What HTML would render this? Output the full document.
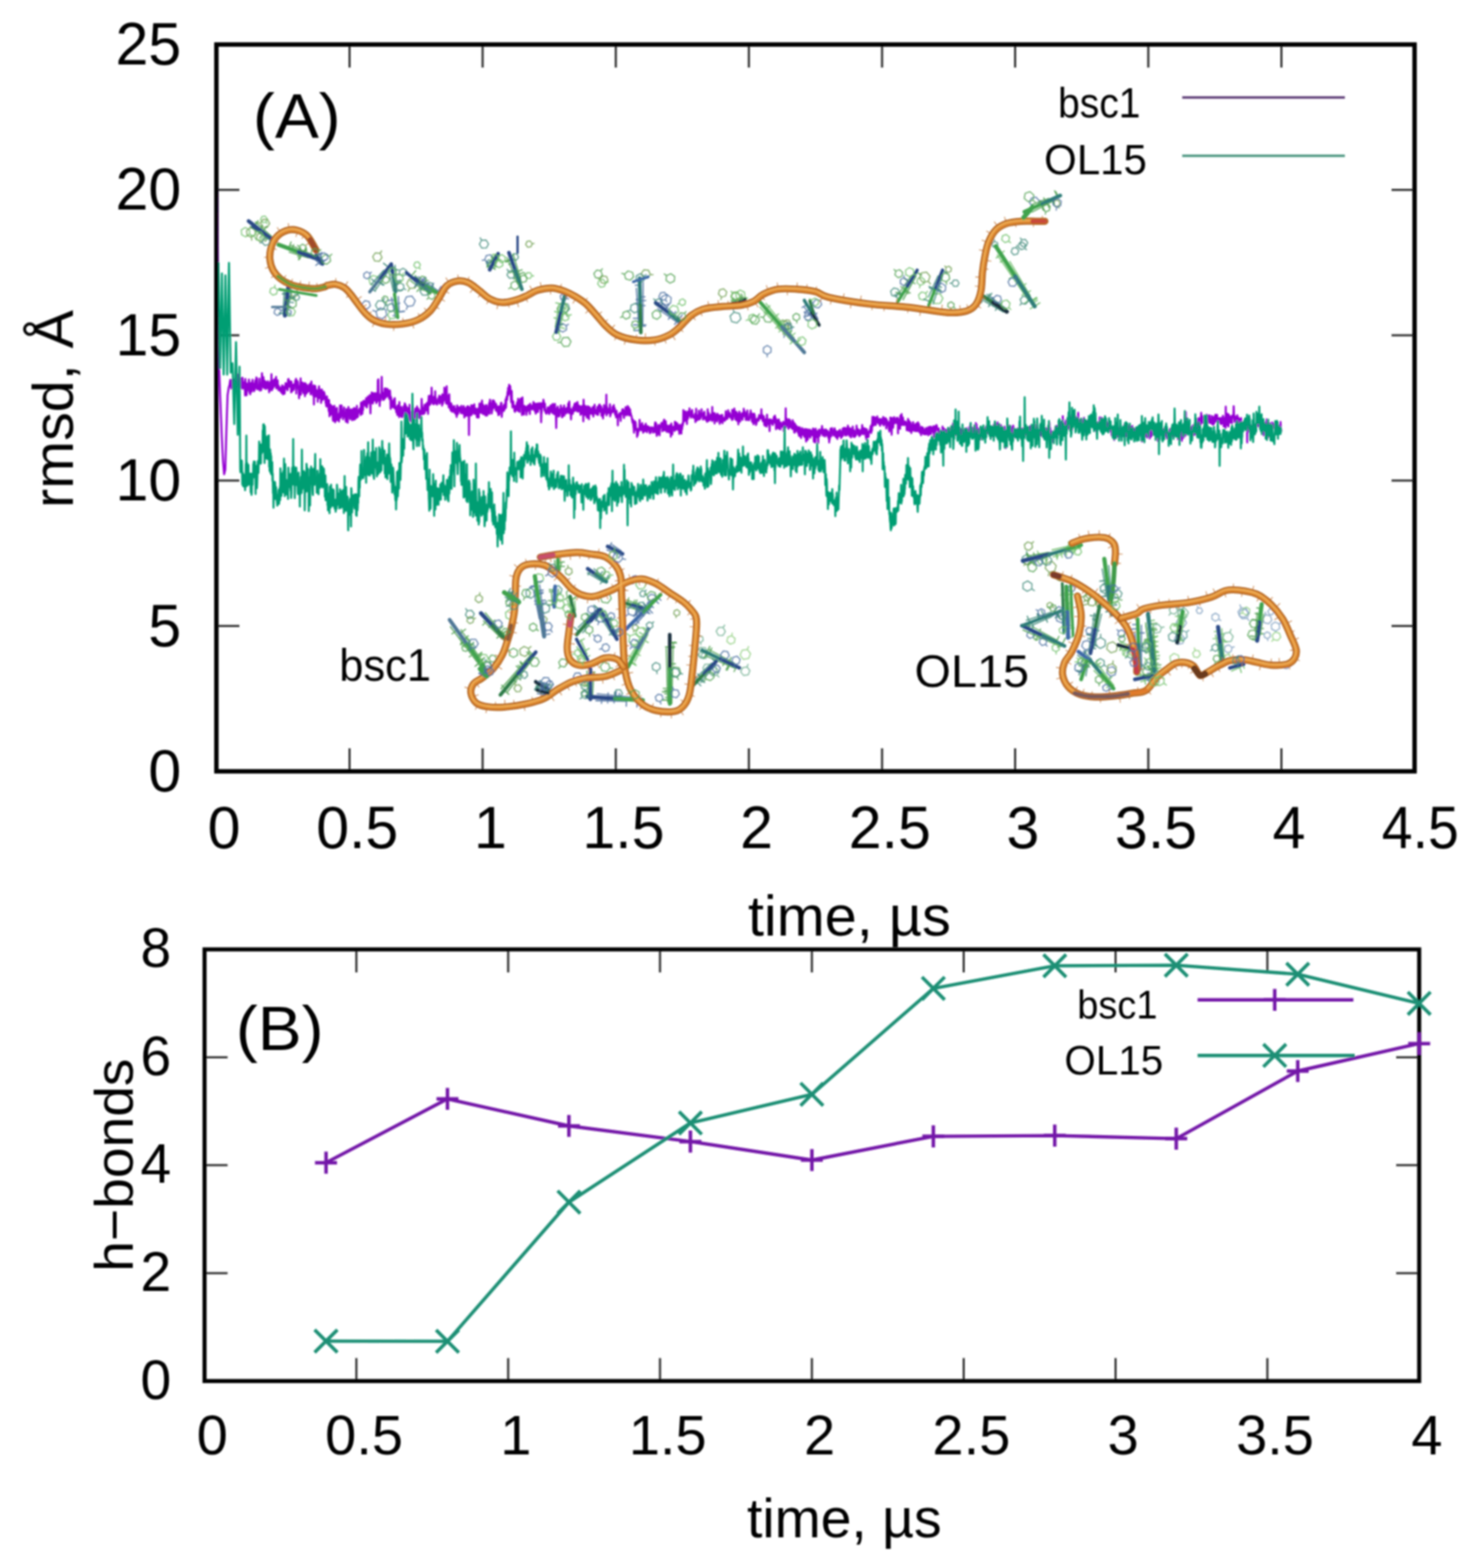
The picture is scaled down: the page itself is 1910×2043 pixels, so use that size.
<!DOCTYPE html>
<html><head><meta charset="utf-8"><title>rmsd and h-bonds</title>
<style>html,body{margin:0;padding:0;background:#fff;overflow:hidden}svg{display:block}
text{font-family:'Liberation Sans', Arial, Helvetica, sans-serif;fill:#000}</style></head>
<body><svg width="1910" height="2043" viewBox="0 0 1910 2043">
<defs><filter id="soft" filterUnits="userSpaceOnUse" x="0" y="0" width="1910" height="2043"><feGaussianBlur stdDeviation="0.8"/></filter></defs>
<rect width="1910" height="2043" fill="#fff"/>
<g filter="url(#soft)">
<path d="M455.4 1005.0v-30M455.4 58.0v30M628.8 1005.0v-30M628.8 58.0v30M802.3 1005.0v-30M802.3 58.0v30M975.7 1005.0v-30M975.7 58.0v30M1149.2 1005.0v-30M1149.2 58.0v30M1322.6 1005.0v-30M1322.6 58.0v30M1496.1 1005.0v-30M1496.1 58.0v30M1669.5 1005.0v-30M1669.5 58.0v30M281.9 815.6h30M1843.0 815.6h-30M281.9 626.2h30M1843.0 626.2h-30M281.9 436.8h30M1843.0 436.8h-30M281.9 247.4h30M1843.0 247.4h-30" stroke="#333" stroke-width="2.8" fill="none"/>
<rect x="281.9" y="58.0" width="1561.1" height="947.0" stroke="#000" stroke-width="5.3" fill="none"/>
<text x="236.1" y="1031.0" font-size="77" text-anchor="end" >0</text>
<text x="236.1" y="841.6" font-size="77" text-anchor="end" >5</text>
<text x="236.1" y="652.2" font-size="77" text-anchor="end" >10</text>
<text x="236.1" y="462.8" font-size="77" text-anchor="end" >15</text>
<text x="236.1" y="273.4" font-size="77" text-anchor="end" >20</text>
<text x="236.1" y="84.0" font-size="77" text-anchor="end" >25</text>
<text x="291.9" y="1104.5" font-size="77" text-anchor="middle" >0</text>
<text x="465.4" y="1104.5" font-size="77" text-anchor="middle" >0.5</text>
<text x="638.8" y="1104.5" font-size="77" text-anchor="middle" >1</text>
<text x="812.3" y="1104.5" font-size="77" text-anchor="middle" >1.5</text>
<text x="985.7" y="1104.5" font-size="77" text-anchor="middle" >2</text>
<text x="1159.2" y="1104.5" font-size="77" text-anchor="middle" >2.5</text>
<text x="1332.6" y="1104.5" font-size="77" text-anchor="middle" >3</text>
<text x="1506.1" y="1104.5" font-size="77" text-anchor="middle" >3.5</text>
<text x="1679.5" y="1104.5" font-size="77" text-anchor="middle" >4</text>
<text x="1800.3" y="1104.5" font-size="77" textLength="100.3" lengthAdjust="spacingAndGlyphs">4.5</text>
<text x="974.5" y="1218.6" font-size="75" textLength="264.3" lengthAdjust="spacingAndGlyphs">time, µs</text>
<text transform="translate(95.0 656.9) rotate(-90)" x="-4.9" y="0" font-size="75" textLength="257.9" lengthAdjust="spacingAndGlyphs">rmsd, Å</text>
<text x="329.6" y="179.2" font-size="82" textLength="114.3" lengthAdjust="spacingAndGlyphs">(A)</text>
<text x="1378.5" y="152.9" font-size="55" textLength="107.4" lengthAdjust="spacingAndGlyphs">bsc1</text>
<text x="1360.3" y="226.5" font-size="56" textLength="134.0" lengthAdjust="spacingAndGlyphs">OL15</text>
<path d="M1540.3 127.1H1752.2" stroke="#55306e" stroke-width="3"/>
<path d="M1540.3 203H1752.2" stroke="#3f8f78" stroke-width="3"/>
<path d="M464.3 1799.4v-30M464.3 1237.0v30M662.1 1799.4v-30M662.1 1237.0v30M859.9 1799.4v-30M859.9 1237.0v30M1057.8 1799.4v-30M1057.8 1237.0v30M1255.6 1799.4v-30M1255.6 1237.0v30M1453.4 1799.4v-30M1453.4 1237.0v30M1651.2 1799.4v-30M1651.2 1237.0v30M266.5 1658.8h30M1849.0 1658.8h-30M266.5 1518.2h30M1849.0 1518.2h-30M266.5 1377.6h30M1849.0 1377.6h-30" stroke="#333" stroke-width="2.8" fill="none"/>
<rect x="266.5" y="1237.0" width="1582.5" height="562.4" stroke="#000" stroke-width="5.3" fill="none"/>
<text x="223.1" y="1822.6" font-size="72" text-anchor="end" >0</text>
<text x="223.1" y="1682.0" font-size="72" text-anchor="end" >2</text>
<text x="223.1" y="1541.4" font-size="72" text-anchor="end" >4</text>
<text x="223.1" y="1400.8" font-size="72" text-anchor="end" >6</text>
<text x="223.1" y="1260.2" font-size="72" text-anchor="end" >8</text>
<text x="276.5" y="1894.6" font-size="73" text-anchor="middle" >0</text>
<text x="474.3" y="1894.6" font-size="73" text-anchor="middle" >0.5</text>
<text x="672.1" y="1894.6" font-size="73" text-anchor="middle" >1</text>
<text x="869.9" y="1894.6" font-size="73" text-anchor="middle" >1.5</text>
<text x="1067.8" y="1894.6" font-size="73" text-anchor="middle" >2</text>
<text x="1265.6" y="1894.6" font-size="73" text-anchor="middle" >2.5</text>
<text x="1463.4" y="1894.6" font-size="73" text-anchor="middle" >3</text>
<text x="1661.2" y="1894.6" font-size="73" text-anchor="middle" >3.5</text>
<text x="1859.0" y="1894.6" font-size="73" text-anchor="middle" >4</text>
<text x="973.2" y="2003.3" font-size="72" textLength="253.7" lengthAdjust="spacingAndGlyphs">time, µs</text>
<text transform="translate(173.0 1652.0) rotate(-90)" x="-5.0" y="0" font-size="71" textLength="277.8" lengthAdjust="spacingAndGlyphs">h−bonds</text>
<text x="307.3" y="1367.6" font-size="82" textLength="114.4" lengthAdjust="spacingAndGlyphs">(B)</text>
<text x="1403.4" y="1326.6" font-size="52" textLength="104.6" lengthAdjust="spacingAndGlyphs">bsc1</text>
<text x="1386.8" y="1400.3" font-size="53" textLength="128.6" lengthAdjust="spacingAndGlyphs">OL15</text>
<text x="442.1" y="887.1" font-size="60" textLength="119.5" lengthAdjust="spacingAndGlyphs">bsc1</text>
<text x="1191.6" y="895.3" font-size="60" textLength="149.1" lengthAdjust="spacingAndGlyphs">OL15</text>
<polyline points="282.6,228.0 283.2,260.0 283.8,330.0 284.5,420.0 285.5,480.0 287.0,520.0 289.0,570.0 290.5,600.0 292.0,618.0 293.5,612.0 295.0,560.0 296.5,515.0 298.0,505.0 299.0,502.0 300.0,495.1 300.3,501.9 300.7,503.4 301.0,500.4 301.3,506.3 301.7,504.0 302.0,494.9 302.3,500.7 302.7,495.9 303.0,502.0 303.3,496.0 303.7,504.6 304.0,502.4 304.3,506.5 304.7,499.3 305.0,494.0 305.3,507.7 305.7,498.6 306.0,504.2 306.3,499.1 306.7,499.0 307.0,504.7 307.3,497.2 307.7,503.0 308.0,490.4 308.3,501.5 308.7,494.6 309.0,491.1 309.3,496.5 309.7,498.7 310.0,503.9 310.3,487.9 310.7,496.4 311.0,492.8 311.3,503.0 311.7,495.5 312.0,500.0 312.3,497.4 312.7,502.1 313.0,504.0 313.3,497.9 313.7,500.4 314.0,492.8 314.3,501.2 314.7,505.3 315.0,497.6 315.3,506.4 315.7,492.0 316.0,492.6 316.3,496.8 316.7,501.6 317.0,502.8 317.3,502.5 317.7,503.1 318.0,506.5 318.3,501.7 318.7,497.9 319.0,498.5 319.3,515.2 319.7,493.8 320.0,503.8 320.3,510.8 320.7,506.4 321.0,499.2 321.3,515.0 321.7,506.4 322.0,508.9 322.3,500.2 322.7,506.5 323.0,503.5 323.3,508.1 323.7,507.7 324.0,499.5 324.3,494.6 324.7,504.4 325.0,511.5 325.3,506.2 325.7,503.8 326.0,513.6 326.3,499.2 326.7,507.7 327.0,500.7 327.3,503.9 327.7,503.9 328.0,510.3 328.3,498.1 328.7,500.0 329.0,494.9 329.3,507.4 329.7,501.9 330.0,505.9 330.3,499.6 330.7,502.5 331.0,509.8 331.3,504.1 331.7,508.2 332.0,506.4 332.3,502.6 332.7,495.5 333.0,505.5 333.3,501.8 333.7,505.0 334.0,491.7 334.3,495.6 334.7,492.7 335.0,498.1 335.3,507.3 335.7,505.7 336.0,502.8 336.3,503.5 336.7,507.1 337.0,502.7 337.3,505.0 337.7,503.8 338.0,493.2 338.3,500.6 338.7,509.0 339.0,500.3 339.3,502.5 339.7,500.7 340.0,501.4 340.3,508.3 340.7,501.9 341.0,496.7 341.3,486.3 341.7,498.7 342.0,490.6 342.3,492.5 342.7,503.3 343.0,504.0 343.3,491.5 343.7,505.4 344.0,503.9 344.3,497.1 344.7,505.5 345.0,496.2 345.3,498.1 345.7,496.9 346.0,498.3 346.3,506.7 346.7,497.7 347.0,498.1 347.3,499.0 347.7,503.7 348.0,500.8 348.3,505.4 348.7,499.6 349.0,496.9 349.3,501.6 349.7,506.4 350.0,499.1 350.3,504.5 350.7,511.2 351.0,500.3 351.3,503.0 351.7,508.9 352.0,498.6 352.3,497.3 352.7,497.9 353.0,504.4 353.3,504.1 353.7,487.5 354.0,504.0 354.3,508.4 354.7,506.6 355.0,495.8 355.3,500.8 355.7,502.4 356.0,505.4 356.3,501.4 356.7,499.0 357.0,500.5 357.3,494.2 357.7,502.3 358.0,498.9 358.3,503.0 358.7,500.9 359.0,500.2 359.3,498.2 359.7,491.1 360.0,505.9 360.3,500.3 360.7,505.2 361.0,497.9 361.3,503.5 361.7,495.5 362.0,502.3 362.3,502.8 362.7,508.1 363.0,505.7 363.3,502.8 363.7,508.4 364.0,506.3 364.3,507.7 364.7,509.2 365.0,506.0 365.3,505.6 365.7,509.1 366.0,505.0 366.3,509.8 366.7,511.7 367.0,511.1 367.3,505.7 367.7,502.1 368.0,509.1 368.3,509.7 368.7,513.8 369.0,505.0 369.3,506.4 369.7,509.6 370.0,503.9 370.3,506.0 370.7,513.0 371.0,510.0 371.3,506.5 371.7,505.1 372.0,499.3 372.3,506.5 372.7,503.5 373.0,503.1 373.3,499.9 373.7,501.6 374.0,499.7 374.3,502.9 374.7,508.4 375.0,504.2 375.3,494.3 375.7,497.2 376.0,493.9 376.3,497.1 376.7,504.0 377.0,502.9 377.3,499.1 377.7,503.7 378.0,501.1 378.3,496.9 378.7,498.0 379.0,500.5 379.3,511.1 379.7,497.2 380.0,508.9 380.3,510.2 380.7,503.3 381.0,504.1 381.3,501.4 381.7,505.3 382.0,508.4 382.3,503.5 382.7,507.6 383.0,507.0 383.3,500.6 383.7,500.7 384.0,500.8 384.3,503.1 384.7,495.8 385.0,502.4 385.3,503.0 385.7,493.5 386.0,512.8 386.3,498.7 386.7,499.5 387.0,505.7 387.3,496.2 387.7,501.7 388.0,497.5 388.3,500.6 388.7,503.9 389.0,507.1 389.3,509.6 389.7,518.9 390.0,510.1 390.3,506.3 390.7,503.3 391.0,511.9 391.3,504.1 391.7,493.0 392.0,514.2 392.3,508.4 392.7,506.1 393.0,508.6 393.3,509.4 393.7,498.2 394.0,503.9 394.3,499.0 394.7,506.2 395.0,500.9 395.3,512.2 395.7,509.8 396.0,503.1 396.3,506.3 396.7,499.2 397.0,506.5 397.3,516.1 397.7,509.1 398.0,499.5 398.3,506.7 398.7,510.6 399.0,509.2 399.3,512.8 399.7,501.5 400.0,511.1 400.3,506.0 400.7,509.6 401.0,509.8 401.3,510.4 401.7,505.9 402.0,509.7 402.3,503.3 402.7,501.6 403.0,509.5 403.3,506.6 403.7,500.2 404.0,503.3 404.3,507.0 404.7,513.8 405.0,511.6 405.3,509.0 405.7,497.0 406.0,504.2 406.3,507.8 406.7,506.9 407.0,507.6 407.3,506.1 407.7,515.0 408.0,513.1 408.3,506.1 408.7,502.1 409.0,526.9 409.3,503.7 409.7,513.6 410.0,516.5 410.3,503.4 410.7,503.0 411.0,506.0 411.3,509.1 411.7,507.6 412.0,516.7 412.3,509.9 412.7,508.6 413.0,515.4 413.3,509.4 413.7,509.6 414.0,523.4 414.3,509.1 414.7,510.1 415.0,511.4 415.3,506.6 415.7,503.3 416.0,518.8 416.3,509.6 416.7,510.0 417.0,510.6 417.3,508.3 417.7,507.9 418.0,514.1 418.3,524.9 418.7,517.2 419.0,517.5 419.3,507.5 419.7,514.5 420.0,509.9 420.3,521.1 420.7,517.5 421.0,519.2 421.3,517.5 421.7,516.1 422.0,510.6 422.3,519.7 422.7,512.3 423.0,514.7 423.3,519.3 423.7,516.5 424.0,521.5 424.3,525.2 424.7,523.2 425.0,529.0 425.3,525.7 425.7,529.5 426.0,516.6 426.3,527.5 426.7,522.1 427.0,520.5 427.3,527.1 427.7,525.1 428.0,531.4 428.3,535.6 428.7,521.4 429.0,531.9 429.3,542.4 429.7,537.8 430.0,540.7 430.3,534.8 430.7,527.3 431.0,528.2 431.3,538.2 431.7,540.0 432.0,533.2 432.3,537.0 432.7,538.5 433.0,529.4 433.3,536.3 433.7,545.9 434.0,548.4 434.3,538.9 434.7,548.1 435.0,536.3 435.3,534.3 435.7,528.7 436.0,544.0 436.3,536.2 436.7,550.2 437.0,541.6 437.3,542.2 437.7,532.6 438.0,547.6 438.3,538.0 438.7,541.3 439.0,531.6 439.3,547.4 439.7,546.9 440.0,539.6 440.3,541.1 440.7,542.2 441.0,545.8 441.3,540.7 441.7,549.2 442.0,540.5 442.3,537.8 442.7,538.1 443.0,528.3 443.3,536.4 443.7,544.4 444.0,540.4 444.3,535.4 444.7,540.1 445.0,528.3 445.3,536.7 445.7,541.6 446.0,541.3 446.3,534.9 446.7,542.4 447.0,546.3 447.3,536.9 447.7,542.1 448.0,533.3 448.3,530.9 448.7,543.3 449.0,540.6 449.3,540.9 449.7,538.0 450.0,539.4 450.3,545.2 450.7,549.4 451.0,539.6 451.3,533.1 451.7,546.8 452.0,544.7 452.3,544.4 452.7,542.2 453.0,550.6 453.3,541.1 453.7,542.4 454.0,530.2 454.3,536.4 454.7,537.3 455.0,539.2 455.3,540.3 455.7,535.0 456.0,545.9 456.3,533.9 456.7,539.4 457.0,539.4 457.3,533.6 457.7,541.7 458.0,542.8 458.3,538.0 458.7,547.5 459.0,537.9 459.3,541.1 459.7,535.5 460.0,532.8 460.3,537.9 460.7,539.7 461.0,539.4 461.3,547.0 461.7,531.6 462.0,536.1 462.3,532.2 462.7,546.0 463.0,538.3 463.3,539.6 463.7,536.2 464.0,544.5 464.3,538.0 464.7,542.0 465.0,528.8 465.3,544.0 465.7,539.3 466.0,540.9 466.3,542.9 466.7,535.9 467.0,534.5 467.3,537.7 467.7,537.6 468.0,535.1 468.3,535.8 468.7,532.2 469.0,535.9 469.3,536.5 469.7,532.2 470.0,540.6 470.3,524.7 470.7,529.5 471.0,538.3 471.3,528.4 471.7,524.0 472.0,539.1 472.3,534.6 472.7,525.4 473.0,534.1 473.3,524.8 473.7,522.4 474.0,527.5 474.3,524.9 474.7,522.6 475.0,525.8 475.3,523.0 475.7,527.6 476.0,526.4 476.3,529.1 476.7,523.3 477.0,518.8 477.3,519.0 477.7,523.9 478.0,530.9 478.3,527.8 478.7,519.8 479.0,526.6 479.3,516.8 479.7,525.0 480.0,519.0 480.3,524.6 480.7,523.9 481.0,519.5 481.3,522.1 481.7,514.9 482.0,519.4 482.3,524.4 482.7,538.6 483.0,521.9 483.3,519.5 483.7,514.7 484.0,524.2 484.3,511.3 484.7,515.8 485.0,519.6 485.3,512.9 485.7,525.8 486.0,524.0 486.3,516.6 486.7,516.0 487.0,512.2 487.3,512.3 487.7,521.0 488.0,521.8 488.3,519.0 488.7,519.0 489.0,516.1 489.3,521.0 489.7,512.4 490.0,517.5 490.3,525.1 490.7,524.2 491.0,513.6 491.3,514.6 491.7,521.3 492.0,522.3 492.3,495.3 492.7,513.3 493.0,494.3 493.3,521.2 493.7,513.4 494.0,521.6 494.3,517.0 494.7,529.0 495.0,518.8 495.3,515.5 495.7,515.0 496.0,521.8 496.3,520.2 496.7,512.9 497.0,518.1 497.3,491.1 497.7,514.1 498.0,512.0 498.3,512.7 498.7,515.8 499.0,513.9 499.3,521.0 499.7,521.1 500.0,514.7 500.3,511.2 500.7,520.0 501.0,507.2 501.3,506.1 501.7,518.1 502.0,517.4 502.3,518.2 502.7,510.9 503.0,506.2 503.3,510.9 503.7,516.4 504.0,509.9 504.3,510.5 504.7,508.1 505.0,506.8 505.3,516.3 505.7,515.3 506.0,508.7 506.3,510.8 506.7,514.2 507.0,519.4 507.3,512.2 507.7,517.9 508.0,508.7 508.3,513.1 508.7,522.1 509.0,532.6 509.3,517.0 509.7,519.0 510.0,526.7 510.3,522.7 510.7,522.2 511.0,528.7 511.3,526.4 511.7,530.7 512.0,529.4 512.3,524.1 512.7,527.5 513.0,526.6 513.3,520.2 513.7,522.7 514.0,531.6 514.3,518.9 514.7,532.4 515.0,530.2 515.3,529.1 515.7,532.3 516.0,533.5 516.3,537.1 516.7,531.1 517.0,531.4 517.3,530.6 517.7,540.7 518.0,535.9 518.3,528.0 518.7,531.0 519.0,528.6 519.3,532.1 519.7,532.8 520.0,543.4 520.3,523.9 520.7,536.8 521.0,535.4 521.3,532.2 521.7,536.4 522.0,534.6 522.3,537.0 522.7,542.6 523.0,530.4 523.3,542.3 523.7,534.5 524.0,543.4 524.3,537.5 524.7,539.7 525.0,535.4 525.3,538.6 525.7,533.4 526.0,529.4 526.3,536.7 526.7,537.6 527.0,543.8 527.3,525.5 527.7,533.2 528.0,538.8 528.3,527.4 528.7,533.5 529.0,544.4 529.3,540.7 529.7,530.0 530.0,540.7 530.3,540.4 530.7,537.3 531.0,534.8 531.3,534.2 531.7,531.7 532.0,534.4 532.3,540.1 532.7,538.0 533.0,547.7 533.3,537.3 533.7,527.3 534.0,537.8 534.3,540.9 534.7,541.8 535.0,539.7 535.3,537.2 535.7,549.1 536.0,539.3 536.3,545.8 536.7,539.0 537.0,535.2 537.3,546.8 537.7,529.0 538.0,537.0 538.3,542.4 538.7,537.1 539.0,543.6 539.3,538.0 539.7,536.2 540.0,547.8 540.3,536.6 540.7,535.0 541.0,532.3 541.3,534.3 541.7,541.9 542.0,543.4 542.3,540.8 542.7,535.8 543.0,541.5 543.3,529.6 543.7,535.7 544.0,536.5 544.3,532.3 544.7,537.7 545.0,532.9 545.3,532.6 545.7,544.4 546.0,539.2 546.3,541.1 546.7,535.3 547.0,538.9 547.3,536.4 547.7,538.5 548.0,545.5 548.3,535.1 548.7,538.2 549.0,536.9 549.3,519.8 549.7,530.4 550.0,536.3 550.3,538.5 550.7,532.1 551.0,539.6 551.3,539.4 551.7,531.0 552.0,538.1 552.3,538.9 552.7,534.8 553.0,527.5 553.3,538.1 553.7,530.6 554.0,529.8 554.3,530.5 554.7,526.9 555.0,534.7 555.3,533.1 555.7,534.7 556.0,532.7 556.3,525.1 556.7,527.6 557.0,531.4 557.3,526.3 557.7,539.3 558.0,523.7 558.3,521.3 558.7,515.9 559.0,528.0 559.3,525.2 559.7,522.3 560.0,525.7 560.3,527.2 560.7,526.2 561.0,515.3 561.3,524.3 561.7,524.4 562.0,523.9 562.3,505.1 562.7,515.0 563.0,516.2 563.3,519.3 563.7,522.8 564.0,526.1 564.3,523.4 564.7,519.5 565.0,519.6 565.3,526.8 565.7,516.7 566.0,520.7 566.3,525.0 566.7,520.5 567.0,509.8 567.3,521.6 567.7,518.4 568.0,520.5 568.3,526.0 568.7,524.6 569.0,521.6 569.3,527.2 569.7,525.4 570.0,522.5 570.3,523.3 570.7,522.9 571.0,520.4 571.3,518.7 571.7,522.5 572.0,518.1 572.3,515.6 572.7,525.9 573.0,518.8 573.3,520.0 573.7,519.0 574.0,520.1 574.3,519.7 574.7,520.7 575.0,516.2 575.3,524.4 575.7,518.0 576.0,528.4 576.3,513.7 576.7,517.2 577.0,525.9 577.3,521.4 577.7,518.0 578.0,522.5 578.3,516.0 578.7,520.4 579.0,505.1 579.3,517.2 579.7,514.6 580.0,519.2 580.3,520.9 580.7,513.6 581.0,525.2 581.3,513.9 581.7,507.3 582.0,503.3 582.3,526.3 582.7,519.4 583.0,516.6 583.3,517.1 583.7,515.9 584.0,526.7 584.3,520.0 584.7,530.7 585.0,522.3 585.3,513.9 585.7,528.6 586.0,524.3 586.3,524.7 586.7,533.2 587.0,527.5 587.3,534.9 587.7,529.2 588.0,525.8 588.3,532.1 588.7,528.3 589.0,536.4 589.3,533.7 589.7,529.7 590.0,532.6 590.3,532.8 590.7,530.5 591.0,536.4 591.3,532.2 591.7,535.2 592.0,529.0 592.3,536.0 592.7,538.1 593.0,532.8 593.3,534.3 593.7,535.0 594.0,539.6 594.3,532.5 594.7,538.0 595.0,543.3 595.3,537.2 595.7,528.2 596.0,535.7 596.3,539.8 596.7,533.4 597.0,538.6 597.3,536.3 597.7,536.1 598.0,532.0 598.3,530.6 598.7,532.4 599.0,532.9 599.3,535.2 599.7,533.8 600.0,531.6 600.3,535.4 600.7,538.5 601.0,528.7 601.3,533.0 601.7,532.6 602.0,535.1 602.3,535.9 602.7,534.4 603.0,532.2 603.3,539.0 603.7,538.1 604.0,529.1 604.3,535.8 604.7,530.5 605.0,543.9 605.3,533.7 605.7,534.2 606.0,535.6 606.3,532.2 606.7,533.6 607.0,541.6 607.3,535.5 607.7,538.2 608.0,540.4 608.3,530.1 608.7,541.5 609.0,536.7 609.3,539.0 609.7,529.2 610.0,538.0 610.3,535.4 610.7,530.0 611.0,566.7 611.3,536.2 611.7,531.2 612.0,533.0 612.3,537.2 612.7,539.3 613.0,536.3 613.3,539.5 613.7,541.3 614.0,528.1 614.3,531.8 614.7,529.6 615.0,533.8 615.3,539.5 615.7,536.0 616.0,528.2 616.3,531.1 616.7,536.9 617.0,530.8 617.3,533.0 617.7,535.6 618.0,526.8 618.3,539.1 618.7,538.9 619.0,538.8 619.3,532.1 619.7,532.4 620.0,534.6 620.3,539.6 620.7,536.5 621.0,535.5 621.3,543.6 621.7,541.9 622.0,532.9 622.3,532.9 622.7,543.9 623.0,534.8 623.3,542.2 623.7,543.9 624.0,531.7 624.3,533.4 624.7,525.9 625.0,530.4 625.3,529.5 625.7,531.3 626.0,537.4 626.3,530.5 626.7,530.9 627.0,528.4 627.3,524.5 627.7,538.3 628.0,521.8 628.3,529.5 628.7,536.0 629.0,527.0 629.3,536.1 629.7,539.6 630.0,530.7 630.3,535.2 630.7,528.8 631.0,536.0 631.3,534.1 631.7,533.8 632.0,540.1 632.3,535.5 632.7,541.4 633.0,535.8 633.3,527.7 633.7,534.8 634.0,535.4 634.3,528.3 634.7,541.3 635.0,536.8 635.3,538.7 635.7,531.9 636.0,535.7 636.3,536.9 636.7,533.9 637.0,535.6 637.3,525.0 637.7,539.2 638.0,527.6 638.3,520.7 638.7,526.9 639.0,527.0 639.3,532.9 639.7,526.3 640.0,532.3 640.3,525.5 640.7,538.8 641.0,530.7 641.3,535.8 641.7,521.9 642.0,531.7 642.3,523.8 642.7,531.9 643.0,531.5 643.3,521.9 643.7,524.1 644.0,524.3 644.3,523.6 644.7,529.0 645.0,528.2 645.3,526.2 645.7,532.3 646.0,534.9 646.3,526.4 646.7,530.6 647.0,533.1 647.3,533.6 647.7,529.6 648.0,536.1 648.3,537.1 648.7,536.0 649.0,531.4 649.3,540.9 649.7,538.7 650.0,529.5 650.3,533.1 650.7,539.9 651.0,529.9 651.3,534.4 651.7,532.5 652.0,530.2 652.3,531.5 652.7,525.1 653.0,530.5 653.3,524.9 653.7,543.2 654.0,538.8 654.3,536.3 654.7,531.8 655.0,533.1 655.3,535.4 655.7,534.0 656.0,534.4 656.3,528.4 656.7,535.3 657.0,530.1 657.3,526.9 657.7,526.9 658.0,531.7 658.3,532.3 658.7,520.6 659.0,531.4 659.3,530.5 659.7,519.3 660.0,517.0 660.3,517.5 660.7,520.9 661.0,514.4 661.3,510.6 661.7,515.6 662.0,505.4 662.3,511.2 662.7,514.1 663.0,508.5 663.3,501.3 663.7,506.8 664.0,505.5 664.3,504.4 664.7,502.9 665.0,507.6 665.3,509.5 665.7,518.7 666.0,524.0 666.3,519.1 666.7,509.6 667.0,520.0 667.3,523.6 667.7,530.9 668.0,526.9 668.3,525.5 668.7,523.1 669.0,530.1 669.3,529.1 669.7,528.2 670.0,529.2 670.3,535.5 670.7,528.8 671.0,536.6 671.3,534.7 671.7,530.9 672.0,534.7 672.3,531.1 672.7,528.5 673.0,530.8 673.3,528.0 673.7,524.4 674.0,532.1 674.3,533.2 674.7,535.5 675.0,519.6 675.3,532.6 675.7,523.7 676.0,531.0 676.3,527.1 676.7,530.4 677.0,536.6 677.3,521.3 677.7,529.3 678.0,527.9 678.3,519.2 678.7,529.7 679.0,528.6 679.3,527.4 679.7,525.5 680.0,540.7 680.3,528.4 680.7,517.7 681.0,526.9 681.3,530.1 681.7,532.3 682.0,534.4 682.3,530.5 682.7,540.2 683.0,532.9 683.3,528.7 683.7,529.6 684.0,531.2 684.3,535.0 684.7,533.5 685.0,530.5 685.3,533.9 685.7,533.7 686.0,540.5 686.3,530.0 686.7,534.5 687.0,536.4 687.3,529.3 687.7,532.8 688.0,531.2 688.3,528.1 688.7,532.7 689.0,534.6 689.3,534.2 689.7,529.1 690.0,530.7 690.3,539.5 690.7,526.1 691.0,531.0 691.3,532.1 691.7,528.6 692.0,532.3 692.3,528.7 692.7,531.0 693.0,533.5 693.3,530.1 693.7,529.1 694.0,528.5 694.3,527.5 694.7,529.2 695.0,523.7 695.3,530.9 695.7,534.0 696.0,533.9 696.3,533.0 696.7,525.8 697.0,535.9 697.3,527.5 697.7,531.0 698.0,539.0 698.3,529.4 698.7,537.5 699.0,526.0 699.3,533.2 699.7,531.2 700.0,534.4 700.3,531.4 700.7,536.3 701.0,536.6 701.3,525.6 701.7,528.1 702.0,529.0 702.3,527.0 702.7,528.2 703.0,532.5 703.3,531.3 703.7,525.4 704.0,529.8 704.3,533.5 704.7,527.9 705.0,550.1 705.3,539.4 705.7,537.0 706.0,525.6 706.3,525.4 706.7,530.8 707.0,526.6 707.3,530.4 707.7,528.4 708.0,520.9 708.3,523.1 708.7,524.0 709.0,527.0 709.3,534.8 709.7,531.0 710.0,526.1 710.3,535.2 710.7,537.0 711.0,538.0 711.3,535.1 711.7,538.1 712.0,539.1 712.3,535.0 712.7,536.5 713.0,533.9 713.3,533.4 713.7,530.9 714.0,534.2 714.3,533.4 714.7,534.1 715.0,538.3 715.3,537.3 715.7,539.4 716.0,530.5 716.3,535.7 716.7,530.9 717.0,529.7 717.3,528.7 717.7,536.4 718.0,536.2 718.3,530.2 718.7,527.7 719.0,533.8 719.3,531.6 719.7,538.1 720.0,527.2 720.3,526.3 720.7,531.3 721.0,533.1 721.3,533.1 721.7,534.6 722.0,539.6 722.3,531.7 722.7,530.4 723.0,526.4 723.3,533.6 723.7,538.4 724.0,533.5 724.3,539.8 724.7,557.6 725.0,540.4 725.3,536.7 725.7,532.2 726.0,534.6 726.3,531.3 726.7,529.7 727.0,536.2 727.3,538.6 727.7,542.8 728.0,536.6 728.3,536.0 728.7,533.5 729.0,542.0 729.3,539.5 729.7,534.1 730.0,537.4 730.3,535.5 730.7,528.2 731.0,536.7 731.3,535.6 731.7,534.0 732.0,535.3 732.3,543.7 732.7,542.4 733.0,543.0 733.3,532.1 733.7,533.7 734.0,538.6 734.3,530.8 734.7,533.9 735.0,528.2 735.3,541.5 735.7,537.7 736.0,535.7 736.3,535.5 736.7,533.1 737.0,533.8 737.3,535.8 737.7,532.1 738.0,538.4 738.3,532.8 738.7,531.5 739.0,536.9 739.3,531.2 739.7,534.1 740.0,532.2 740.3,525.9 740.7,536.2 741.0,528.0 741.3,538.2 741.7,523.0 742.0,529.0 742.3,536.4 742.7,535.3 743.0,534.9 743.3,532.6 743.7,540.5 744.0,546.4 744.3,536.5 744.7,534.0 745.0,536.4 745.3,539.4 745.7,533.6 746.0,538.0 746.3,539.1 746.7,530.6 747.0,532.6 747.3,534.5 747.7,532.4 748.0,535.7 748.3,526.9 748.7,535.3 749.0,534.4 749.3,530.9 749.7,525.2 750.0,529.4 750.3,526.4 750.7,531.2 751.0,529.7 751.3,534.9 751.7,529.5 752.0,536.0 752.3,523.7 752.7,528.4 753.0,533.7 753.3,528.3 753.7,536.2 754.0,528.2 754.3,531.9 754.7,528.9 755.0,531.1 755.3,532.2 755.7,530.6 756.0,530.5 756.3,540.4 756.7,532.3 757.0,529.5 757.3,537.0 757.7,535.1 758.0,536.5 758.3,539.2 758.7,529.0 759.0,534.5 759.3,535.0 759.7,531.9 760.0,549.0 760.3,520.9 760.7,532.3 761.0,539.8 761.3,528.0 761.7,533.6 762.0,537.4 762.3,538.4 762.7,541.0 763.0,529.3 763.3,535.1 763.7,535.7 764.0,530.7 764.3,535.8 764.7,544.3 765.0,541.2 765.3,539.5 765.7,529.3 766.0,539.3 766.3,540.6 766.7,536.6 767.0,537.1 767.3,546.2 767.7,532.8 768.0,530.3 768.3,533.9 768.7,531.9 769.0,532.0 769.3,534.8 769.7,539.0 770.0,536.9 770.3,532.7 770.7,535.7 771.0,537.5 771.3,534.8 771.7,539.4 772.0,537.8 772.3,530.2 772.7,535.2 773.0,542.8 773.3,540.5 773.7,534.9 774.0,537.6 774.3,531.0 774.7,527.3 775.0,536.1 775.3,537.2 775.7,538.5 776.0,535.8 776.3,537.6 776.7,534.2 777.0,538.4 777.3,539.8 777.7,536.7 778.0,540.2 778.3,530.2 778.7,533.3 779.0,539.7 779.3,540.5 779.7,533.9 780.0,532.8 780.3,527.9 780.7,534.2 781.0,536.4 781.3,527.1 781.7,534.1 782.0,533.3 782.3,534.2 782.7,530.4 783.0,537.3 783.3,529.6 783.7,541.8 784.0,535.5 784.3,535.6 784.7,540.6 785.0,537.4 785.3,533.5 785.7,545.2 786.0,532.5 786.3,537.4 786.7,540.3 787.0,527.9 787.3,538.3 787.7,534.0 788.0,534.7 788.3,531.2 788.7,537.4 789.0,532.3 789.3,534.8 789.7,535.8 790.0,514.2 790.3,541.3 790.7,529.7 791.0,533.1 791.3,533.9 791.7,535.6 792.0,538.4 792.3,537.6 792.7,533.4 793.0,532.8 793.3,534.0 793.7,537.7 794.0,538.0 794.3,533.2 794.7,526.9 795.0,542.5 795.3,538.2 795.7,536.8 796.0,539.5 796.3,536.9 796.7,534.9 797.0,536.9 797.3,536.3 797.7,534.0 798.0,530.1 798.3,533.9 798.7,536.9 799.0,533.8 799.3,535.4 799.7,527.8 800.0,533.5 800.3,535.5 800.7,532.0 801.0,531.8 801.3,540.0 801.7,536.7 802.0,540.9 802.3,538.0 802.7,543.8 803.0,538.7 803.3,535.2 803.7,541.5 804.0,540.4 804.3,544.1 804.7,540.8 805.0,554.3 805.3,544.2 805.7,544.0 806.0,541.6 806.3,541.8 806.7,539.4 807.0,540.6 807.3,541.2 807.7,538.1 808.0,538.7 808.3,539.8 808.7,548.4 809.0,539.1 809.3,537.9 809.7,537.7 810.0,539.1 810.3,538.3 810.7,533.9 811.0,533.4 811.3,539.5 811.7,533.4 812.0,540.2 812.3,539.4 812.7,544.1 813.0,544.6 813.3,539.9 813.7,538.7 814.0,535.0 814.3,535.8 814.7,538.7 815.0,530.5 815.3,539.6 815.7,538.2 816.0,541.2 816.3,536.3 816.7,538.4 817.0,535.2 817.3,533.7 817.7,529.1 818.0,535.1 818.3,540.1 818.7,536.8 819.0,536.5 819.3,530.9 819.7,541.2 820.0,533.5 820.3,540.6 820.7,538.4 821.0,533.6 821.3,540.7 821.7,538.2 822.0,539.6 822.3,542.2 822.7,542.2 823.0,542.5 823.3,546.7 823.7,547.1 824.0,550.4 824.3,548.3 824.7,546.7 825.0,552.1 825.3,555.0 825.7,558.4 826.0,563.7 826.3,553.4 826.7,558.3 827.0,548.8 827.3,554.0 827.7,555.6 828.0,549.8 828.3,552.5 828.7,560.3 829.0,560.0 829.3,561.2 829.7,559.1 830.0,569.1 830.3,561.2 830.7,558.8 831.0,566.8 831.3,562.9 831.7,559.0 832.0,562.7 832.3,558.9 832.7,560.4 833.0,558.6 833.3,547.1 833.7,559.8 834.0,557.1 834.3,553.3 834.7,553.3 835.0,560.4 835.3,554.7 835.7,556.3 836.0,560.0 836.3,557.6 836.7,551.3 837.0,560.3 837.3,561.2 837.7,560.7 838.0,563.8 838.3,560.3 838.7,559.8 839.0,562.2 839.3,554.7 839.7,561.3 840.0,560.9 840.3,557.2 840.7,561.7 841.0,557.7 841.3,552.0 841.7,560.0 842.0,556.8 842.3,557.5 842.7,558.4 843.0,563.2 843.3,559.7 843.7,555.3 844.0,558.8 844.3,560.2 844.7,555.9 845.0,556.2 845.3,556.3 845.7,556.7 846.0,559.7 846.3,562.3 846.7,564.5 847.0,561.4 847.3,560.5 847.7,563.1 848.0,563.4 848.3,556.8 848.7,560.3 849.0,558.9 849.3,558.0 849.7,557.0 850.0,558.7 850.3,559.6 850.7,557.3 851.0,563.6 851.3,561.9 851.7,560.8 852.0,561.4 852.3,562.6 852.7,557.5 853.0,557.3 853.3,552.8 853.7,550.3 854.0,551.0 854.3,563.4 854.7,551.2 855.0,559.9 855.3,562.5 855.7,567.9 856.0,562.9 856.3,564.0 856.7,560.6 857.0,565.4 857.3,558.5 857.7,553.9 858.0,559.7 858.3,555.4 858.7,553.9 859.0,554.8 859.3,567.3 859.7,557.7 860.0,558.2 860.3,554.4 860.7,556.4 861.0,555.0 861.3,554.4 861.7,551.3 862.0,551.0 862.3,551.8 862.7,556.5 863.0,562.0 863.3,558.1 863.7,561.0 864.0,555.6 864.3,552.8 864.7,548.1 865.0,553.5 865.3,546.8 865.7,554.4 866.0,560.8 866.3,555.9 866.7,550.9 867.0,553.8 867.3,548.8 867.7,553.7 868.0,553.9 868.3,559.3 868.7,562.8 869.0,554.3 869.3,556.2 869.7,558.1 870.0,557.5 870.3,555.4 870.7,561.3 871.0,562.0 871.3,563.2 871.7,557.3 872.0,561.1 872.3,554.2 872.7,563.3 873.0,557.0 873.3,558.3 873.7,558.3 874.0,568.9 874.3,556.5 874.7,551.8 875.0,564.4 875.3,559.8 875.7,559.1 876.0,565.9 876.3,555.9 876.7,559.2 877.0,556.9 877.3,556.5 877.7,558.1 878.0,558.3 878.3,556.2 878.7,559.1 879.0,561.5 879.3,549.5 879.7,558.7 880.0,556.9 880.3,556.8 880.7,550.6 881.0,559.6 881.3,555.2 881.7,559.1 882.0,557.4 882.3,551.6 882.7,557.2 883.0,553.2 883.3,557.1 883.7,560.3 884.0,560.4 884.3,560.3 884.7,558.3 885.0,565.2 885.3,560.1 885.7,553.6 886.0,558.0 886.3,557.8 886.7,558.8 887.0,558.0 887.3,557.2 887.7,565.0 888.0,556.4 888.3,553.8 888.7,559.2 889.0,551.8 889.3,555.3 889.7,551.4 890.0,552.2 890.3,534.4 890.7,544.9 891.0,545.5 891.3,549.1 891.7,542.2 892.0,536.9 892.3,545.8 892.7,539.9 893.0,536.0 893.3,541.0 893.7,547.3 894.0,548.7 894.3,546.2 894.7,538.8 895.0,552.5 895.3,538.1 895.7,540.1 896.0,536.3 896.3,545.6 896.7,542.3 897.0,542.8 897.3,539.0 897.7,537.7 898.0,538.7 898.3,532.0 898.7,540.7 899.0,541.5 899.3,536.2 899.7,537.0 900.0,539.3 900.3,544.2 900.7,539.1 901.0,539.8 901.3,537.3 901.7,534.2 902.0,537.9 902.3,541.8 902.7,540.3 903.0,542.5 903.3,544.2 903.7,544.2 904.0,542.9 904.3,543.9 904.7,544.0 905.0,543.4 905.3,545.2 905.7,539.1 906.0,549.9 906.3,539.7 906.7,547.8 907.0,532.5 907.3,548.3 907.7,545.3 908.0,541.0 908.3,547.5 908.7,544.3 909.0,543.9 909.3,542.8 909.7,546.6 910.0,544.0 910.3,541.6 910.7,535.0 911.0,539.0 911.3,541.3 911.7,546.4 912.0,542.1 912.3,540.4 912.7,544.6 913.0,538.8 913.3,538.3 913.7,539.7 914.0,533.2 914.3,538.4 914.7,541.8 915.0,540.4 915.3,538.8 915.7,543.3 916.0,546.6 916.3,540.2 916.7,538.9 917.0,545.2 917.3,537.8 917.7,536.5 918.0,543.5 918.3,542.9 918.7,544.5 919.0,543.6 919.3,546.6 919.7,544.5 920.0,543.7 920.3,543.4 920.7,548.6 921.0,549.3 921.3,549.6 921.7,548.4 922.0,533.4 922.3,543.2 922.7,544.9 923.0,545.3 923.3,537.8 923.7,548.3 924.0,546.2 924.3,542.7 924.7,546.1 925.0,543.1 925.3,541.7 925.7,546.6 926.0,544.5 926.3,540.1 926.7,543.1 927.0,544.9 927.3,540.2 927.7,548.4 928.0,530.2 928.3,547.6 928.7,545.1 929.0,539.0 929.3,542.5 929.7,545.1 930.0,541.6 930.3,538.2 930.7,543.8 931.0,551.7 931.3,538.5 931.7,546.4 932.0,544.0 932.3,543.3 932.7,542.1 933.0,542.3 933.3,548.0 933.7,546.4 934.0,540.3 934.3,549.1 934.7,539.0 935.0,545.1 935.3,542.9 935.7,546.5 936.0,542.9 936.3,545.4 936.7,541.0 937.0,546.6 937.3,545.4 937.7,552.1 938.0,541.6 938.3,550.2 938.7,547.5 939.0,546.0 939.3,543.3 939.7,546.9 940.0,541.0 940.3,540.9 940.7,550.0 941.0,540.5 941.3,551.5 941.7,544.0 942.0,547.3 942.3,545.9 942.7,546.8 943.0,544.8 943.3,545.3 943.7,544.7 944.0,548.3 944.3,547.2 944.7,547.7 945.0,544.3 945.3,541.8 945.7,535.9 946.0,543.9 946.3,544.0 946.7,540.2 947.0,545.9 947.3,545.9 947.7,541.6 948.0,544.8 948.3,542.6 948.7,534.5 949.0,539.1 949.3,538.5 949.7,542.7 950.0,538.0 950.3,539.5 950.7,538.0 951.0,541.2 951.3,540.3 951.7,544.3 952.0,544.1 952.3,541.8 952.7,543.0 953.0,543.7 953.3,542.6 953.7,547.1 954.0,534.0 954.3,543.6 954.7,544.5 955.0,546.2 955.3,537.7 955.7,542.5 956.0,543.0 956.3,538.6 956.7,532.4 957.0,537.1 957.3,535.3 957.7,541.6 958.0,536.5 958.3,546.8 958.7,541.8 959.0,538.2 959.3,539.4 959.7,536.7 960.0,543.7 960.3,548.3 960.7,541.1 961.0,545.2 961.3,539.2 961.7,544.1 962.0,552.9 962.3,540.5 962.7,549.2 963.0,548.7 963.3,536.3 963.7,538.0 964.0,539.7 964.3,549.1 964.7,543.8 965.0,542.5 965.3,545.0 965.7,543.0 966.0,542.2 966.3,539.5 966.7,544.6 967.0,538.2 967.3,547.0 967.7,539.1 968.0,538.3 968.3,543.2 968.7,542.3 969.0,532.5 969.3,540.1 969.7,535.4 970.0,536.1 970.3,542.3 970.7,537.4 971.0,541.7 971.3,539.6 971.7,547.2 972.0,541.4 972.3,538.7 972.7,539.2 973.0,538.4 973.3,541.4 973.7,534.8 974.0,547.3 974.3,544.7 974.7,545.7 975.0,545.7 975.3,543.9 975.7,545.4 976.0,547.5 976.3,546.1 976.7,542.3 977.0,539.1 977.3,541.4 977.7,544.2 978.0,534.7 978.3,541.4 978.7,542.8 979.0,540.2 979.3,538.6 979.7,548.8 980.0,549.6 980.3,543.9 980.7,548.9 981.0,549.0 981.3,539.4 981.7,552.7 982.0,540.2 982.3,542.3 982.7,539.1 983.0,545.1 983.3,541.0 983.7,546.4 984.0,550.7 984.3,547.9 984.7,547.4 985.0,553.6 985.3,546.3 985.7,551.8 986.0,546.8 986.3,547.3 986.7,546.3 987.0,547.1 987.3,547.7 987.7,544.3 988.0,545.0 988.3,548.3 988.7,545.7 989.0,540.8 989.3,542.7 989.7,541.4 990.0,544.0 990.3,545.2 990.7,544.5 991.0,541.2 991.3,542.7 991.7,539.9 992.0,533.4 992.3,545.4 992.7,540.3 993.0,542.7 993.3,540.8 993.7,548.6 994.0,543.6 994.3,548.1 994.7,545.1 995.0,543.5 995.3,542.5 995.7,553.5 996.0,550.6 996.3,552.4 996.7,554.9 997.0,551.2 997.3,550.3 997.7,546.8 998.0,547.6 998.3,545.9 998.7,545.8 999.0,555.8 999.3,540.2 999.7,550.1 1000.0,552.1 1000.3,552.7 1000.7,547.6 1001.0,550.6 1001.3,549.1 1001.7,546.8 1002.0,550.4 1002.3,548.1 1002.7,561.7 1003.0,551.7 1003.3,546.4 1003.7,551.4 1004.0,548.5 1004.3,551.5 1004.7,549.9 1005.0,550.9 1005.3,547.2 1005.7,548.0 1006.0,548.5 1006.3,551.5 1006.7,553.7 1007.0,553.4 1007.3,548.4 1007.7,550.6 1008.0,544.1 1008.3,543.0 1008.7,548.4 1009.0,546.5 1009.3,543.5 1009.7,541.5 1010.0,551.0 1010.3,548.6 1010.7,544.8 1011.0,559.3 1011.3,551.3 1011.7,549.8 1012.0,554.0 1012.3,549.9 1012.7,557.3 1013.0,547.4 1013.3,547.2 1013.7,551.5 1014.0,550.2 1014.3,558.5 1014.7,546.6 1015.0,549.0 1015.3,552.0 1015.7,553.2 1016.0,555.8 1016.3,552.3 1016.7,559.5 1017.0,550.5 1017.3,553.4 1017.7,556.3 1018.0,553.4 1018.3,553.8 1018.7,553.8 1019.0,553.4 1019.3,553.1 1019.7,553.1 1020.0,550.5 1020.3,557.0 1020.7,549.5 1021.0,561.6 1021.3,558.6 1021.7,556.4 1022.0,551.2 1022.3,550.6 1022.7,556.0 1023.0,553.9 1023.3,555.7 1023.7,532.0 1024.0,556.9 1024.3,549.8 1024.7,552.3 1025.0,545.6 1025.3,549.9 1025.7,554.2 1026.0,549.9 1026.3,550.2 1026.7,554.3 1027.0,551.8 1027.3,558.7 1027.7,546.4 1028.0,557.0 1028.3,555.5 1028.7,547.3 1029.0,547.1 1029.3,556.1 1029.7,548.9 1030.0,551.0 1030.3,555.4 1030.7,552.6 1031.0,557.2 1031.3,552.1 1031.7,556.3 1032.0,558.7 1032.3,557.2 1032.7,547.5 1033.0,557.0 1033.3,554.1 1033.7,549.9 1034.0,559.2 1034.3,550.8 1034.7,563.2 1035.0,555.4 1035.3,563.8 1035.7,557.2 1036.0,552.6 1036.3,557.8 1036.7,555.4 1037.0,561.2 1037.3,561.5 1037.7,555.1 1038.0,560.7 1038.3,561.3 1038.7,558.1 1039.0,556.7 1039.3,556.9 1039.7,563.6 1040.0,564.5 1040.3,556.9 1040.7,556.6 1041.0,568.0 1041.3,558.7 1041.7,565.6 1042.0,560.7 1042.3,557.1 1042.7,563.1 1043.0,561.5 1043.3,568.3 1043.7,570.6 1044.0,561.8 1044.3,564.5 1044.7,564.7 1045.0,559.5 1045.3,557.9 1045.7,566.5 1046.0,561.4 1046.3,561.8 1046.7,560.1 1047.0,560.3 1047.3,560.1 1047.7,567.2 1048.0,569.3 1048.3,562.9 1048.7,559.0 1049.0,565.3 1049.3,559.0 1049.7,563.5 1050.0,571.5 1050.3,575.3 1050.7,568.6 1051.0,563.9 1051.3,571.6 1051.7,559.4 1052.0,565.7 1052.3,573.0 1052.7,569.2 1053.0,561.5 1053.3,560.1 1053.7,568.1 1054.0,563.4 1054.3,560.7 1054.7,565.8 1055.0,564.1 1055.3,559.7 1055.7,570.3 1056.0,564.3 1056.3,562.8 1056.7,561.7 1057.0,566.2 1057.3,561.4 1057.7,566.7 1058.0,563.2 1058.3,567.1 1058.7,562.3 1059.0,561.2 1059.3,558.3 1059.7,560.6 1060.0,566.9 1060.3,575.4 1060.7,559.8 1061.0,560.0 1061.3,564.6 1061.7,565.9 1062.0,562.4 1062.3,576.6 1062.7,558.5 1063.0,562.8 1063.3,566.8 1063.7,569.7 1064.0,562.9 1064.3,562.2 1064.7,565.5 1065.0,568.1 1065.3,564.8 1065.7,561.7 1066.0,577.1 1066.3,568.2 1066.7,562.9 1067.0,559.9 1067.3,567.4 1067.7,566.6 1068.0,567.9 1068.3,564.4 1068.7,561.1 1069.0,562.1 1069.3,560.2 1069.7,560.6 1070.0,561.5 1070.3,558.6 1070.7,564.8 1071.0,555.0 1071.3,559.9 1071.7,559.4 1072.0,567.4 1072.3,562.8 1072.7,560.6 1073.0,565.0 1073.3,562.0 1073.7,559.8 1074.0,566.4 1074.3,564.9 1074.7,568.7 1075.0,567.7 1075.3,566.1 1075.7,564.0 1076.0,559.5 1076.3,566.4 1076.7,564.9 1077.0,567.2 1077.3,564.1 1077.7,561.0 1078.0,561.4 1078.3,567.2 1078.7,569.0 1079.0,564.6 1079.3,568.1 1079.7,571.6 1080.0,563.1 1080.3,576.5 1080.7,563.9 1081.0,572.3 1081.3,568.4 1081.7,564.2 1082.0,558.5 1082.3,564.1 1082.7,568.6 1083.0,563.7 1083.3,562.1 1083.7,562.3 1084.0,557.8 1084.3,561.3 1084.7,564.3 1085.0,560.6 1085.3,563.0 1085.7,567.4 1086.0,565.4 1086.3,563.9 1086.7,562.3 1087.0,562.1 1087.3,558.1 1087.7,560.1 1088.0,564.8 1088.3,567.8 1088.7,568.8 1089.0,561.5 1089.3,569.7 1089.7,567.3 1090.0,564.0 1090.3,564.6 1090.7,567.4 1091.0,571.9 1091.3,562.3 1091.7,566.9 1092.0,564.3 1092.3,563.7 1092.7,568.6 1093.0,567.2 1093.3,561.0 1093.7,563.2 1094.0,565.7 1094.3,560.0 1094.7,567.7 1095.0,564.2 1095.3,564.5 1095.7,565.9 1096.0,570.8 1096.3,564.7 1096.7,562.8 1097.0,568.9 1097.3,561.8 1097.7,560.8 1098.0,558.4 1098.3,567.6 1098.7,563.2 1099.0,563.2 1099.3,561.9 1099.7,560.3 1100.0,557.2 1100.3,558.2 1100.7,562.6 1101.0,562.1 1101.3,567.3 1101.7,559.2 1102.0,559.7 1102.3,558.0 1102.7,567.2 1103.0,558.1 1103.3,564.9 1103.7,566.5 1104.0,561.2 1104.3,564.8 1104.7,554.5 1105.0,560.2 1105.3,556.3 1105.7,565.2 1106.0,564.2 1106.3,561.7 1106.7,568.0 1107.0,563.5 1107.3,560.6 1107.7,560.1 1108.0,558.1 1108.3,562.4 1108.7,570.0 1109.0,559.8 1109.3,564.1 1109.7,560.2 1110.0,565.1 1110.3,562.7 1110.7,560.3 1111.0,555.7 1111.3,562.1 1111.7,568.8 1112.0,563.8 1112.3,567.8 1112.7,564.6 1113.0,560.8 1113.3,569.5 1113.7,568.6 1114.0,565.2 1114.3,565.7 1114.7,567.9 1115.0,564.6 1115.3,566.9 1115.7,562.8 1116.0,554.5 1116.3,560.6 1116.7,559.2 1117.0,558.6 1117.3,561.6 1117.7,559.4 1118.0,564.0 1118.3,566.2 1118.7,564.4 1119.0,560.0 1119.3,561.6 1119.7,568.3 1120.0,564.3 1120.3,562.5 1120.7,565.7 1121.0,566.8 1121.3,565.2 1121.7,565.8 1122.0,559.8 1122.3,561.7 1122.7,560.5 1123.0,560.6 1123.3,553.9 1123.7,560.7 1124.0,557.2 1124.3,565.3 1124.7,565.5 1125.0,565.7 1125.3,563.0 1125.7,558.1 1126.0,564.4 1126.3,560.5 1126.7,563.5 1127.0,558.3 1127.3,560.2 1127.7,563.6 1128.0,569.4 1128.3,563.4 1128.7,571.6 1129.0,573.3 1129.3,559.4 1129.7,564.6 1130.0,562.0 1130.3,565.0 1130.7,564.1 1131.0,565.6 1131.3,569.6 1131.7,568.6 1132.0,563.5 1132.3,563.2 1132.7,563.0 1133.0,561.3 1133.3,562.2 1133.7,558.8 1134.0,562.0 1134.3,555.4 1134.7,560.8 1135.0,564.2 1135.3,557.7 1135.7,553.2 1136.0,561.4 1136.3,552.8 1136.7,543.1 1137.0,552.2 1137.3,554.4 1137.7,551.4 1138.0,554.7 1138.3,553.8 1138.7,549.9 1139.0,543.2 1139.3,545.4 1139.7,551.8 1140.0,553.4 1140.3,547.1 1140.7,549.5 1141.0,553.6 1141.3,544.4 1141.7,544.8 1142.0,550.3 1142.3,550.3 1142.7,549.5 1143.0,542.6 1143.3,550.3 1143.7,545.7 1144.0,551.3 1144.3,547.5 1144.7,548.6 1145.0,549.7 1145.3,545.8 1145.7,551.9 1146.0,553.1 1146.3,550.6 1146.7,554.6 1147.0,546.6 1147.3,552.4 1147.7,549.4 1148.0,546.0 1148.3,549.7 1148.7,548.1 1149.0,546.8 1149.3,549.3 1149.7,552.2 1150.0,548.1 1150.3,549.6 1150.7,543.3 1151.0,549.9 1151.3,554.3 1151.7,552.5 1152.0,552.4 1152.3,548.5 1152.7,546.6 1153.0,549.8 1153.3,544.7 1153.7,544.7 1154.0,552.4 1154.3,547.2 1154.7,558.2 1155.0,546.3 1155.3,554.2 1155.7,548.2 1156.0,553.1 1156.3,549.3 1156.7,553.1 1157.0,554.3 1157.3,553.0 1157.7,554.9 1158.0,559.3 1158.3,551.0 1158.7,562.3 1159.0,549.9 1159.3,550.4 1159.7,559.0 1160.0,544.1 1160.3,550.1 1160.7,547.3 1161.0,552.2 1161.3,553.0 1161.7,566.4 1162.0,553.4 1162.3,544.6 1162.7,557.6 1163.0,549.9 1163.3,553.4 1163.7,557.3 1164.0,551.1 1164.3,551.5 1164.7,552.1 1165.0,543.5 1165.3,545.1 1165.7,551.0 1166.0,550.4 1166.3,545.5 1166.7,548.3 1167.0,549.6 1167.3,548.4 1167.7,551.2 1168.0,549.4 1168.3,550.4 1168.7,544.2 1169.0,544.5 1169.3,550.5 1169.7,544.7 1170.0,564.8 1170.3,547.7 1170.7,547.5 1171.0,552.8 1171.3,548.8 1171.7,546.9 1172.0,547.6 1172.3,550.1 1172.7,558.7 1173.0,541.6 1173.3,549.2 1173.7,548.1 1174.0,552.8 1174.3,546.9 1174.7,539.5 1175.0,553.6 1175.3,545.3 1175.7,550.1 1176.0,544.3 1176.3,544.0 1176.7,546.5 1177.0,551.9 1177.3,553.9 1177.7,549.2 1178.0,552.2 1178.3,549.7 1178.7,550.6 1179.0,549.4 1179.3,553.5 1179.7,549.2 1180.0,551.5 1180.3,553.0 1180.7,554.0 1181.0,550.7 1181.3,560.4 1181.7,551.2 1182.0,554.0 1182.3,553.2 1182.7,557.9 1183.0,545.8 1183.3,560.8 1183.7,552.5 1184.0,547.9 1184.3,553.9 1184.7,561.8 1185.0,555.6 1185.3,549.6 1185.7,553.1 1186.0,559.8 1186.3,550.5 1186.7,553.6 1187.0,553.6 1187.3,564.3 1187.7,554.8 1188.0,560.3 1188.3,553.9 1188.7,554.2 1189.0,561.0 1189.3,558.0 1189.7,550.1 1190.0,557.4 1190.3,556.8 1190.7,553.0 1191.0,555.9 1191.3,557.0 1191.7,561.7 1192.0,557.4 1192.3,557.6 1192.7,558.0 1193.0,553.6 1193.3,557.3 1193.7,551.7 1194.0,561.7 1194.3,555.7 1194.7,552.5 1195.0,558.7 1195.3,561.7 1195.7,558.9 1196.0,550.3 1196.3,560.4 1196.7,558.0 1197.0,558.4 1197.3,552.6 1197.7,559.5 1198.0,563.5 1198.3,562.9 1198.7,560.7 1199.0,559.7 1199.3,559.6 1199.7,563.8 1200.0,566.9 1200.3,556.1 1200.7,561.0 1201.0,560.0 1201.3,558.6 1201.7,563.9 1202.0,563.8 1202.3,557.1 1202.7,558.1 1203.0,565.4 1203.3,562.9 1203.7,562.8 1204.0,561.6 1204.3,561.0 1204.7,565.8 1205.0,561.3 1205.3,559.6 1205.7,562.4 1206.0,564.5 1206.3,557.9 1206.7,566.0 1207.0,563.7 1207.3,559.3 1207.7,561.7 1208.0,561.8 1208.3,564.6 1208.7,565.3 1209.0,556.7 1209.3,558.1 1209.7,567.1 1210.0,563.4 1210.3,563.5 1210.7,561.7 1211.0,565.0 1211.3,556.1 1211.7,564.2 1212.0,556.6 1212.3,562.0 1212.7,565.9 1213.0,556.0 1213.3,562.1 1213.7,561.1 1214.0,561.5 1214.3,562.7 1214.7,558.3 1215.0,557.3 1215.3,562.2 1215.7,562.7 1216.0,557.8 1216.3,555.2 1216.7,569.4 1217.0,565.4 1217.3,563.1 1217.7,557.3 1218.0,557.1 1218.3,560.0 1218.7,555.2 1219.0,564.1 1219.3,559.1 1219.7,559.3 1220.0,553.7 1220.3,554.6 1220.7,555.6 1221.0,559.2 1221.3,558.2 1221.7,558.2 1222.0,559.8 1222.3,559.9 1222.7,566.4 1223.0,560.0 1223.3,558.3 1223.7,563.2 1224.0,569.7 1224.3,561.6 1224.7,565.5 1225.0,563.9 1225.3,566.1 1225.7,565.1 1226.0,561.7 1226.3,563.6 1226.7,567.4 1227.0,569.0 1227.3,567.5 1227.7,566.1 1228.0,555.7 1228.3,563.0 1228.7,568.4 1229.0,559.7 1229.3,564.5 1229.7,558.3 1230.0,564.9 1230.3,562.3 1230.7,560.5 1231.0,566.3 1231.3,560.1 1231.7,560.7 1232.0,562.1 1232.3,560.0 1232.7,567.0 1233.0,561.0 1233.3,564.3 1233.7,559.8 1234.0,561.8 1234.3,568.0 1234.7,563.1 1235.0,561.4 1235.3,563.2 1235.7,568.9 1236.0,564.2 1236.3,562.9 1236.7,559.6 1237.0,568.8 1237.3,564.9 1237.7,561.4 1238.0,562.7 1238.3,557.8 1238.7,559.4 1239.0,561.0 1239.3,560.1 1239.7,556.9 1240.0,556.8 1240.3,564.1 1240.7,564.1 1241.0,554.7 1241.3,561.6 1241.7,551.9 1242.0,557.4 1242.3,560.1 1242.7,553.8 1243.0,563.0 1243.3,556.0 1243.7,555.0 1244.0,557.4 1244.3,566.2 1244.7,556.1 1245.0,554.0 1245.3,561.5 1245.7,560.4 1246.0,566.6 1246.3,556.7 1246.7,565.6 1247.0,558.5 1247.3,560.0 1247.7,561.0 1248.0,565.1 1248.3,556.3 1248.7,559.4 1249.0,561.5 1249.3,564.6 1249.7,562.8 1250.0,560.6 1250.3,558.8 1250.7,565.3 1251.0,565.3 1251.3,572.0 1251.7,562.1 1252.0,567.7 1252.3,559.2 1252.7,561.7 1253.0,561.1 1253.3,563.1 1253.7,567.8 1254.0,563.1 1254.3,565.0 1254.7,562.4 1255.0,565.5 1255.3,560.8 1255.7,562.3 1256.0,565.8 1256.3,562.5 1256.7,561.2 1257.0,559.9 1257.3,560.2 1257.7,562.5 1258.0,558.4 1258.3,566.9 1258.7,568.7 1259.0,567.9 1259.3,561.4 1259.7,558.1 1260.0,562.1 1260.3,563.6 1260.7,565.8 1261.0,562.2 1261.3,561.8 1261.7,568.6 1262.0,560.3 1262.3,565.7 1262.7,565.8 1263.0,556.4 1263.3,561.6 1263.7,560.2 1264.0,556.4 1264.3,552.8 1264.7,554.7 1265.0,560.4 1265.3,560.2 1265.7,560.3 1266.0,557.1 1266.3,561.3 1266.7,562.2 1267.0,557.4 1267.3,557.3 1267.7,563.8 1268.0,563.5 1268.3,558.6 1268.7,561.3 1269.0,564.9 1269.3,568.0 1269.7,558.1 1270.0,563.6 1270.3,567.8 1270.7,561.8 1271.0,567.1 1271.3,551.4 1271.7,565.8 1272.0,560.1 1272.3,553.1 1272.7,562.8 1273.0,563.3 1273.3,564.9 1273.7,564.4 1274.0,561.1 1274.3,558.7 1274.7,560.5 1275.0,561.5 1275.3,562.6 1275.7,558.6 1276.0,561.1 1276.3,565.0 1276.7,565.0 1277.0,572.9 1277.3,572.4 1277.7,560.2 1278.0,562.4 1278.3,559.5 1278.7,561.1 1279.0,567.7 1279.3,561.1 1279.7,560.0 1280.0,563.8 1280.3,567.6 1280.7,563.0 1281.0,563.9 1281.3,567.7 1281.7,565.6 1282.0,564.9 1282.3,564.8 1282.7,558.7 1283.0,561.9 1283.3,558.5 1283.7,563.8 1284.0,563.9 1284.3,557.3 1284.7,565.8 1285.0,555.5 1285.3,564.0 1285.7,559.4 1286.0,556.2 1286.3,555.9 1286.7,559.0 1287.0,562.0 1287.3,560.0 1287.7,565.0 1288.0,558.1 1288.3,562.7 1288.7,563.5 1289.0,557.7 1289.3,564.0 1289.7,559.3 1290.0,555.2 1290.3,562.5 1290.7,564.0 1291.0,566.6 1291.3,560.5 1291.7,569.0 1292.0,568.9 1292.3,566.2 1292.7,567.3 1293.0,563.4 1293.3,558.5 1293.7,560.9 1294.0,560.9 1294.3,559.0 1294.7,557.6 1295.0,553.0 1295.3,561.5 1295.7,561.2 1296.0,553.6 1296.3,558.7 1296.7,560.5 1297.0,556.8 1297.3,559.9 1297.7,560.2 1298.0,552.4 1298.3,555.7 1298.7,558.6 1299.0,562.4 1299.3,563.5 1299.7,550.4 1300.0,557.7 1300.3,561.4 1300.7,563.9 1301.0,564.8 1301.3,556.6 1301.7,558.1 1302.0,554.9 1302.3,561.3 1302.7,553.9 1303.0,563.8 1303.3,563.7 1303.7,562.2 1304.0,553.7 1304.3,559.1 1304.7,565.0 1305.0,556.0 1305.3,558.8 1305.7,560.2 1306.0,562.6 1306.3,560.4 1306.7,560.5 1307.0,557.7 1307.3,559.1 1307.7,560.1 1308.0,561.0 1308.3,558.9 1308.7,565.5 1309.0,555.8 1309.3,566.0 1309.7,561.8 1310.0,568.0 1310.3,583.6 1310.7,565.7 1311.0,567.7 1311.3,560.8 1311.7,563.1 1312.0,562.7 1312.3,563.5 1312.7,556.9 1313.0,561.3 1313.3,560.4 1313.7,558.4 1314.0,560.4 1314.3,554.6 1314.7,566.6 1315.0,563.1 1315.3,567.0 1315.7,558.3 1316.0,556.6 1316.3,562.3 1316.7,555.3 1317.0,562.3 1317.3,559.2 1317.7,560.0 1318.0,562.1 1318.3,563.2 1318.7,567.5 1319.0,563.3 1319.3,556.9 1319.7,564.0 1320.0,554.6 1320.3,561.8 1320.7,556.7 1321.0,560.1 1321.3,568.1 1321.7,561.3 1322.0,560.8 1322.3,561.9 1322.7,563.6 1323.0,569.9 1323.3,560.4 1323.7,560.0 1324.0,567.4 1324.3,560.0 1324.7,563.0 1325.0,567.5 1325.3,563.6 1325.7,560.1 1326.0,559.8 1326.3,558.1 1326.7,561.0 1327.0,562.0 1327.3,566.8 1327.7,565.7 1328.0,562.1 1328.3,561.1 1328.7,568.8 1329.0,560.3 1329.3,565.1 1329.7,564.5 1330.0,558.7 1330.3,558.9 1330.7,563.7 1331.0,558.2 1331.3,559.3 1331.7,561.8 1332.0,563.9 1332.3,559.2 1332.7,565.3 1333.0,560.5 1333.3,560.3 1333.7,560.5 1334.0,559.5 1334.3,557.3 1334.7,565.7 1335.0,563.0 1335.3,562.3 1335.7,567.0 1336.0,561.7 1336.3,566.1 1336.7,562.4 1337.0,557.8 1337.3,564.9 1337.7,557.4 1338.0,565.0 1338.3,559.0 1338.7,563.5 1339.0,566.9 1339.3,563.6 1339.7,558.8 1340.0,562.8 1340.3,561.6 1340.7,558.0 1341.0,557.0 1341.3,560.4 1341.7,562.9 1342.0,555.4 1342.3,561.2 1342.7,563.2 1343.0,561.5 1343.3,556.5 1343.7,565.0 1344.0,557.4 1344.3,566.1 1344.7,568.5 1345.0,555.3 1345.3,564.1 1345.7,563.9 1346.0,562.1 1346.3,557.7 1346.7,559.5 1347.0,556.0 1347.3,561.3 1347.7,563.6 1348.0,560.2 1348.3,559.4 1348.7,560.9 1349.0,562.1 1349.3,562.7 1349.7,562.8 1350.0,563.3 1350.3,558.6 1350.7,553.0 1351.0,563.4 1351.3,565.3 1351.7,556.0 1352.0,559.1 1352.3,563.9 1352.7,566.0 1353.0,565.5 1353.3,568.7 1353.7,564.6 1354.0,565.3 1354.3,564.8 1354.7,561.7 1355.0,566.3 1355.3,564.6 1355.7,566.6 1356.0,561.1 1356.3,567.7 1356.7,559.8 1357.0,564.4 1357.3,553.4 1357.7,558.2 1358.0,564.7 1358.3,560.4 1358.7,564.0 1359.0,557.9 1359.3,569.7 1359.7,565.4 1360.0,561.7 1360.3,563.1 1360.7,561.9 1361.0,566.6 1361.3,562.3 1361.7,557.7 1362.0,562.5 1362.3,568.4 1362.7,565.8 1363.0,561.1 1363.3,566.1 1363.7,564.9 1364.0,565.6 1364.3,558.0 1364.7,562.5 1365.0,567.4 1365.3,563.6 1365.7,564.7 1366.0,568.8 1366.3,561.7 1366.7,563.5 1367.0,560.8 1367.3,550.7 1367.7,565.8 1368.0,559.6 1368.3,557.9 1368.7,570.2 1369.0,564.9 1369.3,569.2 1369.7,565.2 1370.0,566.3 1370.3,568.2 1370.7,568.2 1371.0,562.0 1371.3,570.7 1371.7,562.9 1372.0,566.8 1372.3,576.1 1372.7,567.2 1373.0,572.1 1373.3,563.7 1373.7,566.3 1374.0,563.0 1374.3,564.1 1374.7,559.5 1375.0,557.1 1375.3,561.4 1375.7,555.2 1376.0,557.7 1376.3,561.9 1376.7,558.5 1377.0,556.7 1377.3,554.7 1377.7,558.1 1378.0,556.4 1378.3,559.1 1378.7,558.9 1379.0,566.1 1379.3,556.8 1379.7,550.8 1380.0,557.3 1380.3,556.8 1380.7,555.8 1381.0,549.9 1381.3,560.2 1381.7,556.1 1382.0,556.5 1382.3,550.3 1382.7,556.3 1383.0,554.0 1383.3,560.2 1383.7,555.0 1384.0,551.7 1384.3,557.6 1384.7,542.2 1385.0,559.4 1385.3,554.4 1385.7,551.3 1386.0,557.2 1386.3,556.9 1386.7,554.2 1387.0,551.8 1387.3,554.7 1387.7,552.8 1388.0,555.3 1388.3,553.4 1388.7,547.8 1389.0,555.0 1389.3,559.3 1389.7,556.6 1390.0,558.8 1390.3,558.3 1390.7,553.2 1391.0,549.5 1391.3,557.5 1391.7,558.3 1392.0,557.8 1392.3,555.9 1392.7,556.2 1393.0,554.0 1393.3,556.1 1393.7,554.9 1394.0,556.7 1394.3,551.4 1394.7,551.0 1395.0,554.1 1395.3,550.4 1395.7,542.3 1396.0,552.4 1396.3,542.2 1396.7,559.9 1397.0,554.7 1397.3,554.3 1397.7,549.0 1398.0,548.7 1398.3,552.0 1398.7,553.1 1399.0,549.8 1399.3,551.0 1399.7,552.2 1400.0,551.0 1400.3,545.9 1400.7,542.3 1401.0,549.3 1401.3,546.9 1401.7,552.4 1402.0,555.7 1402.3,555.1 1402.7,550.4 1403.0,552.8 1403.3,554.6 1403.7,549.8 1404.0,552.4 1404.3,552.8 1404.7,537.8 1405.0,548.5 1405.3,547.7 1405.7,550.3 1406.0,548.0 1406.3,553.9 1406.7,549.7 1407.0,555.8 1407.3,555.0 1407.7,546.8 1408.0,554.7 1408.3,550.6 1408.7,556.6 1409.0,553.8 1409.3,551.8 1409.7,553.4 1410.0,548.5 1410.3,550.7 1410.7,551.3 1411.0,549.0 1411.3,550.1 1411.7,545.8 1412.0,551.9 1412.3,544.4 1412.7,552.6 1413.0,552.2 1413.3,553.0 1413.7,549.8 1414.0,562.2 1414.3,550.4 1414.7,553.8 1415.0,549.5 1415.3,556.9 1415.7,551.1 1416.0,555.1 1416.3,548.4 1416.7,553.0 1417.0,552.9 1417.3,556.3 1417.7,551.9 1418.0,550.4 1418.3,554.9 1418.7,548.0 1419.0,549.2 1419.3,555.1 1419.7,546.4 1420.0,556.3 1420.3,553.1 1420.7,551.4 1421.0,555.4 1421.3,543.6 1421.7,551.0 1422.0,552.5 1422.3,555.4 1422.7,555.2 1423.0,551.6 1423.3,550.6 1423.7,551.8 1424.0,552.3 1424.3,556.8 1424.7,555.9 1425.0,555.9 1425.3,559.7 1425.7,553.7 1426.0,553.0 1426.3,552.8 1426.7,559.5 1427.0,546.5 1427.3,553.7 1427.7,554.6 1428.0,553.3 1428.3,561.9 1428.7,554.8 1429.0,557.1 1429.3,550.3 1429.7,555.5 1430.0,552.1 1430.3,553.6 1430.7,554.0 1431.0,552.4 1431.3,554.2 1431.7,557.8 1432.0,554.4 1432.3,552.8 1432.7,543.8 1433.0,553.3 1433.3,552.0 1433.7,549.5 1434.0,547.5 1434.3,551.8 1434.7,546.6 1435.0,550.7 1435.3,544.4 1435.7,545.9 1436.0,549.2 1436.3,545.4 1436.7,550.1 1437.0,552.1 1437.3,545.7 1437.7,553.8 1438.0,550.6 1438.3,554.6 1438.7,553.6 1439.0,550.7 1439.3,549.7 1439.7,547.1 1440.0,549.4 1440.3,548.4 1440.7,556.5 1441.0,554.1 1441.3,548.4 1441.7,553.9 1442.0,552.9 1442.3,552.0 1442.7,554.3 1443.0,555.3 1443.3,551.7 1443.7,554.7 1444.0,555.7 1444.3,550.9 1444.7,556.3 1445.0,557.3 1445.3,555.3 1445.7,553.1 1446.0,558.9 1446.3,561.1 1446.7,560.7 1447.0,557.0 1447.3,562.4 1447.7,560.4 1448.0,563.6 1448.3,567.1 1448.7,558.4 1449.0,560.6 1449.3,561.1 1449.7,560.1 1450.0,569.0 1450.3,565.5 1450.7,556.3 1451.0,563.7 1451.3,560.0 1451.7,573.2 1452.0,561.7 1452.3,561.3 1452.7,561.8 1453.0,562.5 1453.3,561.3 1453.7,561.9 1454.0,562.5 1454.3,564.6 1454.7,559.6 1455.0,563.7 1455.3,564.2 1455.7,563.3 1456.0,568.8 1456.3,562.9 1456.7,565.5 1457.0,563.1 1457.3,568.3 1457.7,565.0 1458.0,566.3 1458.3,565.8 1458.7,557.3 1459.0,564.6 1459.3,561.2 1459.7,563.5 1460.0,562.7 1460.3,566.7 1460.7,564.0 1461.0,569.7 1461.3,564.6 1461.7,561.6 1462.0,561.0 1462.3,563.0 1462.7,565.6 1463.0,560.0 1463.3,557.7 1463.7,561.0 1464.0,562.0 1464.3,561.8 1464.7,558.8 1465.0,553.2 1465.3,559.7 1465.7,565.7 1466.0,563.3 1466.3,554.3 1466.7,561.9 1467.0,555.8 1467.3,568.5 1467.7,563.4 1468.0,560.3 1468.3,566.5 1468.7,560.8 1469.0,563.3 1469.3,561.5 1469.7,557.2 1470.0,561.7 1470.3,555.5 1470.7,565.4 1471.0,560.6 1471.3,556.9 1471.7,553.7 1472.0,566.2 1472.3,564.5 1472.7,555.4 1473.0,567.3 1473.3,562.5 1473.7,561.7 1474.0,562.1 1474.3,560.5 1474.7,566.3 1475.0,562.5 1475.3,555.0 1475.7,568.7 1476.0,565.9 1476.3,560.3 1476.7,561.2 1477.0,558.5 1477.3,560.4 1477.7,562.8 1478.0,563.0 1478.3,560.9 1478.7,559.4 1479.0,564.0 1479.3,561.1 1479.7,569.2 1480.0,558.3 1480.3,564.0 1480.7,562.3 1481.0,559.8 1481.3,566.1 1481.7,560.2 1482.0,556.9 1482.3,559.2 1482.7,563.8 1483.0,556.1 1483.3,571.4 1483.7,563.1 1484.0,560.1 1484.3,565.9 1484.7,566.5 1485.0,562.3 1485.3,561.3 1485.7,566.3 1486.0,564.2 1486.3,556.2 1486.7,560.0 1487.0,560.4 1487.3,561.3 1487.7,557.5 1488.0,575.3 1488.3,561.4 1488.7,561.1 1489.0,567.1 1489.3,560.8 1489.7,563.2 1490.0,564.9 1490.3,562.4 1490.7,563.2 1491.0,566.2 1491.3,564.2 1491.7,569.0 1492.0,562.2 1492.3,565.4 1492.7,559.0 1493.0,563.1 1493.3,560.3 1493.7,568.2 1494.0,564.1 1494.3,563.3 1494.7,570.1 1495.0,568.4 1495.3,564.8 1495.7,560.1 1496.0,558.8 1496.3,563.3 1496.7,562.8 1497.0,561.8 1497.3,562.5 1497.7,560.7 1498.0,571.1 1498.3,561.4 1498.7,562.3 1499.0,566.7 1499.3,559.4 1499.7,568.6 1500.0,568.5 1500.3,562.8 1500.7,560.6 1501.0,562.2 1501.3,557.2 1501.7,566.8 1502.0,561.9 1502.3,558.6 1502.7,558.2 1503.0,562.1 1503.3,565.6 1503.7,556.5 1504.0,558.1 1504.3,553.8 1504.7,561.6 1505.0,561.1 1505.3,566.2 1505.7,558.2 1506.0,556.1 1506.3,555.3 1506.7,561.9 1507.0,553.3 1507.3,561.9 1507.7,559.8 1508.0,559.4 1508.3,559.1 1508.7,574.7 1509.0,568.4 1509.3,559.6 1509.7,564.1 1510.0,568.1 1510.3,559.9 1510.7,561.6 1511.0,557.2 1511.3,561.7 1511.7,562.0 1512.0,561.4 1512.3,559.7 1512.7,557.4 1513.0,557.6 1513.3,559.8 1513.7,566.3 1514.0,563.1 1514.3,562.2 1514.7,567.7 1515.0,564.7 1515.3,561.0 1515.7,561.1 1516.0,565.6 1516.3,564.3 1516.7,558.9 1517.0,562.2 1517.3,562.1 1517.7,567.3 1518.0,559.9 1518.3,565.1 1518.7,565.0 1519.0,559.2 1519.3,568.2 1519.7,567.6 1520.0,559.0 1520.3,571.1 1520.7,561.8 1521.0,561.0 1521.3,564.3 1521.7,567.6 1522.0,568.1 1522.3,565.1 1522.7,568.5 1523.0,565.5 1523.3,569.7 1523.7,576.3 1524.0,568.4 1524.3,559.0 1524.7,565.7 1525.0,562.6 1525.3,566.0 1525.7,565.0 1526.0,560.1 1526.3,557.9 1526.7,561.2 1527.0,561.5 1527.3,555.6 1527.7,568.5 1528.0,564.6 1528.3,564.8 1528.7,564.6 1529.0,559.4 1529.3,561.1 1529.7,566.3 1530.0,567.0 1530.3,563.8 1530.7,561.3 1531.0,560.3 1531.3,568.2 1531.7,565.7 1532.0,561.5 1532.3,554.9 1532.7,559.6 1533.0,556.7 1533.3,567.0 1533.7,562.3 1534.0,560.2 1534.3,561.1 1534.7,572.2 1535.0,567.6 1535.3,559.4 1535.7,565.1 1536.0,561.6 1536.3,560.3 1536.7,565.8 1537.0,572.8 1537.3,570.2 1537.7,566.1 1538.0,565.6 1538.3,569.3 1538.7,572.0 1539.0,562.8 1539.3,561.8 1539.7,574.5 1540.0,568.3 1540.3,571.6 1540.7,567.4 1541.0,566.1 1541.3,563.3 1541.7,565.7 1542.0,570.3 1542.3,567.3 1542.7,562.8 1543.0,566.0 1543.3,556.0 1543.7,558.5 1544.0,564.7 1544.3,567.8 1544.7,565.5 1545.0,536.9 1545.3,564.1 1545.7,564.0 1546.0,559.1 1546.3,545.6 1546.7,564.5 1547.0,563.4 1547.3,562.3 1547.7,554.0 1548.0,557.2 1548.3,564.7 1548.7,564.8 1549.0,564.7 1549.3,560.3 1549.7,561.2 1550.0,558.7 1550.3,559.3 1550.7,557.9 1551.0,563.2 1551.3,560.5 1551.7,564.5 1552.0,561.4 1552.3,556.6 1552.7,565.6 1553.0,555.7 1553.3,561.8 1553.7,563.1 1554.0,565.8 1554.3,554.4 1554.7,566.7 1555.0,566.5 1555.3,567.0 1555.7,553.5 1556.0,558.8 1556.3,560.0 1556.7,559.4 1557.0,566.3 1557.3,559.5 1557.7,566.0 1558.0,564.9 1558.3,557.8 1558.7,557.0 1559.0,558.6 1559.3,559.9 1559.7,563.3 1560.0,558.0 1560.3,565.7 1560.7,550.6 1561.0,545.1 1561.3,553.7 1561.7,555.2 1562.0,550.8 1562.3,548.3 1562.7,552.2 1563.0,555.4 1563.3,548.0 1563.7,544.4 1564.0,543.6 1564.3,553.3 1564.7,546.4 1565.0,537.7 1565.3,550.4 1565.7,549.7 1566.0,541.4 1566.3,549.8 1566.7,549.8 1567.0,549.7 1567.3,551.1 1567.7,543.4 1568.0,546.6 1568.3,545.0 1568.7,549.6 1569.0,544.5 1569.3,548.8 1569.7,543.8 1570.0,545.7 1570.3,545.8 1570.7,559.9 1571.0,546.5 1571.3,546.9 1571.7,562.1 1572.0,540.3 1572.3,549.8 1572.7,543.8 1573.0,545.6 1573.3,543.4 1573.7,548.8 1574.0,541.3 1574.3,545.4 1574.7,548.3 1575.0,550.9 1575.3,550.3 1575.7,547.6 1576.0,541.3 1576.3,550.8 1576.7,550.0 1577.0,548.6 1577.3,550.4 1577.7,547.8 1578.0,546.4 1578.3,551.5 1578.7,552.1 1579.0,542.1 1579.3,549.1 1579.7,547.8 1580.0,551.9 1580.3,550.5 1580.7,553.8 1581.0,553.1 1581.3,551.8 1581.7,543.2 1582.0,551.5 1582.3,547.7 1582.7,544.2 1583.0,549.7 1583.3,540.5 1583.7,547.8 1584.0,549.3 1584.3,540.5 1584.7,547.0 1585.0,545.4 1585.3,546.5 1585.7,540.6 1586.0,548.8 1586.3,546.6 1586.7,549.9 1587.0,547.6 1587.3,551.3 1587.7,548.6 1588.0,544.9 1588.3,550.4 1588.7,546.1 1589.0,549.6 1589.3,546.6 1589.7,547.5 1590.0,544.7 1590.3,550.6 1590.7,552.7 1591.0,549.0 1591.3,551.4 1591.7,549.6 1592.0,544.2 1592.3,548.9 1592.7,551.8 1593.0,546.7 1593.3,541.7 1593.7,547.7 1594.0,545.0 1594.3,555.6 1594.7,548.5 1595.0,549.5 1595.3,546.6 1595.7,549.0 1596.0,545.3 1596.3,543.8 1596.7,557.8 1597.0,529.9 1597.3,553.3 1597.7,543.4 1598.0,546.9 1598.3,545.4 1598.7,543.3 1599.0,554.1 1599.3,539.1 1599.7,552.0 1600.0,540.8 1600.3,548.5 1600.7,555.8 1601.0,540.3 1601.3,541.7 1601.7,550.7 1602.0,545.6 1602.3,544.0 1602.7,545.6 1603.0,542.9 1603.3,546.1 1603.7,550.5 1604.0,545.1 1604.3,546.1 1604.7,548.3 1605.0,551.6 1605.3,541.6 1605.7,544.6 1606.0,542.7 1606.3,541.8 1606.7,543.6 1607.0,542.3 1607.3,529.2 1607.7,540.2 1608.0,544.1 1608.3,546.9 1608.7,550.0 1609.0,544.0 1609.3,542.6 1609.7,547.9 1610.0,549.1 1610.3,544.8 1610.7,544.4 1611.0,549.7 1611.3,544.4 1611.7,544.4 1612.0,541.0 1612.3,548.0 1612.7,547.0 1613.0,553.0 1613.3,543.8 1613.7,552.2 1614.0,552.6 1614.3,555.4 1614.7,545.9 1615.0,555.6 1615.3,550.5 1615.7,551.3 1616.0,551.0 1616.3,551.2 1616.7,551.3 1617.0,544.8 1617.3,555.2 1617.7,555.1 1618.0,552.3 1618.3,555.3 1618.7,561.6 1619.0,555.8 1619.3,554.1 1619.7,560.9 1620.0,550.6 1620.3,552.0 1620.7,551.7 1621.0,552.0 1621.3,555.2 1621.7,555.1 1622.0,551.8 1622.3,554.0 1622.7,554.7 1623.0,552.6 1623.3,555.4 1623.7,554.0 1624.0,553.7 1624.3,546.2 1624.7,550.6 1625.0,576.4 1625.3,553.5 1625.7,551.9 1626.0,553.3 1626.3,554.0 1626.7,555.6 1627.0,556.9 1627.3,554.9 1627.7,552.2 1628.0,562.4 1628.3,559.2 1628.7,555.9 1629.0,559.8 1629.3,557.3 1629.7,554.4 1630.0,554.4 1630.3,564.0 1630.7,559.1 1631.0,560.5 1631.3,555.4 1631.7,559.6 1632.0,564.2 1632.3,557.9 1632.7,559.4 1633.0,560.1 1633.3,558.6 1633.7,562.7 1634.0,556.9 1634.3,558.9 1634.7,554.3 1635.0,564.7 1635.3,559.3 1635.7,554.3 1636.0,558.9 1636.3,552.7 1636.7,554.3 1637.0,552.1 1637.3,554.7 1637.7,553.3 1638.0,555.3 1638.3,553.2 1638.7,550.9 1639.0,551.8 1639.3,552.5 1639.7,551.5 1640.0,555.3 1640.3,553.3 1640.7,551.6 1641.0,547.8 1641.3,554.3 1641.7,549.2 1642.0,555.6 1642.3,555.6 1642.7,553.3 1643.0,551.5 1643.3,551.2 1643.7,560.5 1644.0,555.8 1644.3,553.4 1644.7,557.5 1645.0,555.6 1645.3,558.5 1645.7,550.8 1646.0,551.5 1646.3,567.1 1646.7,554.9 1647.0,553.1 1647.3,555.2 1647.7,558.5 1648.0,550.7 1648.3,555.5 1648.7,556.5 1649.0,558.1 1649.3,556.1 1649.7,553.9 1650.0,551.6 1650.3,546.3 1650.7,559.8 1651.0,552.0 1651.3,556.1 1651.7,570.5 1652.0,556.2 1652.3,560.4 1652.7,557.0 1653.0,559.6 1653.3,557.1 1653.7,555.9 1654.0,562.4 1654.3,557.1 1654.7,551.3 1655.0,555.8 1655.3,560.7 1655.7,555.8 1656.0,561.6 1656.3,560.4 1656.7,565.1 1657.0,554.4 1657.3,559.4 1657.7,550.6 1658.0,555.7 1658.3,558.5 1658.7,557.5 1659.0,556.0 1659.3,555.2 1659.7,552.0 1660.0,552.2 1660.3,554.7 1660.7,556.7 1661.0,555.6 1661.3,557.9 1661.7,560.5 1662.0,550.6 1662.3,555.3 1662.7,556.3 1663.0,553.4 1663.3,559.7 1663.7,558.9 1664.0,556.5 1664.3,559.4 1664.7,563.6 1665.0,558.0 1665.3,559.1 1665.7,561.6 1666.0,558.8 1666.3,561.5 1666.7,557.1 1667.0,559.0 1667.3,554.1 1667.7,554.2 1668.0,558.6 1668.3,549.8 1668.7,559.6 1669.0,561.8 1669.3,559.1" fill="none" stroke="#9400d3" stroke-width="2.6" stroke-linejoin="round"/>
<polyline points="284.5,341.8 286.8,479.7 289.1,356.2 291.4,488.0 293.7,358.9 296.0,488.1 298.3,342.5 300.6,485.6 302.9,473.3 305.2,552.5 307.5,445.8 309.8,566.4 312.1,477.8 313.0,610.6 313.3,615.3 313.7,615.1 314.0,606.3 314.3,600.4 314.7,613.9 315.0,600.1 315.3,605.0 315.7,631.2 316.0,615.5 316.3,616.5 316.7,633.2 317.0,625.5 317.3,633.6 317.7,618.5 318.0,631.9 318.3,620.6 318.7,632.7 319.0,630.9 319.3,638.7 319.7,626.5 320.0,619.0 320.3,604.5 320.7,612.0 321.0,567.6 321.3,633.5 321.7,622.8 322.0,603.4 322.3,624.8 322.7,629.0 323.0,613.5 323.3,631.9 323.7,605.7 324.0,625.8 324.3,625.9 324.7,630.8 325.0,629.0 325.3,617.0 325.7,627.7 326.0,619.3 326.3,624.2 326.7,641.4 327.0,617.2 327.3,626.8 327.7,644.8 328.0,641.7 328.3,617.2 328.7,622.8 329.0,631.6 329.3,618.5 329.7,621.4 330.0,604.6 330.3,622.1 330.7,601.4 331.0,615.4 331.3,621.3 331.7,611.7 332.0,601.5 332.3,615.9 332.7,606.9 333.0,643.6 333.3,606.9 333.7,613.0 334.0,631.8 334.3,632.1 334.7,636.1 335.0,630.5 335.3,621.5 335.7,604.9 336.0,600.7 336.3,601.9 336.7,616.3 337.0,606.3 337.3,602.6 337.7,575.4 338.0,581.9 338.3,586.8 338.7,602.5 339.0,579.8 339.3,602.5 339.7,604.1 340.0,603.4 340.3,579.0 340.7,586.3 341.0,590.6 341.3,589.3 341.7,580.1 342.0,589.0 342.3,561.0 342.7,570.4 343.0,553.0 343.3,574.9 343.7,552.8 344.0,553.9 344.3,564.5 344.7,603.3 345.0,555.3 345.3,567.1 345.7,597.3 346.0,569.1 346.3,568.5 346.7,588.7 347.0,578.7 347.3,591.5 347.7,587.7 348.0,598.0 348.3,585.4 348.7,597.8 349.0,568.4 349.3,593.8 349.7,587.6 350.0,598.8 350.3,567.2 350.7,608.2 351.0,589.5 351.3,613.6 351.7,612.1 352.0,585.7 352.3,615.3 352.7,590.5 353.0,617.2 353.3,594.3 353.7,613.6 354.0,618.3 354.3,611.9 354.7,602.3 355.0,626.8 355.3,617.0 355.7,642.7 356.0,630.7 356.3,661.4 356.7,636.0 357.0,645.6 357.3,634.7 357.7,627.9 358.0,637.2 358.3,628.2 358.7,633.2 359.0,650.2 359.3,640.0 359.7,634.8 360.0,643.0 360.3,646.2 360.7,652.9 361.0,655.5 361.3,658.8 361.7,654.9 362.0,650.1 362.3,645.0 362.7,647.6 363.0,640.1 363.3,637.9 363.7,656.4 364.0,637.4 364.3,652.3 364.7,634.2 365.0,651.5 365.3,610.2 365.7,637.7 366.0,632.3 366.3,646.5 366.7,646.0 367.0,617.1 367.3,622.5 367.7,632.6 368.0,631.0 368.3,628.7 368.7,634.7 369.0,614.0 369.3,641.8 369.7,633.7 370.0,597.5 370.3,612.4 370.7,615.3 371.0,646.4 371.3,619.0 371.7,604.7 372.0,631.4 372.3,632.1 372.7,626.4 373.0,643.4 373.3,625.5 373.7,630.8 374.0,644.7 374.3,642.8 374.7,641.1 375.0,629.0 375.3,650.1 375.7,609.4 376.0,614.8 376.3,634.9 376.7,625.4 377.0,622.8 377.3,622.7 377.7,622.3 378.0,617.8 378.3,625.7 378.7,639.3 379.0,626.2 379.3,648.8 379.7,642.0 380.0,616.5 380.3,626.1 380.7,609.4 381.0,627.7 381.3,616.2 381.7,620.6 382.0,572.0 382.3,631.4 382.7,621.7 383.0,619.0 383.3,608.1 383.7,627.5 384.0,649.0 384.3,627.9 384.7,632.5 385.0,614.0 385.3,625.7 385.7,619.1 386.0,609.3 386.3,617.0 386.7,624.3 387.0,632.4 387.3,629.1 387.7,629.9 388.0,641.2 388.3,643.8 388.7,632.6 389.0,615.7 389.3,629.3 389.7,629.4 390.0,639.6 390.3,631.1 390.7,660.0 391.0,630.6 391.3,644.3 391.7,633.2 392.0,621.2 392.3,626.7 392.7,628.5 393.0,642.1 393.3,585.9 393.7,625.6 394.0,637.4 394.3,634.4 394.7,628.0 395.0,619.9 395.3,624.8 395.7,635.0 396.0,613.9 396.3,621.3 396.7,620.4 397.0,665.0 397.3,646.2 397.7,618.9 398.0,616.9 398.3,621.4 398.7,615.2 399.0,640.4 399.3,604.4 399.7,607.6 400.0,624.4 400.3,630.1 400.7,610.3 401.0,639.7 401.3,611.2 401.7,641.0 402.0,625.3 402.3,666.0 402.7,648.5 403.0,629.1 403.3,621.8 403.7,633.6 404.0,658.4 404.3,611.2 404.7,625.8 405.0,630.1 405.3,607.9 405.7,614.7 406.0,621.0 406.3,630.4 406.7,621.4 407.0,636.1 407.3,642.1 407.7,645.0 408.0,610.8 408.3,628.2 408.7,615.7 409.0,628.2 409.3,624.0 409.7,631.6 410.0,618.5 410.3,609.4 410.7,591.5 411.0,626.7 411.3,625.4 411.7,621.1 412.0,621.0 412.3,627.1 412.7,642.0 413.0,625.7 413.3,637.1 413.7,613.3 414.0,629.0 414.3,616.6 414.7,620.4 415.0,644.0 415.3,627.4 415.7,628.8 416.0,634.6 416.3,635.0 416.7,634.0 417.0,635.4 417.3,598.4 417.7,634.1 418.0,628.5 418.3,607.6 418.7,624.3 419.0,631.4 419.3,627.3 419.7,607.6 420.0,617.3 420.3,635.3 420.7,609.5 421.0,624.9 421.3,616.3 421.7,634.0 422.0,610.9 422.3,619.1 422.7,629.8 423.0,627.6 423.3,647.3 423.7,632.9 424.0,619.6 424.3,651.8 424.7,644.1 425.0,633.0 425.3,634.2 425.7,637.5 426.0,647.8 426.3,630.7 426.7,658.3 427.0,649.8 427.3,665.0 427.7,653.3 428.0,661.3 428.3,658.0 428.7,659.7 429.0,642.6 429.3,668.7 429.7,634.0 430.0,651.3 430.3,640.7 430.7,645.8 431.0,661.3 431.3,631.5 431.7,646.1 432.0,658.7 432.3,648.2 432.7,639.3 433.0,647.0 433.3,647.9 433.7,637.6 434.0,659.3 434.3,640.0 434.7,638.5 435.0,654.0 435.3,654.2 435.7,653.6 436.0,662.8 436.3,653.2 436.7,655.6 437.0,651.0 437.3,666.7 437.7,651.3 438.0,657.8 438.3,663.3 438.7,658.3 439.0,631.5 439.3,635.3 439.7,654.3 440.0,657.2 440.3,656.3 440.7,646.2 441.0,657.7 441.3,643.0 441.7,643.2 442.0,662.4 442.3,660.2 442.7,650.2 443.0,637.6 443.3,656.7 443.7,645.5 444.0,643.6 444.3,661.8 444.7,640.3 445.0,652.2 445.3,659.7 445.7,645.6 446.0,641.9 446.3,651.8 446.7,638.6 447.0,647.5 447.3,661.6 447.7,648.8 448.0,668.5 448.3,654.0 448.7,646.5 449.0,620.3 449.3,653.2 449.7,644.7 450.0,651.9 450.3,660.5 450.7,665.6 451.0,634.6 451.3,660.7 451.7,646.4 452.0,654.5 452.3,656.0 452.7,656.8 453.0,647.2 453.3,663.0 453.7,691.0 454.0,657.3 454.3,665.9 454.7,671.1 455.0,668.1 455.3,657.9 455.7,655.1 456.0,650.6 456.3,649.8 456.7,658.2 457.0,660.4 457.3,686.0 457.7,636.1 458.0,640.4 458.3,660.7 458.7,667.6 459.0,662.4 459.3,657.3 459.7,654.4 460.0,654.0 460.3,645.2 460.7,647.8 461.0,654.6 461.3,647.3 461.7,656.4 462.0,662.4 462.3,644.1 462.7,655.2 463.0,646.1 463.3,659.1 463.7,654.4 464.0,671.3 464.3,644.1 464.7,672.1 465.0,654.0 465.3,651.1 465.7,665.2 466.0,662.0 466.3,654.5 466.7,655.3 467.0,627.0 467.3,621.4 467.7,639.8 468.0,646.7 468.3,621.9 468.7,635.5 469.0,614.3 469.3,605.4 469.7,618.4 470.0,625.2 470.3,623.6 470.7,623.5 471.0,587.5 471.3,608.7 471.7,618.1 472.0,610.5 472.3,614.2 472.7,617.4 473.0,621.3 473.3,623.1 473.7,619.3 474.0,607.6 474.3,586.3 474.7,619.3 475.0,617.3 475.3,609.4 475.7,599.8 476.0,601.9 476.3,616.8 476.7,601.2 477.0,628.9 477.3,595.4 477.7,608.6 478.0,600.6 478.3,596.4 478.7,590.3 479.0,606.8 479.3,617.5 479.7,576.2 480.0,618.9 480.3,606.6 480.7,595.5 481.0,606.3 481.3,605.4 481.7,606.8 482.0,619.4 482.3,612.2 482.7,610.1 483.0,603.6 483.3,602.4 483.7,589.6 484.0,596.0 484.3,595.2 484.7,616.9 485.0,604.9 485.3,605.4 485.7,572.7 486.0,608.4 486.3,594.4 486.7,621.3 487.0,588.3 487.3,624.0 487.7,591.5 488.0,598.0 488.3,609.1 488.7,600.1 489.0,588.7 489.3,593.4 489.7,605.1 490.0,583.8 490.3,608.3 490.7,613.7 491.0,620.6 491.3,606.5 491.7,609.0 492.0,602.6 492.3,611.1 492.7,617.8 493.0,612.7 493.3,613.2 493.7,614.6 494.0,582.8 494.3,611.6 494.7,600.9 495.0,585.2 495.3,615.4 495.7,598.8 496.0,603.9 496.3,590.0 496.7,598.8 497.0,613.0 497.3,597.9 497.7,590.4 498.0,574.6 498.3,592.2 498.7,583.5 499.0,601.2 499.3,589.1 499.7,603.3 500.0,604.4 500.3,589.1 500.7,600.5 501.0,587.0 501.3,616.8 501.7,601.0 502.0,597.4 502.3,621.9 502.7,607.9 503.0,596.2 503.3,603.3 503.7,596.2 504.0,611.1 504.3,592.2 504.7,624.3 505.0,598.2 505.3,601.5 505.7,603.0 506.0,606.9 506.3,617.1 506.7,591.5 507.0,577.9 507.3,591.7 507.7,595.4 508.0,604.6 508.3,597.0 508.7,603.1 509.0,627.7 509.3,606.0 509.7,612.2 510.0,605.3 510.3,628.7 510.7,620.6 511.0,641.7 511.3,635.2 511.7,622.2 512.0,609.4 512.3,610.7 512.7,617.6 513.0,626.7 513.3,629.5 513.7,634.0 514.0,644.3 514.3,644.0 514.7,638.8 515.0,650.0 515.3,652.3 515.7,634.5 516.0,663.7 516.3,648.4 516.7,651.9 517.0,650.1 517.3,614.7 517.7,634.3 518.0,639.1 518.3,646.7 518.7,637.6 519.0,637.0 519.3,612.9 519.7,618.9 520.0,636.5 520.3,603.3 520.7,613.0 521.0,612.0 521.3,621.8 521.7,625.2 522.0,614.9 522.3,603.6 522.7,595.5 523.0,549.4 523.3,602.4 523.7,597.3 524.0,591.0 524.3,590.2 524.7,572.1 525.0,588.1 525.3,593.6 525.7,572.8 526.0,575.6 526.3,572.5 526.7,584.6 527.0,558.8 527.3,552.1 527.7,540.7 528.0,544.5 528.3,538.5 528.7,538.8 529.0,564.8 529.3,556.4 529.7,559.0 530.0,541.6 530.3,540.7 530.7,541.7 531.0,568.7 531.3,564.0 531.7,545.2 532.0,554.9 532.3,563.2 532.7,550.6 533.0,553.7 533.3,567.4 533.7,568.8 534.0,571.9 534.3,568.1 534.7,560.5 535.0,567.3 535.3,553.8 535.7,573.8 536.0,562.3 536.3,566.0 536.7,562.8 537.0,555.4 537.3,513.0 537.7,558.6 538.0,559.0 538.3,576.4 538.7,585.3 539.0,563.5 539.3,561.1 539.7,553.2 540.0,546.6 540.3,568.4 540.7,570.2 541.0,561.8 541.3,568.8 541.7,552.9 542.0,572.6 542.3,563.0 542.7,573.0 543.0,581.2 543.3,539.1 543.7,570.6 544.0,567.3 544.3,562.2 544.7,567.9 545.0,573.4 545.3,553.8 545.7,553.8 546.0,580.9 546.3,577.3 546.7,569.6 547.0,574.4 547.3,560.5 547.7,559.1 548.0,562.2 548.3,565.7 548.7,552.9 549.0,543.4 549.3,556.9 549.7,569.5 550.0,563.6 550.3,574.4 550.7,572.6 551.0,585.3 551.3,580.6 551.7,585.5 552.0,589.0 552.3,598.8 552.7,585.4 553.0,586.9 553.3,611.2 553.7,597.5 554.0,605.5 554.3,593.6 554.7,600.4 555.0,613.7 555.3,623.9 555.7,597.4 556.0,600.1 556.3,590.4 556.7,626.0 557.0,638.4 557.3,629.3 557.7,624.1 558.0,638.3 558.3,627.7 558.7,649.5 559.0,654.7 559.3,665.4 559.7,612.0 560.0,645.7 560.3,643.0 560.7,632.8 561.0,662.8 561.3,647.5 561.7,637.7 562.0,634.1 562.3,641.1 562.7,633.8 563.0,641.8 563.3,640.3 563.7,646.7 564.0,641.1 564.3,617.7 564.7,637.8 565.0,629.9 565.3,632.1 565.7,672.1 566.0,646.2 566.3,652.1 566.7,645.0 567.0,644.1 567.3,663.7 567.7,626.4 568.0,648.3 568.3,635.4 568.7,658.0 569.0,655.6 569.3,653.3 569.7,636.4 570.0,653.3 570.3,654.7 570.7,648.0 571.0,636.5 571.3,657.6 571.7,640.7 572.0,648.2 572.3,651.4 572.7,645.2 573.0,640.5 573.3,643.3 573.7,631.2 574.0,633.2 574.3,650.9 574.7,639.1 575.0,636.6 575.3,629.1 575.7,640.7 576.0,634.1 576.3,634.4 576.7,640.7 577.0,632.0 577.3,629.1 577.7,619.3 578.0,644.9 578.3,630.5 578.7,643.7 579.0,637.8 579.3,638.2 579.7,633.4 580.0,651.2 580.3,633.7 580.7,638.4 581.0,638.6 581.3,643.9 581.7,634.5 582.0,641.2 582.3,625.2 582.7,645.6 583.0,648.4 583.3,651.2 583.7,632.5 584.0,647.2 584.3,653.2 584.7,631.1 585.0,621.5 585.3,643.2 585.7,635.8 586.0,633.2 586.3,632.9 586.7,612.3 587.0,624.0 587.3,606.1 587.7,607.2 588.0,618.7 588.3,636.9 588.7,616.5 589.0,618.2 589.3,589.5 589.7,611.3 590.0,606.4 590.3,613.5 590.7,606.3 591.0,597.4 591.3,573.5 591.7,593.4 592.0,633.7 592.3,599.8 592.7,588.6 593.0,598.1 593.3,600.3 593.7,588.0 594.0,589.4 594.3,602.9 594.7,599.1 595.0,593.3 595.3,577.1 595.7,604.5 596.0,607.9 596.3,617.7 596.7,603.4 597.0,588.0 597.3,601.7 597.7,593.2 598.0,590.4 598.3,586.4 598.7,579.9 599.0,590.9 599.3,595.2 599.7,597.9 600.0,601.5 600.3,605.8 600.7,627.2 601.0,612.8 601.3,631.8 601.7,612.7 602.0,613.4 602.3,617.6 602.7,601.7 603.0,631.9 603.3,623.0 603.7,629.4 604.0,648.2 604.3,631.4 604.7,637.5 605.0,600.6 605.3,636.2 605.7,625.6 606.0,625.1 606.3,647.4 606.7,636.8 607.0,627.3 607.3,618.2 607.7,652.4 608.0,604.7 608.3,604.8 608.7,654.1 609.0,650.5 609.3,636.3 609.7,638.3 610.0,637.3 610.3,638.5 610.7,648.2 611.0,628.6 611.3,626.3 611.7,654.5 612.0,629.0 612.3,637.5 612.7,671.4 613.0,644.3 613.3,644.2 613.7,647.9 614.0,664.3 614.3,647.7 614.7,657.2 615.0,640.2 615.3,653.7 615.7,657.8 616.0,656.9 616.3,673.4 616.7,660.0 617.0,625.1 617.3,632.0 617.7,649.2 618.0,649.6 618.3,660.0 618.7,667.8 619.0,644.2 619.3,641.5 619.7,671.7 620.0,604.0 620.3,640.5 620.7,655.9 621.0,666.7 621.3,653.9 621.7,654.3 622.0,678.4 622.3,660.1 622.7,665.6 623.0,665.3 623.3,657.6 623.7,683.5 624.0,637.6 624.3,680.4 624.7,641.2 625.0,656.8 625.3,662.3 625.7,667.9 626.0,666.7 626.3,655.2 626.7,651.4 627.0,666.9 627.3,672.0 627.7,647.6 628.0,668.5 628.3,665.7 628.7,666.1 629.0,655.3 629.3,654.8 629.7,669.9 630.0,639.9 630.3,659.2 630.7,667.6 631.0,649.2 631.3,685.6 631.7,680.4 632.0,646.8 632.3,664.5 632.7,668.5 633.0,668.0 633.3,668.3 633.7,673.9 634.0,678.3 634.3,657.6 634.7,664.1 635.0,666.8 635.3,657.7 635.7,663.6 636.0,649.4 636.3,643.3 636.7,660.8 637.0,628.2 637.3,643.2 637.7,655.0 638.0,657.9 638.3,647.4 638.7,656.0 639.0,661.5 639.3,637.0 639.7,662.6 640.0,662.6 640.3,658.1 640.7,666.8 641.0,641.6 641.3,671.0 641.7,679.5 642.0,664.9 642.3,661.7 642.7,683.5 643.0,660.2 643.3,681.4 643.7,663.5 644.0,657.4 644.3,665.3 644.7,667.2 645.0,678.6 645.3,686.9 645.7,678.4 646.0,673.1 646.3,680.3 646.7,683.6 647.0,681.9 647.3,695.8 647.7,687.5 648.0,687.9 648.3,712.1 648.7,681.2 649.0,701.1 649.3,689.6 649.7,692.1 650.0,684.5 650.3,670.4 650.7,681.0 651.0,693.1 651.3,695.3 651.7,693.1 652.0,703.4 652.3,675.5 652.7,671.4 653.0,686.5 653.3,685.1 653.7,683.9 654.0,691.7 654.3,708.5 654.7,670.0 655.0,669.5 655.3,677.6 655.7,659.9 656.0,642.2 656.3,694.7 656.7,673.7 657.0,681.9 657.3,690.3 657.7,664.8 658.0,673.2 658.3,678.8 658.7,671.3 659.0,655.0 659.3,662.7 659.7,654.3 660.0,650.6 660.3,638.4 660.7,644.4 661.0,615.6 661.3,635.6 661.7,631.4 662.0,621.3 662.3,628.7 662.7,646.4 663.0,620.8 663.3,626.4 663.7,618.7 664.0,609.1 664.3,615.1 664.7,617.6 665.0,616.8 665.3,614.0 665.7,562.0 666.0,617.4 666.3,611.2 666.7,607.3 667.0,611.2 667.3,615.4 667.7,620.5 668.0,599.4 668.3,613.8 668.7,606.4 669.0,616.6 669.3,613.4 669.7,626.7 670.0,589.7 670.3,608.3 670.7,615.6 671.0,613.8 671.3,609.7 671.7,618.1 672.0,617.8 672.3,618.0 672.7,609.8 673.0,627.9 673.3,612.3 673.7,607.5 674.0,601.8 674.3,603.9 674.7,605.2 675.0,609.3 675.3,604.7 675.7,611.5 676.0,604.8 676.3,601.0 676.7,606.5 677.0,607.7 677.3,602.0 677.7,599.6 678.0,603.6 678.3,621.9 678.7,604.6 679.0,595.9 679.3,596.8 679.7,605.2 680.0,596.0 680.3,608.5 680.7,602.3 681.0,623.5 681.3,609.6 681.7,608.8 682.0,609.2 682.3,600.0 682.7,592.8 683.0,607.0 683.3,598.4 683.7,595.8 684.0,595.8 684.3,598.4 684.7,588.6 685.0,592.9 685.3,594.1 685.7,583.6 686.0,590.0 686.3,576.2 686.7,588.2 687.0,601.2 687.3,602.9 687.7,599.8 688.0,580.6 688.3,591.4 688.7,588.8 689.0,598.3 689.3,595.8 689.7,594.8 690.0,599.5 690.3,593.8 690.7,595.1 691.0,595.1 691.3,605.8 691.7,596.8 692.0,598.6 692.3,585.3 692.7,587.4 693.0,593.2 693.3,600.8 693.7,582.9 694.0,600.8 694.3,594.6 694.7,593.8 695.0,603.2 695.3,593.1 695.7,598.7 696.0,598.7 696.3,605.3 696.7,599.7 697.0,598.9 697.3,587.9 697.7,595.8 698.0,584.7 698.3,586.2 698.7,588.1 699.0,590.3 699.3,579.0 699.7,592.8 700.0,579.4 700.3,595.4 700.7,589.1 701.0,587.9 701.3,588.3 701.7,599.6 702.0,591.3 702.3,603.2 702.7,598.5 703.0,601.0 703.3,599.2 703.7,607.0 704.0,592.5 704.3,596.4 704.7,594.7 705.0,603.9 705.3,620.9 705.7,612.5 706.0,613.4 706.3,610.5 706.7,615.5 707.0,613.1 707.3,604.7 707.7,605.4 708.0,608.1 708.3,620.0 708.7,595.5 709.0,605.8 709.3,614.6 709.7,607.8 710.0,614.3 710.3,608.9 710.7,604.0 711.0,615.9 711.3,621.7 711.7,611.4 712.0,624.8 712.3,624.3 712.7,615.7 713.0,618.5 713.3,597.1 713.7,628.6 714.0,621.9 714.3,633.8 714.7,625.5 715.0,623.7 715.3,637.7 715.7,636.2 716.0,625.0 716.3,630.1 716.7,624.5 717.0,628.6 717.3,620.3 717.7,614.4 718.0,623.2 718.3,629.4 718.7,634.1 719.0,632.7 719.3,617.5 719.7,620.8 720.0,628.2 720.3,632.1 720.7,619.8 721.0,622.2 721.3,613.3 721.7,637.2 722.0,624.2 722.3,630.5 722.7,629.9 723.0,626.2 723.3,635.1 723.7,634.5 724.0,624.5 724.3,626.5 724.7,628.2 725.0,634.5 725.3,629.4 725.7,618.8 726.0,617.9 726.3,620.8 726.7,615.7 727.0,614.9 727.3,627.0 727.7,626.9 728.0,625.8 728.3,636.2 728.7,628.0 729.0,635.0 729.3,626.9 729.7,629.1 730.0,623.5 730.3,633.7 730.7,620.1 731.0,624.4 731.3,633.2 731.7,637.5 732.0,626.5 732.3,620.0 732.7,633.3 733.0,624.0 733.3,631.1 733.7,624.2 734.0,636.4 734.3,631.6 734.7,620.6 735.0,621.9 735.3,632.5 735.7,652.4 736.0,645.1 736.3,635.6 736.7,632.7 737.0,639.7 737.3,637.5 737.7,625.5 738.0,636.0 738.3,639.5 738.7,636.4 739.0,637.0 739.3,646.3 739.7,644.0 740.0,632.6 740.3,635.9 740.7,638.9 741.0,606.3 741.3,630.3 741.7,626.1 742.0,624.9 742.3,631.6 742.7,630.9 743.0,635.6 743.3,645.4 743.7,632.7 744.0,635.9 744.3,636.0 744.7,634.4 745.0,633.3 745.3,648.3 745.7,631.9 746.0,638.2 746.3,631.2 746.7,622.2 747.0,642.4 747.3,638.6 747.7,629.6 748.0,674.9 748.3,644.8 748.7,638.1 749.0,663.8 749.3,637.8 749.7,632.2 750.0,644.0 750.3,637.2 750.7,636.7 751.0,628.8 751.3,629.7 751.7,628.3 752.0,631.1 752.3,634.1 752.7,637.6 753.0,636.1 753.3,632.4 753.7,633.8 754.0,641.7 754.3,632.0 754.7,640.1 755.0,636.0 755.3,640.1 755.7,634.5 756.0,635.0 756.3,641.6 756.7,633.2 757.0,633.0 757.3,642.6 757.7,654.6 758.0,630.8 758.3,643.0 758.7,644.6 759.0,641.7 759.3,651.6 759.7,644.7 760.0,664.2 760.3,638.5 760.7,643.4 761.0,642.5 761.3,633.1 761.7,641.5 762.0,633.0 762.3,633.7 762.7,631.8 763.0,644.6 763.3,630.6 763.7,638.4 764.0,647.5 764.3,640.7 764.7,646.2 765.0,646.1 765.3,643.5 765.7,643.4 766.0,630.7 766.3,649.9 766.7,647.1 767.0,629.7 767.3,642.9 767.7,637.4 768.0,639.1 768.3,647.1 768.7,643.1 769.0,645.5 769.3,646.7 769.7,651.7 770.0,641.6 770.3,637.6 770.7,649.8 771.0,636.5 771.3,645.1 771.7,640.3 772.0,635.8 772.3,646.8 772.7,639.9 773.0,633.5 773.3,642.3 773.7,637.7 774.0,651.2 774.3,655.6 774.7,638.4 775.0,641.1 775.3,652.9 775.7,632.5 776.0,637.3 776.3,640.2 776.7,635.1 777.0,645.4 777.3,648.4 777.7,647.2 778.0,652.5 778.3,655.8 778.7,657.8 779.0,665.0 779.3,650.5 779.7,651.3 780.0,660.7 780.3,658.5 780.7,665.5 781.0,652.2 781.3,657.3 781.7,650.0 782.0,688.1 782.3,662.0 782.7,662.4 783.0,675.6 783.3,657.9 783.7,666.3 784.0,653.5 784.3,660.3 784.7,656.3 785.0,660.7 785.3,656.7 785.7,650.6 786.0,646.6 786.3,647.9 786.7,651.3 787.0,657.1 787.3,665.2 787.7,644.9 788.0,658.6 788.3,656.1 788.7,656.6 789.0,654.8 789.3,662.9 789.7,659.3 790.0,655.6 790.3,669.2 790.7,656.1 791.0,655.0 791.3,652.8 791.7,642.5 792.0,645.4 792.3,658.2 792.7,646.6 793.0,636.0 793.3,649.6 793.7,657.9 794.0,645.0 794.3,640.6 794.7,646.4 795.0,644.8 795.3,639.1 795.7,633.2 796.0,642.9 796.3,640.2 796.7,629.7 797.0,635.2 797.3,665.9 797.7,633.9 798.0,613.4 798.3,641.5 798.7,650.7 799.0,645.1 799.3,648.1 799.7,630.2 800.0,641.3 800.3,649.5 800.7,638.6 801.0,652.6 801.3,649.8 801.7,642.8 802.0,638.6 802.3,631.4 802.7,627.7 803.0,632.6 803.3,634.4 803.7,646.2 804.0,658.9 804.3,638.4 804.7,630.9 805.0,642.2 805.3,644.8 805.7,654.5 806.0,652.5 806.3,647.3 806.7,634.0 807.0,642.7 807.3,643.1 807.7,643.6 808.0,636.1 808.3,646.3 808.7,638.1 809.0,641.6 809.3,639.3 809.7,628.1 810.0,647.7 810.3,654.1 810.7,637.3 811.0,634.8 811.3,645.3 811.7,635.9 812.0,643.5 812.3,642.2 812.7,636.0 813.0,605.6 813.3,634.9 813.7,612.4 814.0,643.6 814.3,631.9 814.7,636.1 815.0,636.2 815.3,647.4 815.7,644.0 816.0,641.5 816.3,643.4 816.7,625.9 817.0,628.8 817.3,642.1 817.7,684.4 818.0,634.0 818.3,636.7 818.7,628.4 819.0,638.5 819.3,637.5 819.7,640.6 820.0,637.8 820.3,650.3 820.7,637.3 821.0,656.0 821.3,642.1 821.7,650.5 822.0,652.2 822.3,659.9 822.7,629.4 823.0,631.2 823.3,645.0 823.7,631.9 824.0,634.4 824.3,635.1 824.7,635.8 825.0,644.2 825.3,641.0 825.7,645.2 826.0,641.5 826.3,634.4 826.7,642.1 827.0,650.8 827.3,656.8 827.7,648.7 828.0,642.4 828.3,641.8 828.7,648.8 829.0,651.9 829.3,655.7 829.7,640.5 830.0,641.5 830.3,641.3 830.7,637.0 831.0,637.2 831.3,630.5 831.7,638.6 832.0,646.6 832.3,639.4 832.7,648.8 833.0,639.9 833.3,651.3 833.7,651.5 834.0,653.0 834.3,635.3 834.7,631.7 835.0,632.3 835.3,638.5 835.7,648.0 836.0,649.6 836.3,649.2 836.7,635.6 837.0,649.0 837.3,650.1 837.7,640.6 838.0,624.9 838.3,630.6 838.7,635.7 839.0,645.1 839.3,635.2 839.7,632.4 840.0,642.0 840.3,645.6 840.7,641.0 841.0,643.0 841.3,642.7 841.7,632.3 842.0,640.2 842.3,635.0 842.7,636.1 843.0,641.5 843.3,646.9 843.7,652.3 844.0,643.0 844.3,649.5 844.7,642.8 845.0,634.3 845.3,635.9 845.7,639.4 846.0,632.9 846.3,646.5 846.7,645.9 847.0,638.0 847.3,649.2 847.7,644.2 848.0,645.0 848.3,635.1 848.7,638.2 849.0,628.0 849.3,630.3 849.7,639.5 850.0,643.4 850.3,640.8 850.7,639.7 851.0,634.6 851.3,649.9 851.7,639.5 852.0,627.4 852.3,629.9 852.7,628.0 853.0,635.6 853.3,641.6 853.7,634.3 854.0,635.8 854.3,630.3 854.7,621.9 855.0,632.6 855.3,642.6 855.7,636.5 856.0,642.2 856.3,634.8 856.7,628.7 857.0,643.2 857.3,643.5 857.7,627.9 858.0,627.1 858.3,636.4 858.7,621.8 859.0,626.0 859.3,622.4 859.7,627.7 860.0,624.6 860.3,625.6 860.7,624.6 861.0,641.1 861.3,642.1 861.7,625.9 862.0,622.0 862.3,635.7 862.7,632.7 863.0,634.4 863.3,629.5 863.7,634.9 864.0,623.4 864.3,619.1 864.7,625.9 865.0,614.8 865.3,632.3 865.7,627.0 866.0,635.1 866.3,641.3 866.7,632.5 867.0,622.4 867.3,632.9 867.7,635.4 868.0,636.2 868.3,626.4 868.7,633.6 869.0,630.2 869.3,630.1 869.7,621.5 870.0,636.4 870.3,642.9 870.7,628.2 871.0,623.8 871.3,631.0 871.7,632.5 872.0,643.4 872.3,646.5 872.7,641.8 873.0,630.7 873.3,635.0 873.7,629.5 874.0,621.5 874.3,622.9 874.7,640.1 875.0,624.5 875.3,641.9 875.7,645.6 876.0,630.8 876.3,625.3 876.7,623.5 877.0,605.4 877.3,628.4 877.7,636.6 878.0,626.0 878.3,626.7 878.7,628.8 879.0,636.6 879.3,638.5 879.7,625.9 880.0,631.0 880.3,633.4 880.7,619.3 881.0,622.3 881.3,625.3 881.7,616.6 882.0,625.2 882.3,627.7 882.7,623.7 883.0,637.5 883.3,618.0 883.7,627.1 884.0,624.2 884.3,632.8 884.7,621.0 885.0,634.7 885.3,632.2 885.7,633.5 886.0,636.0 886.3,617.1 886.7,617.6 887.0,645.6 887.3,634.5 887.7,636.7 888.0,623.1 888.3,629.8 888.7,634.9 889.0,628.0 889.3,630.0 889.7,620.0 890.0,627.3 890.3,637.0 890.7,625.8 891.0,633.0 891.3,629.4 891.7,631.9 892.0,635.0 892.3,625.2 892.7,640.6 893.0,631.7 893.3,637.4 893.7,630.7 894.0,638.6 894.3,632.1 894.7,644.3 895.0,627.1 895.3,626.8 895.7,636.3 896.0,632.8 896.3,627.2 896.7,624.1 897.0,619.6 897.3,623.4 897.7,629.5 898.0,631.5 898.3,628.7 898.7,635.5 899.0,631.4 899.3,629.3 899.7,631.6 900.0,639.2 900.3,633.3 900.7,637.8 901.0,619.4 901.3,623.7 901.7,624.2 902.0,624.5 902.3,621.0 902.7,612.7 903.0,624.2 903.3,606.8 903.7,620.1 904.0,632.6 904.3,620.3 904.7,623.5 905.0,623.5 905.3,625.1 905.7,624.5 906.0,629.9 906.3,624.0 906.7,615.2 907.0,628.0 907.3,620.7 907.7,611.7 908.0,625.6 908.3,619.5 908.7,609.0 909.0,625.0 909.3,613.7 909.7,613.4 910.0,610.8 910.3,614.5 910.7,618.3 911.0,627.1 911.3,618.4 911.7,616.9 912.0,624.9 912.3,617.7 912.7,614.7 913.0,607.7 913.3,625.6 913.7,611.1 914.0,625.5 914.3,627.3 914.7,622.9 915.0,625.0 915.3,620.2 915.7,621.9 916.0,625.0 916.3,622.7 916.7,632.8 917.0,626.7 917.3,628.7 917.7,627.3 918.0,629.5 918.3,636.7 918.7,617.4 919.0,631.7 919.3,618.7 919.7,620.2 920.0,615.7 920.3,616.0 920.7,614.3 921.0,599.6 921.3,634.6 921.7,629.4 922.0,620.0 922.3,610.3 922.7,627.4 923.0,633.4 923.3,628.8 923.7,618.2 924.0,621.5 924.3,620.2 924.7,614.1 925.0,620.4 925.3,613.6 925.7,617.6 926.0,609.1 926.3,630.6 926.7,625.5 927.0,613.2 927.3,604.8 927.7,618.6 928.0,599.7 928.3,606.8 928.7,601.4 929.0,606.5 929.3,612.7 929.7,607.6 930.0,619.3 930.3,619.2 930.7,616.1 931.0,611.3 931.3,610.9 931.7,601.1 932.0,608.3 932.3,610.7 932.7,613.4 933.0,616.8 933.3,609.3 933.7,607.6 934.0,616.8 934.3,596.5 934.7,600.1 935.0,602.3 935.3,607.8 935.7,609.6 936.0,590.0 936.3,604.8 936.7,615.2 937.0,614.3 937.3,614.8 937.7,609.3 938.0,609.6 938.3,601.8 938.7,597.2 939.0,611.1 939.3,618.4 939.7,610.7 940.0,607.6 940.3,616.6 940.7,612.3 941.0,621.2 941.3,610.6 941.7,599.2 942.0,608.5 942.3,613.6 942.7,600.0 943.0,602.2 943.3,603.5 943.7,587.2 944.0,619.3 944.3,611.0 944.7,603.3 945.0,597.8 945.3,594.1 945.7,619.6 946.0,602.9 946.3,607.9 946.7,604.0 947.0,602.5 947.3,588.7 947.7,597.0 948.0,602.4 948.3,606.3 948.7,614.1 949.0,619.1 949.3,616.1 949.7,624.7 950.0,613.2 950.3,612.9 950.7,613.2 951.0,612.6 951.3,617.2 951.7,597.0 952.0,597.3 952.3,598.3 952.7,619.2 953.0,618.0 953.3,610.1 953.7,612.8 954.0,598.6 954.3,611.4 954.7,617.4 955.0,637.7 955.3,621.3 955.7,608.7 956.0,622.4 956.3,614.3 956.7,615.0 957.0,616.6 957.3,620.1 957.7,620.2 958.0,610.7 958.3,614.4 958.7,614.6 959.0,615.4 959.3,607.7 959.7,613.3 960.0,614.9 960.3,609.9 960.7,609.7 961.0,602.6 961.3,599.7 961.7,585.7 962.0,603.1 962.3,613.9 962.7,608.1 963.0,590.7 963.3,597.5 963.7,610.9 964.0,609.7 964.3,600.6 964.7,612.9 965.0,596.0 965.3,602.6 965.7,598.7 966.0,616.0 966.3,605.2 966.7,607.6 967.0,606.3 967.3,599.2 967.7,601.9 968.0,581.7 968.3,596.0 968.7,606.7 969.0,605.4 969.3,595.6 969.7,605.6 970.0,600.2 970.3,594.3 970.7,604.7 971.0,600.9 971.3,604.3 971.7,601.0 972.0,607.8 972.3,606.9 972.7,608.6 973.0,595.4 973.3,603.8 973.7,592.8 974.0,607.3 974.3,609.3 974.7,590.7 975.0,611.0 975.3,597.9 975.7,618.6 976.0,610.9 976.3,613.7 976.7,615.5 977.0,604.0 977.3,602.5 977.7,610.4 978.0,607.0 978.3,609.0 978.7,602.6 979.0,612.4 979.3,613.4 979.7,605.6 980.0,624.2 980.3,615.9 980.7,612.6 981.0,608.4 981.3,607.7 981.7,615.4 982.0,624.3 982.3,607.2 982.7,603.3 983.0,606.4 983.3,608.2 983.7,610.7 984.0,594.9 984.3,597.5 984.7,595.2 985.0,607.5 985.3,612.9 985.7,607.0 986.0,610.9 986.3,607.2 986.7,610.2 987.0,593.3 987.3,602.0 987.7,599.9 988.0,607.9 988.3,604.9 988.7,594.9 989.0,611.3 989.3,611.2 989.7,614.4 990.0,607.3 990.3,606.7 990.7,616.5 991.0,605.8 991.3,610.3 991.7,603.3 992.0,610.8 992.3,611.4 992.7,604.6 993.0,616.0 993.3,600.4 993.7,608.7 994.0,594.4 994.3,611.7 994.7,607.0 995.0,614.0 995.3,620.2 995.7,606.3 996.0,610.8 996.3,599.3 996.7,608.9 997.0,608.2 997.3,607.9 997.7,613.2 998.0,609.8 998.3,615.8 998.7,605.3 999.0,610.6 999.3,602.4 999.7,604.6 1000.0,586.5 1000.3,606.2 1000.7,586.8 1001.0,602.8 1001.3,602.6 1001.7,591.8 1002.0,597.6 1002.3,593.6 1002.7,598.0 1003.0,603.2 1003.3,595.2 1003.7,599.9 1004.0,604.8 1004.3,597.0 1004.7,602.3 1005.0,608.5 1005.3,599.6 1005.7,592.5 1006.0,603.6 1006.3,608.0 1006.7,605.7 1007.0,590.1 1007.3,599.1 1007.7,589.7 1008.0,593.2 1008.3,602.1 1008.7,603.0 1009.0,612.9 1009.3,592.8 1009.7,629.4 1010.0,590.7 1010.3,609.3 1010.7,593.3 1011.0,603.7 1011.3,598.5 1011.7,599.2 1012.0,594.0 1012.3,600.7 1012.7,602.8 1013.0,604.0 1013.3,603.1 1013.7,605.7 1014.0,600.5 1014.3,605.1 1014.7,607.5 1015.0,597.1 1015.3,607.5 1015.7,603.4 1016.0,597.8 1016.3,605.4 1016.7,608.1 1017.0,602.1 1017.3,588.4 1017.7,599.4 1018.0,603.4 1018.3,595.5 1018.7,604.2 1019.0,604.5 1019.3,588.5 1019.7,604.0 1020.0,596.9 1020.3,600.0 1020.7,603.2 1021.0,588.8 1021.3,601.0 1021.7,609.4 1022.0,581.1 1022.3,556.3 1022.7,599.0 1023.0,590.0 1023.3,593.1 1023.7,607.1 1024.0,601.6 1024.3,595.5 1024.7,604.7 1025.0,607.5 1025.3,606.1 1025.7,592.8 1026.0,587.9 1026.3,591.8 1026.7,582.7 1027.0,592.5 1027.3,598.5 1027.7,605.7 1028.0,601.1 1028.3,599.9 1028.7,588.1 1029.0,596.4 1029.3,593.4 1029.7,595.2 1030.0,602.5 1030.3,620.8 1030.7,608.2 1031.0,598.4 1031.3,598.4 1031.7,608.8 1032.0,605.5 1032.3,605.1 1032.7,594.7 1033.0,611.1 1033.3,599.3 1033.7,600.2 1034.0,597.8 1034.3,600.9 1034.7,597.5 1035.0,591.2 1035.3,605.9 1035.7,598.8 1036.0,596.2 1036.3,592.5 1036.7,613.8 1037.0,600.2 1037.3,604.0 1037.7,599.0 1038.0,615.4 1038.3,596.9 1038.7,608.1 1039.0,587.6 1039.3,607.8 1039.7,600.2 1040.0,591.4 1040.3,602.7 1040.7,605.1 1041.0,594.2 1041.3,603.8 1041.7,601.8 1042.0,605.9 1042.3,591.7 1042.7,588.3 1043.0,599.9 1043.3,604.4 1043.7,598.9 1044.0,593.9 1044.3,605.7 1044.7,595.6 1045.0,604.3 1045.3,605.3 1045.7,590.9 1046.0,582.8 1046.3,596.8 1046.7,595.7 1047.0,599.8 1047.3,592.9 1047.7,596.0 1048.0,592.0 1048.3,595.1 1048.7,618.0 1049.0,600.8 1049.3,587.3 1049.7,599.5 1050.0,600.9 1050.3,588.5 1050.7,597.3 1051.0,601.5 1051.3,607.2 1051.7,602.4 1052.0,591.2 1052.3,594.5 1052.7,595.3 1053.0,592.9 1053.3,602.4 1053.7,586.9 1054.0,592.7 1054.3,595.0 1054.7,595.8 1055.0,596.0 1055.3,612.2 1055.7,611.1 1056.0,604.5 1056.3,589.2 1056.7,600.8 1057.0,606.8 1057.3,595.1 1057.7,592.7 1058.0,601.0 1058.3,596.2 1058.7,597.6 1059.0,601.5 1059.3,623.4 1059.7,601.4 1060.0,605.3 1060.3,598.9 1060.7,607.7 1061.0,616.8 1061.3,610.3 1061.7,611.0 1062.0,595.7 1062.3,610.4 1062.7,595.8 1063.0,607.1 1063.3,596.7 1063.7,604.8 1064.0,605.2 1064.3,597.1 1064.7,578.4 1065.0,589.8 1065.3,599.6 1065.7,599.6 1066.0,600.2 1066.3,612.3 1066.7,605.7 1067.0,600.8 1067.3,614.1 1067.7,603.0 1068.0,607.8 1068.3,606.7 1068.7,588.9 1069.0,609.7 1069.3,614.1 1069.7,604.0 1070.0,611.7 1070.3,609.1 1070.7,602.3 1071.0,598.9 1071.3,605.1 1071.7,595.6 1072.0,599.8 1072.3,609.8 1072.7,610.6 1073.0,615.1 1073.3,614.4 1073.7,600.6 1074.0,615.3 1074.3,599.2 1074.7,605.6 1075.0,612.8 1075.3,632.1 1075.7,627.3 1076.0,617.8 1076.3,630.5 1076.7,645.7 1077.0,624.0 1077.3,628.9 1077.7,647.1 1078.0,642.7 1078.3,641.0 1078.7,663.3 1079.0,645.6 1079.3,641.3 1079.7,644.7 1080.0,657.1 1080.3,650.7 1080.7,651.8 1081.0,648.8 1081.3,644.8 1081.7,648.6 1082.0,642.0 1082.3,652.8 1082.7,644.2 1083.0,646.8 1083.3,647.0 1083.7,644.3 1084.0,655.7 1084.3,637.4 1084.7,649.0 1085.0,643.9 1085.3,654.4 1085.7,651.7 1086.0,653.6 1086.3,658.2 1086.7,655.2 1087.0,654.4 1087.3,652.7 1087.7,652.3 1088.0,651.5 1088.3,672.4 1088.7,653.3 1089.0,648.3 1089.3,651.9 1089.7,660.1 1090.0,641.7 1090.3,665.8 1090.7,653.4 1091.0,664.4 1091.3,658.3 1091.7,652.9 1092.0,661.6 1092.3,663.8 1092.7,649.3 1093.0,643.8 1093.3,632.6 1093.7,638.5 1094.0,626.0 1094.3,615.9 1094.7,605.2 1095.0,585.5 1095.3,600.5 1095.7,582.1 1096.0,590.2 1096.3,597.5 1096.7,592.1 1097.0,589.4 1097.3,580.8 1097.7,596.1 1098.0,593.1 1098.3,586.8 1098.7,592.3 1099.0,573.9 1099.3,586.0 1099.7,594.2 1100.0,599.8 1100.3,591.7 1100.7,584.9 1101.0,589.8 1101.3,600.1 1101.7,587.0 1102.0,595.0 1102.3,591.0 1102.7,588.8 1103.0,573.8 1103.3,577.6 1103.7,584.4 1104.0,593.9 1104.3,595.8 1104.7,603.8 1105.0,588.5 1105.3,596.5 1105.7,589.8 1106.0,586.0 1106.3,585.1 1106.7,591.3 1107.0,595.1 1107.3,593.0 1107.7,614.1 1108.0,594.2 1108.3,599.8 1108.7,591.4 1109.0,609.2 1109.3,576.9 1109.7,589.0 1110.0,592.5 1110.3,596.1 1110.7,585.2 1111.0,579.6 1111.3,588.8 1111.7,586.6 1112.0,581.6 1112.3,586.2 1112.7,582.2 1113.0,591.8 1113.3,581.1 1113.7,587.9 1114.0,586.7 1114.3,595.6 1114.7,594.9 1115.0,595.5 1115.3,598.6 1115.7,594.2 1116.0,585.1 1116.3,582.0 1116.7,584.8 1117.0,594.7 1117.3,598.2 1117.7,588.2 1118.0,590.1 1118.3,599.0 1118.7,591.3 1119.0,590.9 1119.3,589.7 1119.7,590.5 1120.0,601.6 1120.3,602.0 1120.7,587.4 1121.0,596.8 1121.3,597.2 1121.7,593.8 1122.0,594.9 1122.3,586.9 1122.7,590.9 1123.0,590.1 1123.3,593.1 1123.7,578.6 1124.0,614.1 1124.3,585.4 1124.7,591.3 1125.0,580.2 1125.3,591.0 1125.7,586.9 1126.0,580.5 1126.3,591.3 1126.7,597.8 1127.0,577.4 1127.3,592.1 1127.7,594.3 1128.0,596.6 1128.3,596.8 1128.7,587.1 1129.0,592.2 1129.3,590.4 1129.7,580.9 1130.0,580.2 1130.3,573.0 1130.7,592.0 1131.0,596.4 1131.3,590.3 1131.7,588.9 1132.0,581.3 1132.3,588.5 1132.7,596.0 1133.0,589.1 1133.3,596.4 1133.7,591.2 1134.0,589.4 1134.3,599.2 1134.7,590.7 1135.0,596.8 1135.3,604.5 1135.7,592.5 1136.0,591.2 1136.3,586.8 1136.7,584.9 1137.0,591.6 1137.3,584.1 1137.7,588.6 1138.0,581.7 1138.3,575.5 1138.7,581.3 1139.0,586.0 1139.3,586.8 1139.7,580.0 1140.0,586.1 1140.3,575.5 1140.7,578.1 1141.0,585.6 1141.3,589.8 1141.7,591.1 1142.0,574.5 1142.3,592.2 1142.7,579.9 1143.0,585.4 1143.3,572.1 1143.7,577.0 1144.0,572.6 1144.3,563.6 1144.7,575.9 1145.0,569.5 1145.3,571.4 1145.7,575.3 1146.0,574.1 1146.3,571.5 1146.7,577.0 1147.0,561.2 1147.3,580.0 1147.7,570.0 1148.0,574.5 1148.3,572.9 1148.7,573.9 1149.0,587.1 1149.3,578.3 1149.7,586.0 1150.0,611.4 1150.3,590.3 1150.7,590.6 1151.0,609.5 1151.3,601.9 1151.7,610.0 1152.0,607.0 1152.3,607.9 1152.7,619.1 1153.0,634.4 1153.3,616.7 1153.7,627.7 1154.0,622.2 1154.3,623.2 1154.7,625.4 1155.0,642.0 1155.3,652.7 1155.7,650.7 1156.0,648.2 1156.3,663.2 1156.7,650.3 1157.0,625.0 1157.3,659.1 1157.7,654.3 1158.0,658.8 1158.3,648.1 1158.7,670.1 1159.0,666.7 1159.3,675.2 1159.7,680.1 1160.0,680.1 1160.3,687.6 1160.7,691.0 1161.0,668.2 1161.3,668.9 1161.7,688.2 1162.0,681.8 1162.3,679.5 1162.7,678.8 1163.0,679.2 1163.3,683.1 1163.7,672.1 1164.0,674.8 1164.3,662.9 1164.7,684.8 1165.0,678.8 1165.3,670.0 1165.7,662.3 1166.0,665.4 1166.3,670.1 1166.7,682.9 1167.0,681.2 1167.3,662.6 1167.7,663.0 1168.0,662.0 1168.3,667.1 1168.7,661.2 1169.0,666.7 1169.3,664.2 1169.7,663.2 1170.0,652.9 1170.3,665.3 1170.7,651.0 1171.0,642.5 1171.3,652.4 1171.7,649.6 1172.0,651.4 1172.3,655.3 1172.7,650.7 1173.0,654.4 1173.3,643.4 1173.7,655.3 1174.0,631.8 1174.3,656.1 1174.7,644.1 1175.0,653.2 1175.3,643.0 1175.7,643.4 1176.0,645.4 1176.3,639.0 1176.7,638.6 1177.0,623.7 1177.3,646.7 1177.7,640.5 1178.0,636.2 1178.3,644.0 1178.7,637.3 1179.0,636.6 1179.3,618.9 1179.7,629.3 1180.0,622.3 1180.3,630.3 1180.7,619.0 1181.0,606.0 1181.3,613.4 1181.7,624.3 1182.0,608.0 1182.3,618.9 1182.7,610.0 1183.0,596.7 1183.3,614.7 1183.7,625.0 1184.0,612.7 1184.3,607.4 1184.7,610.4 1185.0,610.4 1185.3,634.7 1185.7,625.8 1186.0,610.0 1186.3,629.6 1186.7,630.7 1187.0,623.6 1187.3,621.9 1187.7,629.5 1188.0,646.0 1188.3,629.0 1188.7,623.6 1189.0,638.4 1189.3,633.3 1189.7,633.4 1190.0,641.4 1190.3,647.3 1190.7,648.2 1191.0,645.4 1191.3,655.4 1191.7,657.1 1192.0,641.0 1192.3,642.0 1192.7,639.9 1193.0,643.6 1193.3,648.4 1193.7,648.9 1194.0,654.6 1194.3,656.5 1194.7,646.6 1195.0,645.0 1195.3,659.7 1195.7,666.9 1196.0,659.1 1196.3,652.4 1196.7,656.9 1197.0,650.1 1197.3,645.8 1197.7,646.3 1198.0,656.1 1198.3,649.2 1198.7,646.9 1199.0,632.5 1199.3,637.5 1199.7,645.1 1200.0,630.7 1200.3,629.2 1200.7,634.5 1201.0,620.8 1201.3,614.7 1201.7,619.1 1202.0,628.1 1202.3,619.1 1202.7,629.4 1203.0,620.8 1203.3,613.6 1203.7,619.5 1204.0,610.9 1204.3,612.1 1204.7,607.6 1205.0,611.1 1205.3,609.1 1205.7,595.3 1206.0,601.7 1206.3,602.8 1206.7,610.1 1207.0,602.7 1207.3,597.4 1207.7,606.9 1208.0,590.6 1208.3,591.2 1208.7,607.7 1209.0,589.9 1209.3,601.2 1209.7,584.0 1210.0,607.6 1210.3,582.0 1210.7,577.8 1211.0,583.4 1211.3,590.8 1211.7,578.4 1212.0,573.6 1212.3,585.5 1212.7,578.4 1213.0,578.3 1213.3,586.4 1213.7,579.6 1214.0,569.0 1214.3,575.9 1214.7,574.4 1215.0,570.2 1215.3,578.7 1215.7,581.7 1216.0,591.9 1216.3,575.5 1216.7,586.1 1217.0,573.1 1217.3,580.1 1217.7,579.2 1218.0,581.2 1218.3,579.2 1218.7,573.9 1219.0,567.2 1219.3,585.7 1219.7,565.1 1220.0,564.8 1220.3,579.8 1220.7,573.6 1221.0,573.6 1221.3,569.0 1221.7,568.7 1222.0,564.2 1222.3,573.5 1222.7,569.0 1223.0,566.6 1223.3,571.7 1223.7,574.2 1224.0,566.6 1224.3,570.9 1224.7,576.8 1225.0,579.7 1225.3,566.2 1225.7,561.4 1226.0,589.6 1226.3,572.6 1226.7,576.3 1227.0,562.5 1227.3,575.3 1227.7,568.1 1228.0,578.6 1228.3,569.2 1228.7,589.8 1229.0,606.8 1229.3,562.5 1229.7,581.3 1230.0,582.1 1230.3,584.7 1230.7,561.5 1231.0,571.3 1231.3,578.5 1231.7,568.2 1232.0,573.5 1232.3,570.5 1232.7,564.5 1233.0,577.3 1233.3,570.4 1233.7,577.2 1234.0,577.5 1234.3,568.5 1234.7,575.2 1235.0,558.0 1235.3,574.1 1235.7,557.4 1236.0,567.4 1236.3,568.0 1236.7,575.1 1237.0,569.4 1237.3,570.9 1237.7,576.0 1238.0,582.8 1238.3,563.7 1238.7,561.2 1239.0,562.0 1239.3,556.3 1239.7,554.9 1240.0,562.4 1240.3,568.9 1240.7,563.2 1241.0,561.6 1241.3,566.6 1241.7,564.9 1242.0,585.0 1242.3,578.5 1242.7,561.9 1243.0,547.9 1243.3,571.7 1243.7,557.6 1244.0,556.6 1244.3,553.9 1244.7,563.0 1245.0,533.5 1245.3,565.5 1245.7,557.2 1246.0,563.2 1246.3,560.8 1246.7,549.3 1247.0,556.9 1247.3,572.9 1247.7,574.4 1248.0,562.1 1248.3,568.3 1248.7,571.1 1249.0,536.3 1249.3,561.5 1249.7,569.5 1250.0,561.9 1250.3,557.1 1250.7,577.9 1251.0,571.0 1251.3,573.6 1251.7,570.5 1252.0,567.6 1252.3,573.6 1252.7,579.5 1253.0,568.5 1253.3,580.9 1253.7,580.5 1254.0,553.1 1254.3,576.4 1254.7,563.9 1255.0,568.7 1255.3,565.0 1255.7,565.9 1256.0,575.7 1256.3,568.1 1256.7,573.9 1257.0,567.4 1257.3,558.6 1257.7,567.4 1258.0,570.4 1258.3,567.9 1258.7,567.0 1259.0,588.7 1259.3,568.0 1259.7,567.1 1260.0,559.3 1260.3,580.8 1260.7,573.8 1261.0,577.2 1261.3,580.6 1261.7,567.2 1262.0,563.2 1262.3,571.9 1262.7,578.1 1263.0,565.9 1263.3,566.6 1263.7,564.8 1264.0,566.3 1264.3,569.3 1264.7,551.1 1265.0,567.6 1265.3,569.6 1265.7,557.7 1266.0,561.4 1266.3,568.7 1266.7,571.9 1267.0,569.8 1267.3,565.5 1267.7,570.6 1268.0,571.0 1268.3,564.9 1268.7,568.5 1269.0,566.3 1269.3,567.9 1269.7,554.0 1270.0,560.7 1270.3,562.4 1270.7,571.7 1271.0,587.3 1271.3,573.5 1271.7,585.1 1272.0,574.2 1272.3,576.5 1272.7,577.5 1273.0,574.0 1273.3,560.0 1273.7,565.3 1274.0,580.6 1274.3,585.9 1274.7,581.1 1275.0,583.9 1275.3,576.8 1275.7,566.8 1276.0,566.1 1276.3,567.9 1276.7,572.8 1277.0,570.6 1277.3,556.0 1277.7,565.9 1278.0,557.2 1278.3,555.8 1278.7,563.7 1279.0,567.9 1279.3,568.6 1279.7,564.9 1280.0,568.5 1280.3,573.0 1280.7,568.4 1281.0,564.5 1281.3,554.4 1281.7,566.5 1282.0,559.3 1282.3,569.6 1282.7,560.3 1283.0,570.9 1283.3,567.4 1283.7,576.8 1284.0,564.8 1284.3,560.1 1284.7,568.4 1285.0,569.7 1285.3,557.3 1285.7,561.9 1286.0,554.2 1286.3,560.4 1286.7,543.5 1287.0,552.4 1287.3,555.1 1287.7,560.4 1288.0,556.6 1288.3,564.9 1288.7,548.7 1289.0,564.4 1289.3,567.9 1289.7,564.5 1290.0,565.1 1290.3,563.3 1290.7,572.0 1291.0,557.3 1291.3,555.4 1291.7,555.8 1292.0,565.2 1292.3,565.5 1292.7,568.3 1293.0,560.5 1293.3,555.7 1293.7,562.9 1294.0,568.1 1294.3,559.8 1294.7,574.3 1295.0,564.4 1295.3,556.5 1295.7,559.7 1296.0,552.3 1296.3,549.1 1296.7,550.8 1297.0,558.6 1297.3,564.5 1297.7,567.9 1298.0,568.5 1298.3,562.8 1298.7,569.1 1299.0,555.6 1299.3,555.1 1299.7,570.9 1300.0,561.1 1300.3,572.5 1300.7,570.2 1301.0,565.3 1301.3,560.1 1301.7,552.3 1302.0,576.0 1302.3,573.0 1302.7,585.7 1303.0,583.8 1303.3,572.0 1303.7,566.3 1304.0,556.9 1304.3,567.6 1304.7,571.2 1305.0,565.6 1305.3,575.0 1305.7,572.7 1306.0,556.5 1306.3,562.1 1306.7,557.6 1307.0,575.5 1307.3,563.5 1307.7,566.8 1308.0,564.8 1308.3,566.0 1308.7,561.6 1309.0,583.3 1309.3,576.6 1309.7,560.9 1310.0,566.6 1310.3,571.2 1310.7,566.3 1311.0,562.2 1311.3,580.6 1311.7,577.5 1312.0,582.1 1312.3,545.4 1312.7,552.7 1313.0,569.2 1313.3,566.1 1313.7,561.1 1314.0,556.8 1314.3,565.4 1314.7,557.9 1315.0,571.0 1315.3,573.7 1315.7,573.2 1316.0,554.9 1316.3,568.3 1316.7,579.2 1317.0,574.1 1317.3,570.7 1317.7,571.0 1318.0,564.3 1318.3,583.9 1318.7,585.9 1319.0,572.9 1319.3,576.3 1319.7,570.8 1320.0,574.2 1320.3,567.2 1320.7,568.0 1321.0,564.5 1321.3,558.6 1321.7,560.0 1322.0,561.5 1322.3,561.4 1322.7,568.4 1323.0,567.5 1323.3,569.7 1323.7,563.8 1324.0,569.4 1324.3,559.4 1324.7,563.1 1325.0,571.3 1325.3,563.4 1325.7,559.4 1326.0,565.7 1326.3,574.1 1326.7,566.8 1327.0,569.0 1327.3,568.8 1327.7,569.6 1328.0,561.2 1328.3,549.1 1328.7,556.4 1329.0,542.7 1329.3,563.3 1329.7,559.4 1330.0,571.6 1330.3,565.0 1330.7,570.5 1331.0,567.2 1331.3,570.6 1331.7,581.3 1332.0,563.3 1332.3,559.6 1332.7,580.3 1333.0,600.6 1333.3,566.5 1333.7,567.2 1334.0,567.7 1334.3,562.2 1334.7,570.6 1335.0,517.5 1335.3,553.9 1335.7,563.9 1336.0,555.8 1336.3,564.2 1336.7,553.8 1337.0,560.8 1337.3,564.2 1337.7,560.3 1338.0,572.2 1338.3,565.5 1338.7,568.5 1339.0,556.5 1339.3,574.1 1339.7,566.9 1340.0,556.1 1340.3,574.6 1340.7,571.7 1341.0,566.0 1341.3,563.6 1341.7,562.4 1342.0,568.5 1342.3,567.8 1342.7,570.7 1343.0,584.3 1343.3,566.3 1343.7,565.3 1344.0,553.3 1344.3,568.6 1344.7,568.5 1345.0,557.8 1345.3,580.9 1345.7,561.9 1346.0,564.5 1346.3,561.9 1346.7,563.1 1347.0,545.5 1347.3,570.1 1347.7,548.7 1348.0,570.1 1348.3,562.1 1348.7,561.6 1349.0,582.3 1349.3,560.9 1349.7,565.9 1350.0,559.6 1350.3,567.1 1350.7,569.9 1351.0,578.9 1351.3,545.3 1351.7,560.2 1352.0,571.2 1352.3,572.8 1352.7,561.0 1353.0,561.1 1353.3,571.5 1353.7,567.4 1354.0,582.8 1354.3,561.6 1354.7,559.2 1355.0,561.0 1355.3,553.5 1355.7,552.8 1356.0,551.9 1356.3,561.0 1356.7,552.6 1357.0,556.8 1357.3,541.9 1357.7,566.7 1358.0,558.7 1358.3,555.2 1358.7,569.1 1359.0,556.3 1359.3,563.7 1359.7,565.4 1360.0,560.4 1360.3,546.9 1360.7,572.0 1361.0,572.7 1361.3,558.3 1361.7,558.5 1362.0,568.0 1362.3,561.6 1362.7,564.7 1363.0,570.3 1363.3,567.7 1363.7,583.0 1364.0,576.8 1364.3,564.1 1364.7,564.9 1365.0,560.9 1365.3,572.6 1365.7,554.6 1366.0,570.2 1366.3,558.9 1366.7,548.5 1367.0,596.6 1367.3,568.1 1367.7,571.1 1368.0,565.4 1368.3,569.8 1368.7,571.3 1369.0,585.3 1369.3,584.2 1369.7,571.9 1370.0,569.7 1370.3,571.1 1370.7,570.3 1371.0,569.7 1371.3,562.7 1371.7,565.4 1372.0,565.5 1372.3,563.2 1372.7,565.0 1373.0,577.5 1373.3,568.3 1373.7,570.6 1374.0,561.2 1374.3,569.8 1374.7,564.2 1375.0,565.3 1375.3,555.7 1375.7,559.1 1376.0,562.9 1376.3,570.1 1376.7,568.7 1377.0,579.1 1377.3,570.7 1377.7,571.3 1378.0,563.0 1378.3,557.1 1378.7,557.7 1379.0,563.0 1379.3,547.7 1379.7,563.1 1380.0,562.8 1380.3,546.0 1380.7,566.0 1381.0,564.1 1381.3,577.7 1381.7,565.6 1382.0,579.6 1382.3,564.5 1382.7,562.2 1383.0,570.4 1383.3,566.6 1383.7,548.3 1384.0,571.3 1384.3,573.5 1384.7,560.1 1385.0,562.7 1385.3,568.0 1385.7,551.7 1386.0,567.2 1386.3,564.0 1386.7,567.8 1387.0,559.1 1387.3,555.9 1387.7,561.4 1388.0,567.5 1388.3,555.1 1388.7,598.8 1389.0,561.8 1389.3,562.5 1389.7,565.1 1390.0,553.8 1390.3,561.0 1390.7,544.9 1391.0,548.7 1391.3,547.7 1391.7,553.3 1392.0,542.6 1392.3,537.1 1392.7,551.0 1393.0,549.2 1393.3,524.2 1393.7,549.9 1394.0,545.2 1394.3,561.3 1394.7,556.3 1395.0,553.5 1395.3,568.9 1395.7,559.1 1396.0,565.7 1396.3,552.1 1396.7,531.4 1397.0,544.2 1397.3,534.5 1397.7,545.7 1398.0,556.6 1398.3,538.6 1398.7,553.8 1399.0,544.5 1399.3,549.7 1399.7,544.7 1400.0,533.8 1400.3,548.5 1400.7,548.1 1401.0,557.3 1401.3,563.5 1401.7,547.8 1402.0,561.5 1402.3,550.7 1402.7,555.6 1403.0,553.2 1403.3,544.2 1403.7,556.7 1404.0,549.0 1404.3,551.9 1404.7,546.2 1405.0,546.6 1405.3,563.9 1405.7,562.3 1406.0,563.8 1406.3,562.5 1406.7,561.4 1407.0,556.1 1407.3,561.1 1407.7,550.7 1408.0,558.4 1408.3,547.7 1408.7,545.4 1409.0,555.8 1409.3,565.8 1409.7,564.0 1410.0,572.9 1410.3,566.6 1410.7,565.1 1411.0,568.3 1411.3,551.8 1411.7,559.0 1412.0,561.5 1412.3,566.9 1412.7,545.8 1413.0,555.2 1413.3,553.4 1413.7,556.1 1414.0,547.4 1414.3,556.0 1414.7,553.7 1415.0,556.7 1415.3,572.6 1415.7,548.7 1416.0,555.5 1416.3,554.7 1416.7,563.2 1417.0,566.4 1417.3,565.5 1417.7,558.1 1418.0,546.7 1418.3,556.8 1418.7,542.0 1419.0,544.8 1419.3,546.6 1419.7,548.2 1420.0,564.3 1420.3,549.2 1420.7,544.4 1421.0,551.0 1421.3,540.2 1421.7,552.0 1422.0,550.7 1422.3,547.1 1422.7,556.4 1423.0,545.4 1423.3,542.1 1423.7,552.3 1424.0,537.1 1424.3,548.0 1424.7,558.1 1425.0,528.1 1425.3,561.8 1425.7,538.6 1426.0,531.4 1426.3,533.2 1426.7,540.9 1427.0,546.1 1427.3,538.4 1427.7,550.0 1428.0,559.7 1428.3,550.4 1428.7,556.2 1429.0,564.7 1429.3,571.8 1429.7,558.7 1430.0,561.2 1430.3,557.9 1430.7,557.4 1431.0,552.3 1431.3,558.9 1431.7,556.6 1432.0,549.8 1432.3,558.5 1432.7,554.5 1433.0,558.5 1433.3,553.3 1433.7,559.5 1434.0,561.4 1434.3,545.6 1434.7,562.7 1435.0,556.2 1435.3,554.4 1435.7,564.0 1436.0,554.7 1436.3,545.7 1436.7,566.0 1437.0,563.1 1437.3,558.1 1437.7,546.6 1438.0,565.1 1438.3,558.4 1438.7,563.4 1439.0,550.0 1439.3,546.0 1439.7,542.3 1440.0,546.5 1440.3,557.0 1440.7,552.8 1441.0,545.1 1441.3,562.0 1441.7,559.0 1442.0,560.6 1442.3,557.2 1442.7,558.3 1443.0,560.7 1443.3,559.4 1443.7,561.4 1444.0,563.0 1444.3,563.5 1444.7,550.2 1445.0,544.8 1445.3,555.9 1445.7,560.0 1446.0,558.5 1446.3,548.5 1446.7,553.4 1447.0,549.1 1447.3,555.1 1447.7,555.4 1448.0,556.1 1448.3,559.2 1448.7,557.2 1449.0,555.5 1449.3,562.9 1449.7,569.9 1450.0,559.8 1450.3,563.8 1450.7,563.0 1451.0,571.9 1451.3,572.2 1451.7,554.9 1452.0,567.5 1452.3,561.9 1452.7,569.2 1453.0,544.7 1453.3,556.5 1453.7,550.6 1454.0,570.9 1454.3,562.7 1454.7,565.3 1455.0,559.5 1455.3,557.2 1455.7,556.0 1456.0,552.1 1456.3,540.1 1456.7,566.5 1457.0,566.5 1457.3,561.1 1457.7,563.7 1458.0,574.3 1458.3,561.3 1458.7,567.2 1459.0,567.0 1459.3,566.9 1459.7,547.4 1460.0,553.0 1460.3,555.1 1460.7,566.9 1461.0,567.6 1461.3,574.1 1461.7,564.4 1462.0,558.7 1462.3,558.0 1462.7,568.5 1463.0,559.9 1463.3,556.0 1463.7,559.0 1464.0,559.9 1464.3,560.7 1464.7,555.4 1465.0,567.4 1465.3,580.1 1465.7,551.4 1466.0,560.9 1466.3,553.0 1466.7,562.5 1467.0,550.1 1467.3,556.6 1467.7,558.5 1468.0,560.0 1468.3,551.2 1468.7,552.3 1469.0,574.2 1469.3,572.4 1469.7,570.7 1470.0,569.4 1470.3,577.8 1470.7,561.9 1471.0,571.3 1471.3,563.2 1471.7,571.3 1472.0,552.0 1472.3,562.0 1472.7,568.3 1473.0,561.4 1473.3,558.4 1473.7,564.1 1474.0,572.7 1474.3,563.1 1474.7,570.4 1475.0,565.9 1475.3,560.2 1475.7,564.3 1476.0,557.6 1476.3,563.9 1476.7,565.7 1477.0,568.7 1477.3,565.6 1477.7,575.3 1478.0,569.9 1478.3,567.1 1478.7,562.4 1479.0,568.2 1479.3,571.1 1479.7,562.1 1480.0,557.0 1480.3,559.2 1480.7,574.3 1481.0,574.5 1481.3,570.3 1481.7,556.7 1482.0,561.9 1482.3,556.2 1482.7,560.9 1483.0,565.0 1483.3,557.3 1483.7,573.8 1484.0,554.2 1484.3,559.3 1484.7,555.3 1485.0,558.2 1485.3,564.1 1485.7,559.9 1486.0,553.4 1486.3,564.2 1486.7,568.8 1487.0,561.5 1487.3,574.1 1487.7,542.1 1488.0,557.2 1488.3,558.2 1488.7,573.4 1489.0,570.2 1489.3,566.2 1489.7,552.9 1490.0,550.8 1490.3,556.0 1490.7,575.7 1491.0,576.1 1491.3,561.7 1491.7,550.4 1492.0,544.9 1492.3,554.9 1492.7,562.0 1493.0,559.6 1493.3,564.1 1493.7,556.6 1494.0,557.8 1494.3,554.1 1494.7,563.1 1495.0,558.2 1495.3,562.9 1495.7,560.7 1496.0,559.9 1496.3,568.4 1496.7,549.8 1497.0,559.3 1497.3,554.1 1497.7,556.6 1498.0,560.5 1498.3,557.4 1498.7,553.3 1499.0,552.0 1499.3,549.9 1499.7,553.6 1500.0,558.6 1500.3,555.9 1500.7,546.8 1501.0,553.6 1501.3,559.8 1501.7,543.8 1502.0,548.6 1502.3,561.9 1502.7,554.6 1503.0,566.6 1503.3,559.9 1503.7,550.6 1504.0,558.2 1504.3,555.3 1504.7,561.6 1505.0,553.6 1505.3,557.6 1505.7,573.2 1506.0,559.2 1506.3,570.4 1506.7,551.9 1507.0,562.5 1507.3,565.7 1507.7,569.7 1508.0,564.7 1508.3,560.5 1508.7,565.7 1509.0,552.6 1509.3,540.1 1509.7,549.3 1510.0,591.7 1510.3,565.6 1510.7,572.5 1511.0,562.3 1511.3,551.3 1511.7,553.1 1512.0,566.7 1512.3,557.2 1512.7,554.3 1513.0,552.8 1513.3,557.4 1513.7,548.5 1514.0,572.9 1514.3,559.2 1514.7,575.1 1515.0,574.6 1515.3,562.9 1515.7,568.1 1516.0,567.8 1516.3,561.9 1516.7,562.5 1517.0,572.3 1517.3,565.3 1517.7,560.1 1518.0,556.4 1518.3,555.5 1518.7,561.4 1519.0,559.1 1519.3,551.9 1519.7,555.9 1520.0,559.3 1520.3,556.2 1520.7,564.9 1521.0,559.9 1521.3,565.0 1521.7,569.4 1522.0,568.5 1522.3,569.1 1522.7,580.9 1523.0,566.3 1523.3,570.2 1523.7,568.7 1524.0,563.7 1524.3,569.3 1524.7,573.1 1525.0,562.6 1525.3,565.7 1525.7,578.7 1526.0,557.8 1526.3,564.9 1526.7,566.2 1527.0,559.1 1527.3,553.6 1527.7,556.2 1528.0,553.7 1528.3,552.8 1528.7,560.4 1529.0,571.9 1529.3,561.1 1529.7,551.6 1530.0,560.5 1530.3,532.2 1530.7,549.8 1531.0,552.9 1531.3,557.7 1531.7,563.5 1532.0,568.6 1532.3,556.7 1532.7,564.7 1533.0,553.3 1533.3,554.3 1533.7,561.1 1534.0,561.6 1534.3,569.9 1534.7,560.5 1535.0,566.0 1535.3,561.3 1535.7,568.3 1536.0,550.3 1536.3,553.1 1536.7,579.8 1537.0,569.0 1537.3,567.4 1537.7,558.6 1538.0,563.2 1538.3,551.7 1538.7,547.3 1539.0,552.7 1539.3,553.4 1539.7,554.1 1540.0,557.4 1540.3,556.5 1540.7,560.7 1541.0,564.2 1541.3,567.0 1541.7,568.3 1542.0,552.4 1542.3,563.2 1542.7,564.4 1543.0,559.0 1543.3,549.5 1543.7,535.5 1544.0,552.2 1544.3,553.6 1544.7,565.2 1545.0,549.3 1545.3,561.9 1545.7,559.1 1546.0,552.1 1546.3,560.2 1546.7,558.9 1547.0,545.0 1547.3,564.5 1547.7,566.5 1548.0,563.4 1548.3,557.1 1548.7,560.5 1549.0,561.8 1549.3,564.2 1549.7,550.4 1550.0,547.0 1550.3,563.9 1550.7,563.0 1551.0,578.0 1551.3,561.4 1551.7,570.0 1552.0,567.0 1552.3,568.0 1552.7,564.8 1553.0,574.1 1553.3,572.1 1553.7,564.1 1554.0,559.1 1554.3,556.4 1554.7,557.9 1555.0,559.4 1555.3,558.3 1555.7,557.8 1556.0,563.0 1556.3,552.2 1556.7,563.7 1557.0,560.8 1557.3,539.8 1557.7,552.4 1558.0,560.1 1558.3,545.4 1558.7,561.6 1559.0,566.2 1559.3,562.2 1559.7,569.3 1560.0,565.0 1560.3,566.6 1560.7,570.3 1561.0,564.5 1561.3,563.0 1561.7,551.1 1562.0,550.5 1562.3,565.9 1562.7,570.4 1563.0,555.6 1563.3,555.9 1563.7,555.1 1564.0,576.2 1564.3,572.0 1564.7,583.1 1565.0,566.9 1565.3,583.4 1565.7,575.8 1566.0,568.8 1566.3,566.9 1566.7,576.3 1567.0,559.1 1567.3,574.1 1567.7,569.5 1568.0,573.8 1568.3,559.2 1568.7,555.6 1569.0,568.3 1569.3,541.2 1569.7,562.0 1570.0,563.9 1570.3,561.4 1570.7,568.8 1571.0,558.8 1571.3,566.8 1571.7,563.9 1572.0,541.2 1572.3,559.5 1572.7,549.6 1573.0,572.6 1573.3,566.0 1573.7,563.5 1574.0,556.1 1574.3,562.6 1574.7,570.0 1575.0,564.4 1575.3,574.5 1575.7,567.7 1576.0,557.2 1576.3,565.6 1576.7,572.5 1577.0,560.3 1577.3,569.0 1577.7,573.1 1578.0,563.3 1578.3,557.5 1578.7,567.7 1579.0,565.2 1579.3,569.4 1579.7,575.8 1580.0,566.6 1580.3,562.5 1580.7,565.0 1581.0,575.7 1581.3,572.6 1581.7,556.0 1582.0,572.0 1582.3,561.1 1582.7,563.5 1583.0,582.9 1583.3,580.2 1583.7,567.2 1584.0,567.9 1584.3,574.8 1584.7,573.7 1585.0,572.0 1585.3,565.9 1585.7,571.6 1586.0,568.0 1586.3,556.2 1586.7,549.2 1587.0,559.0 1587.3,572.1 1587.7,570.3 1588.0,567.9 1588.3,572.5 1588.7,561.0 1589.0,607.0 1589.3,574.1 1589.7,565.6 1590.0,580.9 1590.3,570.8 1590.7,571.3 1591.0,582.8 1591.3,579.7 1591.7,574.8 1592.0,571.6 1592.3,572.0 1592.7,569.1 1593.0,564.3 1593.3,577.4 1593.7,560.2 1594.0,569.6 1594.3,567.5 1594.7,569.0 1595.0,565.5 1595.3,559.7 1595.7,561.9 1596.0,562.0 1596.3,576.8 1596.7,563.7 1597.0,575.0 1597.3,563.6 1597.7,567.7 1598.0,562.7 1598.3,571.3 1598.7,576.2 1599.0,573.9 1599.3,562.9 1599.7,572.8 1600.0,574.8 1600.3,583.5 1600.7,568.6 1601.0,570.0 1601.3,566.5 1601.7,567.9 1602.0,572.1 1602.3,562.8 1602.7,578.0 1603.0,573.7 1603.3,568.1 1603.7,567.8 1604.0,579.6 1604.3,557.8 1604.7,556.7 1605.0,574.9 1605.3,554.2 1605.7,568.4 1606.0,563.8 1606.3,557.5 1606.7,561.2 1607.0,567.6 1607.3,567.5 1607.7,571.5 1608.0,570.1 1608.3,564.9 1608.7,566.9 1609.0,568.6 1609.3,558.6 1609.7,557.6 1610.0,572.9 1610.3,552.4 1610.7,567.9 1611.0,572.8 1611.3,560.7 1611.7,549.1 1612.0,558.6 1612.3,566.4 1612.7,561.1 1613.0,570.1 1613.3,570.2 1613.7,556.3 1614.0,569.3 1614.3,552.1 1614.7,554.9 1615.0,559.7 1615.3,567.3 1615.7,567.3 1616.0,570.9 1616.3,550.4 1616.7,584.3 1617.0,568.3 1617.3,566.7 1617.7,577.6 1618.0,567.9 1618.3,569.6 1618.7,553.0 1619.0,550.2 1619.3,555.2 1619.7,556.0 1620.0,561.6 1620.3,555.6 1620.7,553.4 1621.0,558.7 1621.3,547.4 1621.7,548.8 1622.0,551.9 1622.3,545.0 1622.7,551.9 1623.0,553.3 1623.3,560.4 1623.7,560.7 1624.0,554.9 1624.3,553.0 1624.7,540.4 1625.0,545.0 1625.3,544.8 1625.7,544.8 1626.0,548.5 1626.3,548.3 1626.7,550.3 1627.0,559.1 1627.3,550.2 1627.7,541.5 1628.0,556.1 1628.3,545.4 1628.7,559.5 1629.0,573.8 1629.3,566.2 1629.7,571.1 1630.0,555.1 1630.3,566.8 1630.7,567.6 1631.0,562.0 1631.3,555.1 1631.7,561.9 1632.0,547.5 1632.3,569.2 1632.7,576.0 1633.0,567.7 1633.3,538.9 1633.7,556.1 1634.0,552.6 1634.3,558.5 1634.7,556.8 1635.0,565.9 1635.3,565.1 1635.7,553.5 1636.0,561.6 1636.3,553.0 1636.7,562.2 1637.0,536.6 1637.3,547.3 1637.7,541.1 1638.0,544.6 1638.3,539.0 1638.7,542.6 1639.0,551.5 1639.3,550.7 1639.7,545.0 1640.0,548.1 1640.3,550.9 1640.7,529.9 1641.0,543.8 1641.3,547.7 1641.7,558.9 1642.0,541.4 1642.3,550.1 1642.7,561.8 1643.0,548.8 1643.3,561.6 1643.7,539.7 1644.0,565.7 1644.3,560.6 1644.7,556.3 1645.0,555.1 1645.3,549.8 1645.7,551.6 1646.0,546.9 1646.3,546.2 1646.7,559.3 1647.0,561.5 1647.3,555.3 1647.7,554.0 1648.0,552.9 1648.3,555.7 1648.7,552.4 1649.0,571.6 1649.3,556.3 1649.7,557.3 1650.0,555.8 1650.3,566.6 1650.7,573.1 1651.0,565.6 1651.3,556.5 1651.7,552.4 1652.0,551.8 1652.3,546.7 1652.7,559.7 1653.0,567.4 1653.3,561.9 1653.7,560.9 1654.0,557.5 1654.3,568.9 1654.7,553.5 1655.0,554.3 1655.3,573.6 1655.7,555.7 1656.0,554.6 1656.3,553.3 1656.7,574.2 1657.0,571.8 1657.3,563.4 1657.7,554.4 1658.0,571.3 1658.3,568.3 1658.7,574.4 1659.0,575.2 1659.3,567.6 1659.7,568.7 1660.0,572.9 1660.3,578.6 1660.7,563.8 1661.0,567.4 1661.3,548.9 1661.7,552.8 1662.0,560.2 1662.3,550.8 1662.7,553.3 1663.0,566.0 1663.3,560.5 1663.7,548.2 1664.0,553.8 1664.3,555.1 1664.7,550.1 1665.0,571.6 1665.3,558.4 1665.7,557.3 1666.0,566.1 1666.3,562.9 1666.7,556.0 1667.0,561.7 1667.3,564.3 1667.7,560.7 1668.0,564.3 1668.3,565.5 1668.7,557.5 1669.0,561.4 1669.3,563.1" fill="none" stroke="#009e73" stroke-width="2.6" stroke-linejoin="round"/>
<rect x="281.9" y="58.0" width="1561.1" height="947.0" stroke="#000" stroke-width="5.3" fill="none"/>
<g>
<path d="M325.3 305.2L320.2 308.6L314.8 305.8L314.4 299.7L319.5 296.4L325.0 299.1ZM325.3 305.2L329.1 307.1" fill="none" stroke="#6fbf6a" stroke-width="1.5" stroke-linejoin="round" opacity="0.85"/>
<path d="M342.2 289.9L339.4 286.4L341.1 282.2L345.5 281.6L348.3 285.1L346.6 289.3ZM346.6 289.3L348.5 291.7" fill="none" stroke="#6fbf6a" stroke-width="1.5" stroke-linejoin="round" opacity="0.85"/>
<path d="M332.8 305.6L327.6 309.2L321.9 306.6L321.3 300.3L326.5 296.6L332.2 299.3ZM327.6 309.2L328.0 313.6" fill="none" stroke="#6f9e4f" stroke-width="1.5" stroke-linejoin="round" opacity="0.85"/>
<path d="M338.8 314.9L334.2 311.2L335.1 305.5L340.5 303.4L345.0 307.1L344.2 312.8ZM345.0 307.1L348.8 305.6" fill="none" stroke="#6f9e4f" stroke-width="1.5" stroke-linejoin="round" opacity="0.85"/>
<path d="M348.1 296.3L342.1 295.9L339.5 290.6L342.8 285.7L348.7 286.0L351.4 291.3ZM339.5 290.6L335.4 290.3" fill="none" stroke="#6f9e4f" stroke-width="1.5" stroke-linejoin="round" opacity="0.85"/>
<path d="M387.9 384.1L382.4 388.2L376.2 385.5L375.4 378.7L380.8 374.7L387.1 377.3ZM387.1 377.3L390.9 374.5" fill="none" stroke="#6f9e4f" stroke-width="1.5" stroke-linejoin="round" opacity="0.85"/>
<path d="M377.0 388.0L372.9 386.7L371.9 382.5L375.1 379.6L379.2 380.9L380.1 385.1ZM380.1 385.1L383.0 386.0" fill="none" stroke="#6f9e4f" stroke-width="1.5" stroke-linejoin="round" opacity="0.85"/>
<path d="M365.3 409.3L360.9 411.0L357.2 408.1L358.0 403.4L362.4 401.7L366.0 404.7ZM366.0 404.7L369.1 403.5" fill="none" stroke="#4a6fa0" stroke-width="1.5" stroke-linejoin="round" opacity="0.85"/>
<path d="M351.5 381.0L352.7 375.9L357.7 374.4L361.5 377.9L360.3 383.0L355.3 384.5ZM357.7 374.4L358.5 370.8" fill="none" stroke="#6fbf6a" stroke-width="1.5" stroke-linejoin="round" opacity="0.85"/>
<path d="M382.3 387.4L384.3 383.8L388.4 383.8L390.4 387.3L388.5 390.8L384.4 390.9ZM382.3 387.4L379.5 387.4" fill="none" stroke="#3f8a7a" stroke-width="1.5" stroke-linejoin="round" opacity="0.85"/>
<path d="M372.0 409.3L372.1 405.2L375.9 403.2L379.4 405.4L379.2 409.6L375.5 411.6ZM372.0 409.3L369.4 410.7" fill="none" stroke="#4a6fa0" stroke-width="1.5" stroke-linejoin="round" opacity="0.85"/>
<path d="M529.3 357.3L524.9 359.8L520.5 357.2L520.6 352.1L525.1 349.6L529.4 352.2ZM529.3 357.3L532.4 359.2" fill="none" stroke="#3f8a7a" stroke-width="1.5" stroke-linejoin="round" opacity="0.85"/>
<path d="M473.2 401.2L471.6 395.9L475.4 391.7L480.9 393.0L482.6 398.4L478.7 402.5ZM473.2 401.2L470.6 404.1" fill="none" stroke="#4a6fa0" stroke-width="1.5" stroke-linejoin="round" opacity="0.85"/>
<path d="M497.7 335.5L494.2 340.5L488.1 340.0L485.6 334.4L489.0 329.4L495.1 330.0ZM495.1 330.0L497.6 326.5" fill="none" stroke="#6f9e4f" stroke-width="1.5" stroke-linejoin="round" opacity="0.85"/>
<path d="M546.1 348.7L541.8 349.2L539.1 345.8L540.8 341.8L545.1 341.2L547.7 344.7ZM546.1 348.7L547.9 351.1" fill="none" stroke="#6fbf6a" stroke-width="1.5" stroke-linejoin="round" opacity="0.85"/>
<path d="M540.6 375.3L533.7 375.7L529.8 369.9L533.0 363.6L539.9 363.2L543.8 369.1ZM533.7 375.7L531.5 380.1" fill="none" stroke="#6f9e4f" stroke-width="1.5" stroke-linejoin="round" opacity="0.85"/>
<path d="M498.4 415.4L491.5 413.1L490.0 406.0L495.5 401.1L502.4 403.4L503.9 410.6ZM490.0 406.0L485.2 404.3" fill="none" stroke="#4a6fa0" stroke-width="1.5" stroke-linejoin="round" opacity="0.85"/>
<path d="M502.9 393.7L498.9 392.8L497.7 388.8L500.5 385.8L504.5 386.7L505.8 390.6ZM502.9 393.7L503.8 396.4" fill="none" stroke="#4fa04f" stroke-width="1.5" stroke-linejoin="round" opacity="0.85"/>
<path d="M492.6 403.4L489.2 397.7L492.4 392.0L499.0 391.9L502.4 397.5L499.2 403.3ZM499.0 391.9L501.3 387.8" fill="none" stroke="#3f8a7a" stroke-width="1.5" stroke-linejoin="round" opacity="0.85"/>
<path d="M531.0 399.2L526.7 393.4L529.5 386.7L536.6 385.8L541.0 391.6L538.2 398.2ZM531.0 399.2L529.1 403.8" fill="none" stroke="#4a6fa0" stroke-width="1.5" stroke-linejoin="round" opacity="0.85"/>
<path d="M482.3 370.1L480.7 363.5L485.7 358.9L492.1 360.8L493.7 367.4L488.8 372.0ZM488.8 372.0L489.9 376.6" fill="none" stroke="#6fbf6a" stroke-width="1.5" stroke-linejoin="round" opacity="0.85"/>
<path d="M482.1 360.8L478.3 363.3L474.2 361.3L473.9 356.8L477.7 354.2L481.8 356.2ZM481.8 356.2L484.4 354.4" fill="none" stroke="#4a6fa0" stroke-width="1.5" stroke-linejoin="round" opacity="0.85"/>
<path d="M642.6 338.8L640.2 335.4L641.9 331.6L646.1 331.2L648.6 334.6L646.8 338.4ZM646.8 338.4L648.5 340.8" fill="none" stroke="#6fbf6a" stroke-width="1.5" stroke-linejoin="round" opacity="0.85"/>
<path d="M641.9 347.7L637.8 349.1L634.6 346.2L635.5 342.0L639.6 340.7L642.8 343.5ZM635.5 342.0L633.3 340.0" fill="none" stroke="#3f8a7a" stroke-width="1.5" stroke-linejoin="round" opacity="0.85"/>
<path d="M633.7 323.1L627.8 323.3L624.6 318.2L627.5 313.0L633.4 312.8L636.5 317.9ZM627.5 313.0L625.3 309.5" fill="none" stroke="#3f8a7a" stroke-width="1.5" stroke-linejoin="round" opacity="0.85"/>
<path d="M672.6 338.9L668.2 338.0L666.7 333.8L669.7 330.4L674.0 331.3L675.5 335.5ZM668.2 338.0L666.1 340.4" fill="none" stroke="#3f8a7a" stroke-width="1.5" stroke-linejoin="round" opacity="0.85"/>
<path d="M684.9 318.6L686.6 314.6L690.9 314.1L693.4 317.6L691.7 321.6L687.4 322.0ZM693.4 317.6L696.4 317.3" fill="none" stroke="#6f9e4f" stroke-width="1.5" stroke-linejoin="round" opacity="0.85"/>
<path d="M686.5 362.6L684.6 358.8L686.9 355.2L691.1 355.5L693.0 359.2L690.7 362.8ZM693.0 359.2L696.0 359.4" fill="none" stroke="#6fbf6a" stroke-width="1.5" stroke-linejoin="round" opacity="0.85"/>
<path d="M635.0 345.8L633.5 341.9L636.2 338.6L640.3 339.3L641.8 343.2L639.1 346.5ZM641.8 343.2L644.6 343.7" fill="none" stroke="#3f8a7a" stroke-width="1.5" stroke-linejoin="round" opacity="0.85"/>
<path d="M685.4 366.7L680.6 368.0L677.1 364.5L678.4 359.7L683.2 358.5L686.7 361.9ZM683.2 358.5L684.1 355.1" fill="none" stroke="#4fa04f" stroke-width="1.5" stroke-linejoin="round" opacity="0.85"/>
<path d="M635.4 342.8L631.6 338.4L633.5 333.0L639.1 331.9L642.9 336.2L641.0 341.7ZM631.6 338.4L627.7 339.2" fill="none" stroke="#4a6fa0" stroke-width="1.5" stroke-linejoin="round" opacity="0.85"/>
<path d="M731.9 405.6L730.0 399.8L734.2 395.2L740.2 396.5L742.1 402.4L738.0 407.0ZM734.2 395.2L732.9 391.1" fill="none" stroke="#3f8a7a" stroke-width="1.5" stroke-linejoin="round" opacity="0.85"/>
<path d="M722.3 443.2L719.7 438.4L722.5 433.7L728.0 433.9L730.6 438.6L727.8 443.3ZM728.0 433.9L730.0 430.6" fill="none" stroke="#6fbf6a" stroke-width="1.5" stroke-linejoin="round" opacity="0.85"/>
<path d="M737.0 408.6L729.6 408.8L725.7 402.5L729.3 395.9L736.7 395.7L740.6 402.1ZM737.0 408.6L739.7 413.0" fill="none" stroke="#4fa04f" stroke-width="1.5" stroke-linejoin="round" opacity="0.85"/>
<path d="M730.7 389.8L730.0 385.3L733.5 382.4L737.8 384.1L738.5 388.6L734.9 391.4ZM738.5 388.6L741.4 389.7" fill="none" stroke="#4a6fa0" stroke-width="1.5" stroke-linejoin="round" opacity="0.85"/>
<path d="M734.4 451.4L730.7 445.9L733.6 439.9L740.2 439.5L743.9 445.0L741.0 450.9ZM730.7 445.9L726.0 446.2" fill="none" stroke="#4fa04f" stroke-width="1.5" stroke-linejoin="round" opacity="0.85"/>
<path d="M811.1 412.5L811.9 407.2L816.8 405.2L821.0 408.5L820.3 413.8L815.4 415.8ZM811.1 412.5L807.7 413.9" fill="none" stroke="#4fa04f" stroke-width="1.5" stroke-linejoin="round" opacity="0.85"/>
<path d="M856.3 416.0L850.7 413.9L849.7 408.0L854.4 404.2L859.9 406.3L860.9 412.2ZM859.9 406.3L863.2 403.7" fill="none" stroke="#4fa04f" stroke-width="1.5" stroke-linejoin="round" opacity="0.85"/>
<path d="M837.8 361.6L835.5 356.2L839.0 351.4L844.9 352.1L847.3 357.6L843.7 362.4ZM847.3 357.6L851.4 358.1" fill="none" stroke="#6f9e4f" stroke-width="1.5" stroke-linejoin="round" opacity="0.85"/>
<path d="M861.4 393.4L862.3 386.4L868.9 383.7L874.5 388.0L873.6 395.0L867.0 397.7ZM861.4 393.4L856.8 395.3" fill="none" stroke="#4a6fa0" stroke-width="1.5" stroke-linejoin="round" opacity="0.85"/>
<path d="M821.0 365.1L815.1 363.3L813.7 357.3L818.2 353.1L824.1 354.9L825.5 360.9ZM813.7 357.3L809.6 356.0" fill="none" stroke="#4fa04f" stroke-width="1.5" stroke-linejoin="round" opacity="0.85"/>
<path d="M872.9 368.9L867.8 365.3L868.4 359.2L874.0 356.6L879.0 360.2L878.5 366.3ZM868.4 359.2L864.9 356.7" fill="none" stroke="#4fa04f" stroke-width="1.5" stroke-linejoin="round" opacity="0.85"/>
<path d="M838.9 365.4L833.9 368.3L828.9 365.3L829.0 359.5L834.0 356.7L839.0 359.6ZM839.0 359.6L842.5 357.7" fill="none" stroke="#3f8a7a" stroke-width="1.5" stroke-linejoin="round" opacity="0.85"/>
<path d="M784.8 358.0L781.4 362.5L775.8 361.7L773.7 356.5L777.2 352.1L782.7 352.8ZM782.7 352.8L785.2 349.8" fill="none" stroke="#4fa04f" stroke-width="1.5" stroke-linejoin="round" opacity="0.85"/>
<path d="M892.5 396.5L888.4 398.2L884.9 395.5L885.5 391.1L889.5 389.4L893.1 392.1ZM884.9 395.5L882.1 396.7" fill="none" stroke="#6fbf6a" stroke-width="1.5" stroke-linejoin="round" opacity="0.85"/>
<path d="M853.4 396.3L853.9 391.3L858.5 389.3L862.6 392.2L862.0 397.2L857.5 399.2ZM853.9 391.3L851.1 389.2" fill="none" stroke="#3f8a7a" stroke-width="1.5" stroke-linejoin="round" opacity="0.85"/>
<path d="M858.4 386.5L860.7 381.6L866.1 381.1L869.2 385.5L866.9 390.4L861.6 390.9ZM866.9 390.4L869.1 393.5" fill="none" stroke="#4a6fa0" stroke-width="1.5" stroke-linejoin="round" opacity="0.85"/>
<path d="M792.1 365.6L788.5 369.4L783.3 368.3L781.8 363.2L785.4 359.4L790.5 360.5ZM781.8 363.2L778.2 362.4" fill="none" stroke="#6f9e4f" stroke-width="1.5" stroke-linejoin="round" opacity="0.85"/>
<path d="M782.2 374.2L778.7 370.1L780.5 365.0L785.8 364.1L789.3 368.2L787.4 373.2ZM789.3 368.2L792.9 367.5" fill="none" stroke="#6fbf6a" stroke-width="1.5" stroke-linejoin="round" opacity="0.85"/>
<path d="M936.1 383.2L937.5 377.8L942.9 376.3L946.8 380.2L945.4 385.6L940.0 387.1ZM940.0 387.1L939.1 390.9" fill="none" stroke="#6f9e4f" stroke-width="1.5" stroke-linejoin="round" opacity="0.85"/>
<path d="M953.2 418.9L951.2 411.9L956.3 406.7L963.3 408.5L965.3 415.5L960.2 420.7ZM956.3 406.7L954.9 401.9" fill="none" stroke="#3f8a7a" stroke-width="1.5" stroke-linejoin="round" opacity="0.85"/>
<path d="M955.3 391.1L952.3 385.9L955.2 380.7L961.2 380.6L964.3 385.8L961.3 391.0ZM955.3 391.1L953.2 394.7" fill="none" stroke="#6f9e4f" stroke-width="1.5" stroke-linejoin="round" opacity="0.85"/>
<path d="M975.2 416.5L976.4 411.0L981.7 409.3L985.8 413.1L984.6 418.5L979.3 420.2ZM975.2 416.5L971.4 417.6" fill="none" stroke="#6fbf6a" stroke-width="1.5" stroke-linejoin="round" opacity="0.85"/>
<path d="M985.9 422.4L979.8 421.6L977.5 416.0L981.2 411.2L987.2 411.9L989.5 417.5ZM987.2 411.9L989.8 408.5" fill="none" stroke="#4fa04f" stroke-width="1.5" stroke-linejoin="round" opacity="0.85"/>
<path d="M997.3 419.3L994.5 413.5L998.2 408.1L1004.7 408.6L1007.5 414.5L1003.8 419.8ZM994.5 413.5L989.9 413.1" fill="none" stroke="#4fa04f" stroke-width="1.5" stroke-linejoin="round" opacity="0.85"/>
<path d="M1020.4 431.6L1013.9 428.1L1013.6 420.8L1019.8 416.8L1026.4 420.2L1026.7 427.6ZM1020.4 431.6L1020.6 436.7" fill="none" stroke="#6f9e4f" stroke-width="1.5" stroke-linejoin="round" opacity="0.85"/>
<path d="M1004.5 458.8L999.6 461.6L994.6 458.8L994.7 453.1L999.6 450.2L1004.5 453.1ZM999.6 461.6L999.5 465.6" fill="none" stroke="#4a6fa0" stroke-width="1.5" stroke-linejoin="round" opacity="0.85"/>
<path d="M1027.1 425.1L1022.8 424.3L1021.3 420.1L1024.2 416.7L1028.5 417.5L1030.0 421.7ZM1027.1 425.1L1028.2 428.1" fill="none" stroke="#6f9e4f" stroke-width="1.5" stroke-linejoin="round" opacity="0.85"/>
<path d="M1018.0 430.1L1020.3 423.4L1027.3 421.9L1032.0 427.3L1029.7 434.1L1022.7 435.5ZM1022.7 435.5L1021.1 440.2" fill="none" stroke="#4a6fa0" stroke-width="1.5" stroke-linejoin="round" opacity="0.85"/>
<path d="M1066.6 401.3L1060.9 400.1L1059.1 394.6L1063.0 390.2L1068.7 391.5L1070.5 397.0ZM1059.1 394.6L1055.1 393.7" fill="none" stroke="#4a6fa0" stroke-width="1.5" stroke-linejoin="round" opacity="0.85"/>
<path d="M1038.0 418.0L1033.6 416.0L1033.1 411.2L1037.0 408.3L1041.4 410.3L1041.9 415.1ZM1038.0 418.0L1038.4 421.4" fill="none" stroke="#4fa04f" stroke-width="1.5" stroke-linejoin="round" opacity="0.85"/>
<path d="M1066.4 396.1L1061.9 398.8L1057.3 396.2L1057.2 391.0L1061.8 388.3L1066.4 390.9ZM1057.2 391.0L1054.0 389.2" fill="none" stroke="#6fbf6a" stroke-width="1.5" stroke-linejoin="round" opacity="0.85"/>
<path d="M1167.5 386.5L1161.9 385.0L1160.4 379.3L1164.5 375.2L1170.2 376.7L1171.7 382.3ZM1171.7 382.3L1175.6 383.4" fill="none" stroke="#3f8a7a" stroke-width="1.5" stroke-linejoin="round" opacity="0.85"/>
<path d="M1238.9 353.6L1235.0 355.0L1231.9 352.3L1232.6 348.3L1236.5 346.9L1239.6 349.6ZM1232.6 348.3L1230.5 346.4" fill="none" stroke="#6f9e4f" stroke-width="1.5" stroke-linejoin="round" opacity="0.85"/>
<path d="M1170.0 361.8L1166.0 358.3L1167.1 353.1L1172.1 351.4L1176.1 355.0L1175.0 360.2ZM1167.1 353.1L1164.3 350.7" fill="none" stroke="#4fa04f" stroke-width="1.5" stroke-linejoin="round" opacity="0.85"/>
<path d="M1249.5 369.0L1247.2 373.1L1242.5 373.0L1240.2 369.0L1242.6 365.0L1247.2 365.0ZM1240.2 369.0L1237.0 369.0" fill="none" stroke="#3f8a7a" stroke-width="1.5" stroke-linejoin="round" opacity="0.85"/>
<path d="M1198.7 371.8L1194.6 368.3L1195.5 363.1L1200.5 361.2L1204.7 364.6L1203.8 369.9ZM1198.7 371.8L1198.1 375.5" fill="none" stroke="#6fbf6a" stroke-width="1.5" stroke-linejoin="round" opacity="0.85"/>
<path d="M1217.7 395.5L1213.8 389.2L1217.3 382.7L1224.6 382.5L1228.5 388.7L1225.1 395.2ZM1217.3 382.7L1214.6 378.4" fill="none" stroke="#6fbf6a" stroke-width="1.5" stroke-linejoin="round" opacity="0.85"/>
<path d="M1197.8 362.5L1200.2 355.8L1207.2 354.5L1211.8 359.9L1209.4 366.6L1202.4 367.9ZM1209.4 366.6L1212.6 370.4" fill="none" stroke="#6f9e4f" stroke-width="1.5" stroke-linejoin="round" opacity="0.85"/>
<path d="M1242.5 400.3L1238.5 402.1L1234.9 399.5L1235.3 395.1L1239.4 393.3L1243.0 395.9ZM1242.5 400.3L1245.1 402.1" fill="none" stroke="#4fa04f" stroke-width="1.5" stroke-linejoin="round" opacity="0.85"/>
<path d="M1198.0 389.5L1196.8 384.1L1200.8 380.4L1206.1 382.0L1207.4 387.4L1203.3 391.1ZM1206.1 382.0L1209.0 379.3" fill="none" stroke="#6fbf6a" stroke-width="1.5" stroke-linejoin="round" opacity="0.85"/>
<path d="M1168.7 388.5L1167.2 384.5L1169.9 381.4L1174.0 382.1L1175.5 386.0L1172.8 389.2ZM1167.2 384.5L1164.4 384.0" fill="none" stroke="#3f8a7a" stroke-width="1.5" stroke-linejoin="round" opacity="0.85"/>
<path d="M1325.6 331.1L1320.6 332.0L1317.4 328.2L1319.1 323.5L1324.0 322.5L1327.3 326.4ZM1324.0 322.5L1325.2 319.2" fill="none" stroke="#3f8a7a" stroke-width="1.5" stroke-linejoin="round" opacity="0.85"/>
<path d="M1300.0 320.1L1296.8 322.6L1293.0 321.1L1292.5 317.1L1295.7 314.6L1299.5 316.1ZM1295.7 314.6L1295.3 311.7" fill="none" stroke="#3f8a7a" stroke-width="1.5" stroke-linejoin="round" opacity="0.85"/>
<path d="M1336.8 320.9L1331.8 321.3L1328.9 317.1L1331.1 312.5L1336.1 312.1L1339.0 316.3ZM1331.1 312.5L1329.1 309.6" fill="none" stroke="#3f8a7a" stroke-width="1.5" stroke-linejoin="round" opacity="0.85"/>
<path d="M1314.3 314.2L1309.2 316.0L1305.1 312.5L1306.1 307.3L1311.1 305.5L1315.2 308.9ZM1314.3 314.2L1317.1 316.6" fill="none" stroke="#6fbf6a" stroke-width="1.5" stroke-linejoin="round" opacity="0.85"/>
<path d="M1326.8 322.2L1327.5 317.3L1332.1 315.6L1336.0 318.7L1335.2 323.6L1330.6 325.3ZM1335.2 323.6L1337.9 325.7" fill="none" stroke="#3f8a7a" stroke-width="1.5" stroke-linejoin="round" opacity="0.85"/>
<path d="M1345.5 269.3L1341.3 264.2L1343.6 258.2L1350.0 257.1L1354.2 262.1L1351.9 268.2ZM1354.2 262.1L1358.7 261.3" fill="none" stroke="#4a6fa0" stroke-width="1.5" stroke-linejoin="round" opacity="0.85"/>
<path d="M1334.4 258.5L1335.7 251.9L1342.0 249.8L1347.0 254.2L1345.7 260.7L1339.4 262.8ZM1345.7 260.7L1349.2 263.8" fill="none" stroke="#4fa04f" stroke-width="1.5" stroke-linejoin="round" opacity="0.85"/>
<path d="M1374.2 268.4L1372.3 264.3L1374.9 260.7L1379.4 261.1L1381.2 265.1L1378.7 268.8ZM1378.7 268.8L1380.0 271.6" fill="none" stroke="#6f9e4f" stroke-width="1.5" stroke-linejoin="round" opacity="0.85"/>
<path d="M332.8 289.3L354.5 308.6M325.7 295.2L347.9 310.3M343.6 303.5l-5.3 6.7M354.1 311.7l4.3 -5.5M337.8 298.9l4.3 -5.5M350.1 308.6l-4.5 5.7M341.9 302.2l5.8 -7.4M331.4 294.0l5.0 -6.4" stroke="#4fa04f" stroke-width="1.6" fill="none" stroke-linecap="round" opacity="0.9"/>
<path d="M323.8 288.0L355.9 313.1" stroke="#2b4a86" stroke-width="4.8" stroke-linecap="round"/>
<path d="M378.2 319.5L409.8 333.1M376.8 328.6L402.1 336.0M393.3 329.9l-2.8 7.7M397.3 331.4l2.3 -6.2M392.3 329.5l-3.3 8.9M390.3 328.8l-2.2 5.9M380.3 325.1l2.3 -6.2M409.7 336.0l3.4 -9.3M376.1 323.6l3.1 -8.3M395.4 330.7l3.0 -8.1M389.6 328.6l2.1 -5.8" stroke="#4fa04f" stroke-width="1.6" fill="none" stroke-linecap="round" opacity="0.9"/>
<path d="M362.9 318.7L389.4 328.5" stroke="#3fa34d" stroke-width="5.3999999999999995" stroke-linecap="round"/>
<path d="M389.4 328.5L416.0 338.3" stroke="#2b4a86" stroke-width="5.3999999999999995" stroke-linecap="round"/>
<path d="M379.7 377.2L374.4 407.8M370.3 380.3L368.7 409.7M374.1 387.0l9.9 1.1M371.7 407.7l5.8 0.7M374.5 383.7l-6.8 -0.8M374.6 382.1l-5.1 -0.6M371.6 408.8l-8.1 -0.9M373.4 393.2l9.0 1.0" stroke="#3f8a7a" stroke-width="1.6" fill="none" stroke-linecap="round" opacity="0.9"/>
<path d="M375.5 374.7L371.3 411.0" stroke="#2b4a86" stroke-width="5.3999999999999995" stroke-linecap="round"/>
<path d="M354.5 399.9L378.3 399.9" stroke="#4f7896" stroke-width="3.0" stroke-linecap="round"/>
<path d="M483.4 370.9L500.1 352.1M488.8 378.6L505.4 354.0M492.4 366.6l6.2 4.8M493.0 365.8l7.3 5.6M484.9 376.3l4.2 3.2M506.4 348.3l-6.8 -5.3M508.7 345.3l7.6 5.9M490.7 368.7l-6.7 -5.1M504.7 350.5l5.9 4.5" stroke="#3f8a7a" stroke-width="1.6" fill="none" stroke-linecap="round" opacity="0.9"/>
<path d="M481.8 380.3L495.8 362.1" stroke="#4f7896" stroke-width="4.2" stroke-linecap="round"/>
<path d="M495.8 362.1L509.8 343.9" stroke="#2b4a86" stroke-width="4.2" stroke-linecap="round"/>
<path d="M514.6 345.5L516.9 372.1M507.0 355.3L512.6 379.7M513.3 366.6l9.4 -1.4M512.0 358.4l7.2 -1.1M511.2 352.7l7.9 -1.2M513.9 370.2l5.1 -0.8M513.6 368.5l8.3 -1.3M515.3 379.5l8.9 -1.4" stroke="#3f8a7a" stroke-width="1.6" fill="none" stroke-linecap="round" opacity="0.9"/>
<path d="M509.8 343.9L512.6 362.1" stroke="#2b4a86" stroke-width="4.2" stroke-linecap="round"/>
<path d="M512.6 362.1L515.4 380.3" stroke="#2d7d78" stroke-width="4.2" stroke-linecap="round"/>
<path d="M540.7 359.0L556.6 375.2M534.7 365.7L552.0 378.3M549.7 372.7l5.6 -6.5M549.5 372.6l3.6 -4.1M535.3 360.2l6.4 -7.4M551.4 374.2l-3.6 4.2M544.8 368.5l-4.8 5.5M549.5 372.6l-6.2 7.1" stroke="#4fa04f" stroke-width="1.6" fill="none" stroke-linecap="round" opacity="0.9"/>
<path d="M529.4 355.1L544.7 368.4" stroke="#2b4a86" stroke-width="4.2" stroke-linecap="round"/>
<path d="M544.7 368.4L560.0 381.7" stroke="#3fa34d" stroke-width="4.2" stroke-linecap="round"/>
<path d="M519.0 386.2L519.8 405.2M510.1 387.8L515.4 413.6M515.0 390.5l-9.5 1.3M515.7 395.7l5.2 -0.7M517.8 410.7l-5.8 0.8M517.2 406.7l9.7 -1.3M517.3 406.9l9.8 -1.3" stroke="#4a6fa0" stroke-width="1.6" fill="none" stroke-linecap="round" opacity="0.9"/>
<path d="M514.0 383.0L518.2 413.8" stroke="#3fa34d" stroke-width="4.2" stroke-linecap="round"/>
<path d="M545.1 360.6L570.9 379.1M542.2 369.4L563.0 380.5M557.0 373.5l-2.7 4.3M550.4 369.3l4.7 -7.4M569.6 381.5l5.2 -8.2M560.7 375.9l4.3 -6.7M545.3 366.1l-4.7 7.4M548.7 368.2l3.9 -6.2" stroke="#4a6fa0" stroke-width="1.6" fill="none" stroke-linecap="round" opacity="0.9"/>
<path d="M540.0 362.7L555.4 372.5" stroke="#2b4a86" stroke-width="4.8" stroke-linecap="round"/>
<path d="M555.4 372.5L570.8 382.3" stroke="#3fa34d" stroke-width="4.8" stroke-linecap="round"/>
<path d="M634.5 348.3L645.2 332.1M643.7 350.3L648.4 337.7M641.7 344.5l5.9 3.2M646.1 336.1l6.4 3.4M645.1 338.0l-4.9 -2.6M639.8 347.9l5.4 2.9" stroke="#4fa04f" stroke-width="1.6" fill="none" stroke-linecap="round" opacity="0.9"/>
<path d="M637.9 351.5L649.1 330.6" stroke="#2b4a86" stroke-width="4.8" stroke-linecap="round"/>
<path d="M668.5 331.0L678.5 364.5M660.6 335.7L674.7 370.2M674.6 361.6l-5.5 1.9M666.2 338.0l-5.5 2.0M672.1 354.5l8.1 -2.9M667.9 342.6l-5.0 1.8M671.4 352.6l-7.9 2.8M666.0 337.5l-7.9 2.8M673.4 358.2l9.0 -3.2M666.5 338.8l-7.4 2.6" stroke="#4fa04f" stroke-width="1.6" fill="none" stroke-linecap="round" opacity="0.9"/>
<path d="M663.1 329.2L671.5 352.9" stroke="#2b4a86" stroke-width="4.8" stroke-linecap="round"/>
<path d="M671.5 352.9L679.9 376.7" stroke="#2d7d78" stroke-width="4.8" stroke-linecap="round"/>
<path d="M674.3 308.2L674.3 329.2" stroke="#2b4a86" stroke-width="3.0" stroke-linecap="round"/>
<path d="M738.0 395.2L727.3 433.0M728.1 398.1L723.4 426.2M727.0 422.4l5.5 1.3M728.6 415.7l-6.6 -1.6M733.1 396.6l-9.0 -2.1M727.5 420.6l6.3 1.5M730.5 407.7l-7.8 -1.8M726.2 425.8l9.4 2.2M732.1 401.0l5.5 1.3" stroke="#6fbf6a" stroke-width="1.6" fill="none" stroke-linecap="round" opacity="0.9"/>
<path d="M735.8 385.1L730.2 408.9" stroke="#2d7d78" stroke-width="4.8" stroke-linecap="round"/>
<path d="M730.2 408.9L724.6 432.7" stroke="#2b4a86" stroke-width="4.8" stroke-linecap="round"/>
<path d="M837.9 367.7L837.4 423.4M829.1 375.6L831.9 419.5M834.0 391.7l7.4 -0.2M834.0 395.4l-6.4 0.1M834.7 423.5l6.9 -0.2M834.7 425.0l6.1 -0.1M833.9 386.9l6.5 -0.1M834.8 430.4l-8.6 0.2M834.5 414.6l-9.3 0.2M833.9 390.4l-5.2 0.1M834.1 398.3l6.4 -0.1M834.7 423.2l-9.2 0.2M833.5 371.5l-5.8 0.1" stroke="#4a6fa0" stroke-width="1.6" fill="none" stroke-linecap="round" opacity="0.9"/>
<path d="M833.3 362.3L834.1 397.8" stroke="#2d7d78" stroke-width="4.8" stroke-linecap="round"/>
<path d="M834.1 397.8L834.9 433.3" stroke="#2e7d4a" stroke-width="4.8" stroke-linecap="round"/>
<path d="M825.2 367.1L844.5 360.7" stroke="#3f6aa8" stroke-width="3.5999999999999996" stroke-linecap="round"/>
<path d="M862.7 395.4L884.4 414.5M856.7 402.1L886.5 422.9M876.3 411.6l4.3 -5.5M883.6 417.2l5.3 -6.9M887.0 419.9l4.4 -5.7M866.2 403.8l5.4 -7.0M883.3 417.0l-4.4 5.7M886.0 419.1l-5.6 7.2M875.0 410.6l-4.2 5.4" stroke="#4a6fa0" stroke-width="1.6" fill="none" stroke-linecap="round" opacity="0.9"/>
<path d="M854.2 394.5L872.0 408.2" stroke="#2b4a86" stroke-width="4.8" stroke-linecap="round"/>
<path d="M872.0 408.2L889.7 422.0" stroke="#2d7d78" stroke-width="4.8" stroke-linecap="round"/>
<path d="M952.4 391.8L967.7 387.8M952.2 401.5L967.0 393.9M966.0 391.4l2.8 7.2M966.7 391.1l-2.0 -5.2M968.7 390.4l-2.8 -7.3M957.8 394.6l-2.5 -6.5" stroke="#4fa04f" stroke-width="1.6" fill="none" stroke-linecap="round" opacity="0.9"/>
<path d="M949.4 397.8L970.4 389.7" stroke="#1f3340" stroke-width="4.8" stroke-linecap="round"/>
<path d="M997.8 395.3L1034.6 439.9M990.0 400.0L1031.4 444.4M1008.5 414.2l5.9 -5.2M1026.5 434.7l4.1 -3.6M1015.9 422.7l-5.3 4.7M999.7 404.3l-4.1 3.6M1016.0 422.8l4.8 -4.2M1034.4 443.7l-4.8 4.2M1020.3 427.7l-5.4 4.8M1026.1 434.3l4.0 -3.5M1037.4 447.2l5.9 -5.2M998.3 402.6l4.8 -4.2M1024.2 432.1l7.2 -6.3M1027.1 435.4l4.6 -4.1M1030.2 439.0l5.7 -5.0" stroke="#6fbf6a" stroke-width="1.6" fill="none" stroke-linecap="round" opacity="0.9"/>
<path d="M989.8 393.0L1018.9 426.1" stroke="#3fa34d" stroke-width="4.8" stroke-linecap="round"/>
<path d="M1018.9 426.1L1047.9 459.1" stroke="#4f7896" stroke-width="4.8" stroke-linecap="round"/>
<path d="M1055.4 395.1L1065.7 415.8M1048.1 400.4L1059.6 416.1M1058.2 408.5l-5.2 3.1M1059.7 411.0l4.8 -2.9M1055.0 403.2l-6.9 4.1M1051.2 396.9l-6.2 3.7M1057.7 407.7l-8.4 5.0M1053.8 401.2l5.2 -3.1" stroke="#4a6fa0" stroke-width="1.6" fill="none" stroke-linecap="round" opacity="0.9"/>
<path d="M1047.9 391.3L1057.6 407.5" stroke="#2d7d78" stroke-width="4.2" stroke-linecap="round"/>
<path d="M1057.6 407.5L1067.2 423.6" stroke="#1f3340" stroke-width="4.2" stroke-linecap="round"/>
<path d="M1170.7 382.9L1187.7 358.6M1176.6 390.5L1193.3 360.0M1185.5 367.5l-7.2 -4.4M1178.2 379.3l5.3 3.3M1179.5 377.1l-6.0 -3.7M1179.2 377.7l6.8 4.2M1174.6 385.2l-7.2 -4.4M1186.4 366.1l5.8 3.5M1193.6 354.2l7.2 4.4" stroke="#4fa04f" stroke-width="1.6" fill="none" stroke-linecap="round" opacity="0.9"/>
<path d="M1169.5 393.5L1182.2 372.8" stroke="#3fa34d" stroke-width="4.2" stroke-linecap="round"/>
<path d="M1182.2 372.8L1195.0 352.0" stroke="#2b4a86" stroke-width="4.2" stroke-linecap="round"/>
<path d="M1209.5 387.0L1222.2 359.4M1215.6 395.9L1228.2 359.0M1211.9 393.1l-8.4 -3.3M1217.9 377.9l-7.1 -2.8M1227.7 352.8l6.0 2.4M1218.4 376.5l-8.1 -3.2M1218.7 375.9l7.7 3.0M1218.4 376.6l7.6 3.0M1219.0 375.0l5.9 2.3M1220.2 371.8l6.5 2.5" stroke="#3f8a7a" stroke-width="1.6" fill="none" stroke-linecap="round" opacity="0.9"/>
<path d="M1210.0 398.0L1219.0 375.0" stroke="#3fa34d" stroke-width="4.2" stroke-linecap="round"/>
<path d="M1219.0 375.0L1228.0 352.0" stroke="#2b4a86" stroke-width="4.2" stroke-linecap="round"/>
<path d="M1315.6 340.7L1342.3 385.4M1299.3 332.1L1338.5 389.3M1344.2 393.3l7.0 -4.6M1343.4 392.0l7.1 -4.6M1321.9 358.8l-7.3 4.7M1331.3 373.3l5.5 -3.6M1342.4 390.4l-8.2 5.3M1347.8 398.8l-5.6 3.6M1347.9 399.0l7.0 -4.5M1308.5 338.1l-5.2 3.4M1345.5 395.2l6.0 -3.9M1337.1 382.3l5.5 -3.5M1342.3 390.2l-5.6 3.6M1304.4 331.8l-6.5 4.2M1303.5 330.3l4.9 -3.2M1336.5 381.4l-5.1 3.3" stroke="#6fbf6a" stroke-width="1.6" fill="none" stroke-linecap="round" opacity="0.9"/>
<path d="M1297.3 320.8L1322.7 360.0" stroke="#3fa34d" stroke-width="5.3999999999999995" stroke-linecap="round"/>
<path d="M1322.7 360.0L1348.0 399.1" stroke="#2d7d78" stroke-width="5.3999999999999995" stroke-linecap="round"/>
<path d="M1285.7 383.7L1311.1 402.4M1282.3 392.2L1307.5 406.5M1301.6 399.4l3.7 -5.6M1285.6 388.9l3.9 -5.9M1300.6 398.7l-3.7 5.7M1283.0 387.3l-4.7 7.3M1290.7 392.3l3.1 -4.7M1292.1 393.2l-4.1 6.3M1287.1 390.0l5.1 -7.9" stroke="#3f8a7a" stroke-width="1.6" fill="none" stroke-linecap="round" opacity="0.9"/>
<path d="M1276.3 382.9L1294.0 394.4" stroke="#2e7d4a" stroke-width="5.3999999999999995" stroke-linecap="round"/>
<path d="M1294.0 394.4L1311.7 406.0" stroke="#1f3340" stroke-width="5.3999999999999995" stroke-linecap="round"/>
<path d="M1344.6 266.5L1366.7 258.5M1344.5 276.4L1373.3 261.4M1363.4 262.9l3.6 7.9M1356.8 265.9l-2.1 -4.6M1356.9 265.9l3.8 8.3M1371.1 259.4l2.7 6.0M1370.3 259.8l2.6 5.8M1378.5 256.1l-2.8 -6.2M1362.4 263.4l-2.5 -5.5M1377.6 256.5l-3.5 -7.9" stroke="#4fa04f" stroke-width="1.6" fill="none" stroke-linecap="round" opacity="0.9"/>
<path d="M1334.6 275.9L1358.0 265.4" stroke="#3fa34d" stroke-width="4.8" stroke-linecap="round"/>
<path d="M1358.0 265.4L1381.4 254.8" stroke="#2d7d78" stroke-width="4.8" stroke-linecap="round"/>
<path d="M402.9 316.8l-4.0 2.3M395.8 307.9l-2.4 2.8M387.1 303.6l-1.5 4.7M376.3 296.1l-0.7 -4.9M364.1 301.0l-2.8 -4.5M360.4 314.6l2.9 1.8M356.4 323.9l3.7 1.1M348.0 335.3l-3.5 0.0M350.2 348.0l-4.4 1.4M356.5 359.4l-2.9 2.3M370.0 362.4l2.4 -3.4M379.6 367.2l1.4 -3.5M390.7 370.3l0.9 -4.0M402.4 372.2l0.6 -4.9M413.1 372.5l-0.3 -3.4" stroke="#c8844a" stroke-width="1.1" fill="none" stroke-linecap="round"/>
<path d="M411.9 326.0C410.0 322.9 404.9 312.0 400.7 307.6C396.5 303.2 391.4 301.1 386.7 299.9C382.0 298.7 377.1 299.1 372.7 300.6C368.3 302.1 363.4 305.3 360.1 309.0C356.8 312.7 354.5 318.0 353.1 322.9C351.7 327.8 351.2 333.4 351.7 338.3C352.2 343.2 353.6 348.1 355.9 352.3C358.2 356.5 362.0 360.5 365.7 363.5C369.4 366.5 373.4 368.6 378.3 370.5C383.2 372.4 389.5 373.8 395.1 374.7C400.7 375.6 407.1 376.3 411.9 376.1C416.7 375.9 422.0 373.9 424.0 373.5" fill="none" stroke="#b0601f" stroke-width="9.2" stroke-linecap="round" stroke-linejoin="round"/>
<path d="M411.9 326.0C410.0 322.9 404.9 312.0 400.7 307.6C396.5 303.2 391.4 301.1 386.7 299.9C382.0 298.7 377.1 299.1 372.7 300.6C368.3 302.1 363.4 305.3 360.1 309.0C356.8 312.7 354.5 318.0 353.1 322.9C351.7 327.8 351.2 333.4 351.7 338.3C352.2 343.2 353.6 348.1 355.9 352.3C358.2 356.5 362.0 360.5 365.7 363.5C369.4 366.5 373.4 368.6 378.3 370.5C383.2 372.4 389.5 373.8 395.1 374.7C400.7 375.6 407.1 376.3 411.9 376.1C416.7 375.9 422.0 373.9 424.0 373.5" fill="none" stroke="#de8932" stroke-width="5.7" stroke-linecap="round" stroke-linejoin="round"/>
<path d="M411.9 326.0C410.0 322.9 404.9 312.0 400.7 307.6C396.5 303.2 391.4 301.1 386.7 299.9C382.0 298.7 377.1 299.1 372.7 300.6C368.3 302.1 363.4 305.3 360.1 309.0C356.8 312.7 354.5 318.0 353.1 322.9C351.7 327.8 351.2 333.4 351.7 338.3C352.2 343.2 353.6 348.1 355.9 352.3C358.2 356.5 362.0 360.5 365.7 363.5C369.4 366.5 373.4 368.6 378.3 370.5C383.2 372.4 389.5 373.8 395.1 374.7C400.7 375.6 407.1 376.3 411.9 376.1C416.7 375.9 422.0 373.9 424.0 373.5" fill="none" stroke="#f0b259" stroke-width="1.8" stroke-linecap="round" stroke-linejoin="round" transform="translate(-0.6 -1)"/>
<path d="M437.3 367.0l0.3 -4.1M450.1 371.7l2.8 -4.6M453.9 385.4l-2.4 2.1M466.1 389.9l4.7 -3.4M473.5 399.9l3.5 -2.6M481.4 408.7l2.3 -2.3M487.4 421.2l-2.0 4.3M501.6 418.5l1.1 -5.3M513.0 426.4l-0.1 4.4M525.4 418.4l-0.6 -3.9M537.7 422.9l1.3 4.6M546.7 411.6l-1.8 -3.2M555.8 404.9l-2.8 -3.2M568.8 400.2l3.2 2.1M575.2 389.8l4.0 2.5M580.9 379.7l3.9 2.2M584.0 366.7l-2.9 -4.6M597.0 362.6l-0.5 -4.2M609.8 364.4l1.2 -3.4M616.2 376.5l-3.4 4.4M625.7 384.2l-2.4 2.7M636.2 392.3l-2.0 3.5M648.7 397.0l-1.2 5.3M662.7 397.0l0.6 3.5M673.9 394.1l1.6 5.5M685.6 389.5l1.7 3.8M693.2 377.6l-2.8 -4.9M705.2 373.3l-1.2 -5.2M717.3 378.8l0.1 4.1M730.3 373.9l1.1 -3.6M738.8 384.5l-1.5 3.3M749.4 390.3l-2.8 4.6M763.1 391.2l2.1 -2.7M766.9 404.5l-3.8 3.4M780.4 409.4l3.5 -3.1M788.6 419.1l2.9 -2.5M797.2 427.5l3.7 -3.9M802.6 439.6l-1.7 3.4M814.8 443.8l-1.3 4.7M828.9 439.5l0.5 -3.1M840.8 440.3l0.1 -5.7M853.1 446.5l0.5 3.5M866.2 442.9l1.5 4.1M876.7 437.9l2.8 4.7M887.2 429.4l2.5 2.8M890.2 416.3l-2.4 -2.2M903.2 413.4l2.6 3.3M913.1 407.6l1.5 3.6M923.3 397.8l-0.8 -4.7M936.1 396.4l-0.4 -4.9M948.7 395.4l-0.2 -3.2M961.0 394.8l-0.3 -4.7M973.6 399.7l1.0 4.2M984.8 395.2l2.7 4.8M993.8 387.9l2.2 2.8M1000.4 376.9l-1.9 -4.8M1013.4 373.4l-0.8 -4.9M1025.8 379.7l-0.0 4.4M1038.4 373.3l0.3 -4.7M1051.1 374.5l0.4 -3.8M1063.2 376.6l0.7 -3.1M1070.8 388.2l-2.6 5.1M1083.0 391.7l-1.0 4.4M1098.8 387.6l0.9 -4.8M1108.8 396.3l-0.8 5.0M1121.2 391.1l0.8 -5.6M1136.4 400.1l-0.4 3.5M1152.0 401.4l-0.3 3.5M1168.0 395.5l0.4 -5.4M1182.9 403.9l-0.3 3.3M1199.2 406.0l-0.7 5.0M1211.4 400.8l0.7 -4.3M1226.9 403.0l0.7 -5.6M1238.8 404.0l0.2 -3.5M1251.2 403.5l-0.7 -5.2M1261.2 400.9l-1.5 -4.0M1274.3 398.8l3.6 2.6M1279.5 387.6l4.0 1.3M1275.4 373.3l-4.9 -0.6M1276.1 361.1l-4.9 -0.2M1284.1 350.5l3.3 0.4M1285.7 339.4l5.4 0.9M1281.1 326.6l-5.2 -1.1M1284.5 314.8l-4.9 -1.9M1289.9 303.8l-4.4 -2.6M1299.0 293.7l-3.5 -4.6M1310.5 287.9l-1.8 -5.0M1323.3 292.5l0.4 3.2M1334.6 284.6l-0.1 -3.8M1346.5 291.8l-0.1 3.5M1358.0 284.8l0.0 -3.2" stroke="#c8844a" stroke-width="1.1" fill="none" stroke-linecap="round"/>
<path d="M426.0 371.9C427.9 371.7 433.4 370.0 437.1 370.5C440.8 371.0 445.1 372.6 448.3 374.7C451.6 376.8 453.8 379.8 456.6 383.1C459.4 386.4 462.0 390.3 465.0 394.3C468.0 398.3 471.3 403.2 474.8 406.9C478.3 410.6 481.3 414.1 486.0 416.6C490.7 419.2 496.5 421.3 502.8 422.2C509.1 423.1 516.8 423.1 523.8 422.2C530.8 421.3 538.6 419.5 544.8 416.6C551.0 413.7 556.4 409.5 561.0 404.7C565.6 399.9 568.7 393.3 572.2 387.9C575.7 382.5 578.0 376.1 582.0 372.5C586.0 368.9 591.3 366.9 596.0 366.2C600.7 365.5 605.4 366.3 610.0 368.3C614.6 370.3 619.2 374.6 623.9 378.1C628.5 381.6 632.8 386.6 637.9 389.3C643.0 392.0 648.9 394.0 654.7 394.2C660.5 394.4 667.5 392.2 672.9 390.7C678.3 389.2 682.2 387.2 686.9 385.1C691.5 383.0 695.4 379.7 700.8 378.1C706.1 376.5 713.2 375.1 719.0 375.3C724.8 375.5 730.7 377.6 735.8 379.5C740.9 381.4 745.1 383.7 749.8 386.5C754.5 389.3 759.1 392.1 763.8 396.3C768.5 400.5 773.5 406.9 777.8 411.7C782.1 416.5 785.3 421.1 789.7 425.2C794.1 429.3 797.8 433.5 804.2 436.5C810.7 439.5 820.3 441.9 828.4 443.0C836.5 444.1 845.3 444.1 852.6 443.0C859.9 441.9 866.6 439.2 872.0 436.5C877.4 433.8 880.1 431.1 884.9 426.8C889.7 422.5 895.6 414.7 901.0 410.7C906.4 406.7 910.5 404.5 917.2 402.6C923.9 400.7 933.3 400.2 941.4 399.4C949.5 398.6 958.9 398.9 965.6 397.8C972.3 396.7 976.9 395.3 981.7 392.9C986.5 390.5 989.2 386.0 994.6 383.3C1000.0 380.6 1006.7 377.9 1014.0 376.8C1021.3 375.7 1030.1 376.3 1038.2 376.8C1046.3 377.3 1055.4 378.2 1062.4 380.0C1069.4 381.8 1068.5 384.8 1080.0 387.5C1091.5 390.2 1114.4 393.9 1131.6 396.0C1148.8 398.1 1166.1 398.5 1183.3 400.4C1200.5 402.3 1222.4 406.5 1235.0 407.3C1247.6 408.1 1253.0 407.1 1259.1 405.3C1265.2 403.5 1268.3 401.2 1271.5 396.7C1274.7 392.2 1276.8 385.4 1278.2 378.3C1279.6 371.2 1279.3 361.4 1280.1 354.2C1280.9 347.0 1281.7 341.5 1283.0 335.1C1284.3 328.7 1285.4 321.9 1287.8 316.0C1290.2 310.1 1293.3 303.9 1297.3 299.8C1301.3 295.7 1306.1 293.1 1311.7 291.2C1317.3 289.3 1324.4 288.8 1330.8 288.3C1337.2 287.8 1344.8 288.3 1349.9 288.3C1355.0 288.3 1359.5 288.3 1361.4 288.3" fill="none" stroke="#b0601f" stroke-width="9.2" stroke-linecap="round" stroke-linejoin="round"/>
<path d="M426.0 371.9C427.9 371.7 433.4 370.0 437.1 370.5C440.8 371.0 445.1 372.6 448.3 374.7C451.6 376.8 453.8 379.8 456.6 383.1C459.4 386.4 462.0 390.3 465.0 394.3C468.0 398.3 471.3 403.2 474.8 406.9C478.3 410.6 481.3 414.1 486.0 416.6C490.7 419.2 496.5 421.3 502.8 422.2C509.1 423.1 516.8 423.1 523.8 422.2C530.8 421.3 538.6 419.5 544.8 416.6C551.0 413.7 556.4 409.5 561.0 404.7C565.6 399.9 568.7 393.3 572.2 387.9C575.7 382.5 578.0 376.1 582.0 372.5C586.0 368.9 591.3 366.9 596.0 366.2C600.7 365.5 605.4 366.3 610.0 368.3C614.6 370.3 619.2 374.6 623.9 378.1C628.5 381.6 632.8 386.6 637.9 389.3C643.0 392.0 648.9 394.0 654.7 394.2C660.5 394.4 667.5 392.2 672.9 390.7C678.3 389.2 682.2 387.2 686.9 385.1C691.5 383.0 695.4 379.7 700.8 378.1C706.1 376.5 713.2 375.1 719.0 375.3C724.8 375.5 730.7 377.6 735.8 379.5C740.9 381.4 745.1 383.7 749.8 386.5C754.5 389.3 759.1 392.1 763.8 396.3C768.5 400.5 773.5 406.9 777.8 411.7C782.1 416.5 785.3 421.1 789.7 425.2C794.1 429.3 797.8 433.5 804.2 436.5C810.7 439.5 820.3 441.9 828.4 443.0C836.5 444.1 845.3 444.1 852.6 443.0C859.9 441.9 866.6 439.2 872.0 436.5C877.4 433.8 880.1 431.1 884.9 426.8C889.7 422.5 895.6 414.7 901.0 410.7C906.4 406.7 910.5 404.5 917.2 402.6C923.9 400.7 933.3 400.2 941.4 399.4C949.5 398.6 958.9 398.9 965.6 397.8C972.3 396.7 976.9 395.3 981.7 392.9C986.5 390.5 989.2 386.0 994.6 383.3C1000.0 380.6 1006.7 377.9 1014.0 376.8C1021.3 375.7 1030.1 376.3 1038.2 376.8C1046.3 377.3 1055.4 378.2 1062.4 380.0C1069.4 381.8 1068.5 384.8 1080.0 387.5C1091.5 390.2 1114.4 393.9 1131.6 396.0C1148.8 398.1 1166.1 398.5 1183.3 400.4C1200.5 402.3 1222.4 406.5 1235.0 407.3C1247.6 408.1 1253.0 407.1 1259.1 405.3C1265.2 403.5 1268.3 401.2 1271.5 396.7C1274.7 392.2 1276.8 385.4 1278.2 378.3C1279.6 371.2 1279.3 361.4 1280.1 354.2C1280.9 347.0 1281.7 341.5 1283.0 335.1C1284.3 328.7 1285.4 321.9 1287.8 316.0C1290.2 310.1 1293.3 303.9 1297.3 299.8C1301.3 295.7 1306.1 293.1 1311.7 291.2C1317.3 289.3 1324.4 288.8 1330.8 288.3C1337.2 287.8 1344.8 288.3 1349.9 288.3C1355.0 288.3 1359.5 288.3 1361.4 288.3" fill="none" stroke="#de8932" stroke-width="5.7" stroke-linecap="round" stroke-linejoin="round"/>
<path d="M426.0 371.9C427.9 371.7 433.4 370.0 437.1 370.5C440.8 371.0 445.1 372.6 448.3 374.7C451.6 376.8 453.8 379.8 456.6 383.1C459.4 386.4 462.0 390.3 465.0 394.3C468.0 398.3 471.3 403.2 474.8 406.9C478.3 410.6 481.3 414.1 486.0 416.6C490.7 419.2 496.5 421.3 502.8 422.2C509.1 423.1 516.8 423.1 523.8 422.2C530.8 421.3 538.6 419.5 544.8 416.6C551.0 413.7 556.4 409.5 561.0 404.7C565.6 399.9 568.7 393.3 572.2 387.9C575.7 382.5 578.0 376.1 582.0 372.5C586.0 368.9 591.3 366.9 596.0 366.2C600.7 365.5 605.4 366.3 610.0 368.3C614.6 370.3 619.2 374.6 623.9 378.1C628.5 381.6 632.8 386.6 637.9 389.3C643.0 392.0 648.9 394.0 654.7 394.2C660.5 394.4 667.5 392.2 672.9 390.7C678.3 389.2 682.2 387.2 686.9 385.1C691.5 383.0 695.4 379.7 700.8 378.1C706.1 376.5 713.2 375.1 719.0 375.3C724.8 375.5 730.7 377.6 735.8 379.5C740.9 381.4 745.1 383.7 749.8 386.5C754.5 389.3 759.1 392.1 763.8 396.3C768.5 400.5 773.5 406.9 777.8 411.7C782.1 416.5 785.3 421.1 789.7 425.2C794.1 429.3 797.8 433.5 804.2 436.5C810.7 439.5 820.3 441.9 828.4 443.0C836.5 444.1 845.3 444.1 852.6 443.0C859.9 441.9 866.6 439.2 872.0 436.5C877.4 433.8 880.1 431.1 884.9 426.8C889.7 422.5 895.6 414.7 901.0 410.7C906.4 406.7 910.5 404.5 917.2 402.6C923.9 400.7 933.3 400.2 941.4 399.4C949.5 398.6 958.9 398.9 965.6 397.8C972.3 396.7 976.9 395.3 981.7 392.9C986.5 390.5 989.2 386.0 994.6 383.3C1000.0 380.6 1006.7 377.9 1014.0 376.8C1021.3 375.7 1030.1 376.3 1038.2 376.8C1046.3 377.3 1055.4 378.2 1062.4 380.0C1069.4 381.8 1068.5 384.8 1080.0 387.5C1091.5 390.2 1114.4 393.9 1131.6 396.0C1148.8 398.1 1166.1 398.5 1183.3 400.4C1200.5 402.3 1222.4 406.5 1235.0 407.3C1247.6 408.1 1253.0 407.1 1259.1 405.3C1265.2 403.5 1268.3 401.2 1271.5 396.7C1274.7 392.2 1276.8 385.4 1278.2 378.3C1279.6 371.2 1279.3 361.4 1280.1 354.2C1280.9 347.0 1281.7 341.5 1283.0 335.1C1284.3 328.7 1285.4 321.9 1287.8 316.0C1290.2 310.1 1293.3 303.9 1297.3 299.8C1301.3 295.7 1306.1 293.1 1311.7 291.2C1317.3 289.3 1324.4 288.8 1330.8 288.3C1337.2 287.8 1344.8 288.3 1349.9 288.3C1355.0 288.3 1359.5 288.3 1361.4 288.3" fill="none" stroke="#f0b259" stroke-width="1.8" stroke-linecap="round" stroke-linejoin="round" transform="translate(-0.6 -1)"/>
<path d="M362.0 360.0C364.7 361.8 372.8 368.1 378.3 370.5C383.8 372.9 389.5 373.8 395.1 374.7C400.7 375.6 407.1 376.3 411.9 376.1C416.7 375.9 422.0 373.9 424.0 373.5" fill="none" stroke="#6a9a3a" stroke-width="4" stroke-linecap="round" stroke-linejoin="round"/>
<path d="M1333.6 283.5L1345.1 270.0" fill="none" stroke="#3fa34d" stroke-width="6" stroke-linecap="round" stroke-linejoin="round"/>
<path d="M1345.0 288.3L1361.4 288.3" fill="none" stroke="#c8463a" stroke-width="5" stroke-linecap="round" stroke-linejoin="round"/>
<path d="M404.0 312.0L411.9 326.0" fill="none" stroke="#a04a2a" stroke-width="6" stroke-linecap="round" stroke-linejoin="round"/>
<path d="M417.6 332.8L420.7 339.9M410.3 338.0L417.9 345.2M418.0 340.8l-6.5 4.9M419.2 342.4l5.0 -3.8M412.8 333.9l6.5 -4.9" stroke="#4a6fa0" stroke-width="1.6" fill="none" stroke-linecap="round" opacity="0.9"/>
<path d="M411.9 332.7L420.3 343.9" stroke="#2b4a86" stroke-width="4.8" stroke-linecap="round"/>
<path d="M329.0 295.0L346.0 306.0" stroke="#2b4a86" stroke-width="3.5999999999999996" stroke-linecap="round"/>
<path d="M364.0 377.0L412.0 385.0" stroke="#3fa34d" stroke-width="3.5999999999999996" stroke-linecap="round"/>
<path d="M1055.0 392.0L1060.0 408.0" stroke="#2e7d4a" stroke-width="3.5999999999999996" stroke-linecap="round"/>
</g>
<g>
<path d="M600.7 839.3L601.7 833.3L607.3 831.2L612.0 835.0L611.0 841.0L605.4 843.1ZM601.7 833.3L598.4 830.6" fill="none" stroke="#6fbf6a" stroke-width="1.5" stroke-linejoin="round" opacity="0.85"/>
<path d="M619.2 781.9L620.0 776.9L624.8 775.1L628.7 778.3L627.9 783.3L623.2 785.2ZM624.8 775.1L625.3 771.6" fill="none" stroke="#6f9e4f" stroke-width="1.5" stroke-linejoin="round" opacity="0.85"/>
<path d="M662.5 781.4L660.4 776.4L663.6 772.1L668.9 772.8L671.0 777.7L667.8 782.0ZM662.5 781.4L660.2 784.4" fill="none" stroke="#3f8a7a" stroke-width="1.5" stroke-linejoin="round" opacity="0.85"/>
<path d="M689.1 777.6L683.4 778.4L679.8 774.0L681.9 768.6L687.6 767.7L691.2 772.2ZM683.4 778.4L681.9 782.2" fill="none" stroke="#4fa04f" stroke-width="1.5" stroke-linejoin="round" opacity="0.85"/>
<path d="M677.5 900.9L672.5 901.3L669.7 897.1L671.9 892.7L676.8 892.3L679.6 896.4ZM671.9 892.7L669.9 889.8" fill="none" stroke="#6f9e4f" stroke-width="1.5" stroke-linejoin="round" opacity="0.85"/>
<path d="M603.0 847.6L601.8 843.2L605.0 840.0L609.4 841.1L610.6 845.5L607.4 848.7ZM610.6 845.5L613.7 846.3" fill="none" stroke="#4fa04f" stroke-width="1.5" stroke-linejoin="round" opacity="0.85"/>
<path d="M617.2 847.2L612.5 847.9L609.6 844.2L611.3 839.8L616.0 839.1L618.9 842.8ZM616.0 839.1L617.2 836.0" fill="none" stroke="#3f8a7a" stroke-width="1.5" stroke-linejoin="round" opacity="0.85"/>
<path d="M663.7 853.7L663.8 847.7L669.0 844.7L674.2 847.7L674.2 853.7L668.9 856.7ZM663.8 847.7L660.1 845.6" fill="none" stroke="#4fa04f" stroke-width="1.5" stroke-linejoin="round" opacity="0.85"/>
<path d="M632.0 872.3L629.9 867.1L633.4 862.6L639.0 863.4L641.1 868.7L637.6 873.1ZM633.4 862.6L631.9 858.9" fill="none" stroke="#4a6fa0" stroke-width="1.5" stroke-linejoin="round" opacity="0.85"/>
<path d="M630.9 871.4L628.6 866.3L631.8 861.8L637.3 862.4L639.6 867.4L636.4 871.9ZM639.6 867.4L643.5 867.8" fill="none" stroke="#4fa04f" stroke-width="1.5" stroke-linejoin="round" opacity="0.85"/>
<path d="M694.3 822.4L689.9 819.6L690.2 814.4L694.8 812.0L699.2 814.8L698.9 820.0ZM698.9 820.0L702.0 822.0" fill="none" stroke="#4fa04f" stroke-width="1.5" stroke-linejoin="round" opacity="0.85"/>
<path d="M638.4 861.5L637.2 856.8L640.6 853.4L645.3 854.7L646.5 859.4L643.1 862.8ZM643.1 862.8L643.9 866.1" fill="none" stroke="#4fa04f" stroke-width="1.5" stroke-linejoin="round" opacity="0.85"/>
<path d="M659.5 805.0L658.6 798.2L664.0 794.1L670.3 796.7L671.2 803.5L665.8 807.6ZM665.8 807.6L666.4 812.4" fill="none" stroke="#6fbf6a" stroke-width="1.5" stroke-linejoin="round" opacity="0.85"/>
<path d="M691.7 779.5L685.8 776.6L685.3 770.0L690.7 766.3L696.7 769.2L697.2 775.8ZM697.2 775.8L701.3 777.8" fill="none" stroke="#3f8a7a" stroke-width="1.5" stroke-linejoin="round" opacity="0.85"/>
<path d="M603.3 836.9L604.8 832.3L609.5 831.4L612.8 835.0L611.2 839.6L606.5 840.6ZM603.3 836.9L599.9 837.6" fill="none" stroke="#6fbf6a" stroke-width="1.5" stroke-linejoin="round" opacity="0.85"/>
<path d="M684.0 855.4L677.9 852.8L677.2 846.2L682.5 842.3L688.5 844.9L689.3 851.4ZM688.5 844.9L692.3 842.1" fill="none" stroke="#6f9e4f" stroke-width="1.5" stroke-linejoin="round" opacity="0.85"/>
<path d="M615.5 805.1L609.8 805.7L606.4 801.0L608.8 795.7L614.5 795.2L617.9 799.8ZM608.8 795.7L606.4 792.5" fill="none" stroke="#3f8a7a" stroke-width="1.5" stroke-linejoin="round" opacity="0.85"/>
<path d="M616.3 810.9L611.9 812.5L608.4 809.5L609.1 805.0L613.5 803.3L617.1 806.3ZM617.1 806.3L620.1 805.2" fill="none" stroke="#6f9e4f" stroke-width="1.5" stroke-linejoin="round" opacity="0.85"/>
<path d="M778.0 836.9L774.2 833.8L775.0 829.0L779.6 827.3L783.4 830.4L782.6 835.2ZM775.0 829.0L772.4 826.8" fill="none" stroke="#4a6fa0" stroke-width="1.5" stroke-linejoin="round" opacity="0.85"/>
<path d="M703.9 901.4L706.6 896.1L712.5 895.8L715.7 900.7L713.0 906.0L707.2 906.3ZM703.9 901.4L699.8 901.6" fill="none" stroke="#6f9e4f" stroke-width="1.5" stroke-linejoin="round" opacity="0.85"/>
<path d="M735.7 869.0L730.1 868.1L728.0 862.8L731.5 858.4L737.2 859.2L739.3 864.5ZM730.1 868.1L727.7 871.3" fill="none" stroke="#4fa04f" stroke-width="1.5" stroke-linejoin="round" opacity="0.85"/>
<path d="M797.2 807.8L792.6 806.3L791.6 801.5L795.3 798.3L799.9 799.8L800.9 804.6ZM791.6 801.5L788.4 800.4" fill="none" stroke="#4a6fa0" stroke-width="1.5" stroke-linejoin="round" opacity="0.85"/>
<path d="M841.6 774.5L838.8 777.6L834.7 776.7L833.5 772.7L836.3 769.6L840.4 770.5ZM840.4 770.5L842.3 768.4" fill="none" stroke="#3f8a7a" stroke-width="1.5" stroke-linejoin="round" opacity="0.85"/>
<path d="M819.3 835.9L820.6 828.6L827.5 826.0L833.2 830.8L832.0 838.1L825.0 840.6ZM820.6 828.6L816.6 825.3" fill="none" stroke="#6fbf6a" stroke-width="1.5" stroke-linejoin="round" opacity="0.85"/>
<path d="M724.4 775.2L720.0 770.7L721.7 764.7L727.7 763.1L732.1 767.6L730.5 773.6ZM724.4 775.2L723.2 779.5" fill="none" stroke="#3f8a7a" stroke-width="1.5" stroke-linejoin="round" opacity="0.85"/>
<path d="M828.3 762.0L831.0 755.8L837.8 755.1L841.7 760.6L839.0 766.8L832.2 767.5ZM837.8 755.1L839.7 750.8" fill="none" stroke="#6fbf6a" stroke-width="1.5" stroke-linejoin="round" opacity="0.85"/>
<path d="M704.1 759.2L698.1 757.9L696.3 752.0L700.4 747.5L706.5 748.8L708.3 754.7ZM698.1 757.9L695.2 761.1" fill="none" stroke="#6fbf6a" stroke-width="1.5" stroke-linejoin="round" opacity="0.85"/>
<path d="M881.1 802.6L877.8 799.9L878.6 795.8L882.5 794.3L885.7 797.0L885.0 801.1ZM881.1 802.6L880.5 805.4" fill="none" stroke="#6f9e4f" stroke-width="1.5" stroke-linejoin="round" opacity="0.85"/>
<path d="M860.2 871.0L855.6 874.4L850.4 872.2L849.8 866.6L854.3 863.2L859.5 865.4ZM855.6 874.4L856.1 878.4" fill="none" stroke="#3f8a7a" stroke-width="1.5" stroke-linejoin="round" opacity="0.85"/>
<path d="M751.4 776.6L745.8 781.2L739.1 778.6L738.0 771.5L743.5 767.0L750.2 769.5ZM739.1 778.6L735.2 781.7" fill="none" stroke="#4fa04f" stroke-width="1.5" stroke-linejoin="round" opacity="0.85"/>
<path d="M823.6 818.4L825.0 814.6L829.1 813.9L831.7 817.0L830.2 820.9L826.2 821.6ZM826.2 821.6L825.2 824.3" fill="none" stroke="#6f9e4f" stroke-width="1.5" stroke-linejoin="round" opacity="0.85"/>
<path d="M749.9 886.6L746.9 881.8L749.5 876.9L755.1 876.7L758.1 881.4L755.5 886.3ZM758.1 881.4L762.0 881.2" fill="none" stroke="#4a6fa0" stroke-width="1.5" stroke-linejoin="round" opacity="0.85"/>
<path d="M847.2 819.3L843.0 817.8L842.1 813.4L845.5 810.5L849.8 811.9L850.6 816.4ZM849.8 811.9L852.2 809.9" fill="none" stroke="#3f8a7a" stroke-width="1.5" stroke-linejoin="round" opacity="0.85"/>
<path d="M790.6 875.1L784.3 874.0L782.1 868.0L786.2 863.1L792.5 864.2L794.7 870.2ZM794.7 870.2L799.1 870.9" fill="none" stroke="#4fa04f" stroke-width="1.5" stroke-linejoin="round" opacity="0.85"/>
<path d="M829.8 757.6L825.4 758.4L822.6 755.0L824.2 750.9L828.5 750.1L831.3 753.5ZM825.4 758.4L824.4 761.2" fill="none" stroke="#4a6fa0" stroke-width="1.5" stroke-linejoin="round" opacity="0.85"/>
<path d="M791.9 785.7L784.7 784.6L782.0 777.8L786.6 772.1L793.8 773.2L796.4 780.0ZM782.0 777.8L777.0 777.0" fill="none" stroke="#4fa04f" stroke-width="1.5" stroke-linejoin="round" opacity="0.85"/>
<path d="M875.9 880.2L873.9 873.8L878.4 868.9L884.9 870.3L886.9 876.7L882.4 881.7ZM882.4 881.7L883.8 886.1" fill="none" stroke="#4fa04f" stroke-width="1.5" stroke-linejoin="round" opacity="0.85"/>
<path d="M762.1 907.4L758.2 906.3L757.2 902.3L760.1 899.5L764.0 900.6L765.1 904.5ZM765.1 904.5L767.8 905.3" fill="none" stroke="#4fa04f" stroke-width="1.5" stroke-linejoin="round" opacity="0.85"/>
<path d="M763.1 823.8L762.6 818.4L767.1 815.3L772.0 817.6L772.4 823.0L768.0 826.1ZM768.0 826.1L768.3 829.8" fill="none" stroke="#4fa04f" stroke-width="1.5" stroke-linejoin="round" opacity="0.85"/>
<path d="M845.5 783.6L843.9 778.3L847.8 774.2L853.2 775.6L854.7 780.9L850.9 784.9ZM845.5 783.6L842.8 786.4" fill="none" stroke="#4a6fa0" stroke-width="1.5" stroke-linejoin="round" opacity="0.85"/>
<path d="M704.0 808.5L705.2 804.1L709.6 802.9L712.8 806.2L711.6 810.5L707.2 811.7ZM707.2 811.7L706.4 814.7" fill="none" stroke="#6f9e4f" stroke-width="1.5" stroke-linejoin="round" opacity="0.85"/>
<path d="M761.2 891.6L756.7 892.8L753.4 889.5L754.6 885.0L759.1 883.8L762.4 887.1ZM759.1 883.8L760.0 880.7" fill="none" stroke="#6f9e4f" stroke-width="1.5" stroke-linejoin="round" opacity="0.85"/>
<path d="M787.7 848.9L784.0 845.2L785.5 840.1L790.5 838.8L794.2 842.6L792.7 847.6ZM784.0 845.2L780.5 846.0" fill="none" stroke="#4a6fa0" stroke-width="1.5" stroke-linejoin="round" opacity="0.85"/>
<path d="M863.8 910.5L860.2 914.2L855.2 913.0L853.8 908.1L857.4 904.4L862.3 905.6ZM860.2 914.2L861.2 917.7" fill="none" stroke="#4a6fa0" stroke-width="1.5" stroke-linejoin="round" opacity="0.85"/>
<path d="M745.5 746.1L741.7 749.2L737.2 747.5L736.4 742.7L740.2 739.6L744.7 741.3ZM740.2 739.6L739.6 736.2" fill="none" stroke="#6f9e4f" stroke-width="1.5" stroke-linejoin="round" opacity="0.85"/>
<path d="M830.2 794.8L825.7 793.3L824.7 788.6L828.3 785.4L832.9 787.0L833.8 791.7ZM824.7 788.6L821.5 787.5" fill="none" stroke="#6fbf6a" stroke-width="1.5" stroke-linejoin="round" opacity="0.85"/>
<path d="M945.0 822.8L941.9 827.9L935.9 827.7L933.1 822.5L936.2 817.4L942.2 817.6ZM942.2 817.6L944.4 814.0" fill="none" stroke="#6fae8f" stroke-width="1.5" stroke-linejoin="round" opacity="0.85"/>
<path d="M910.2 853.3L912.5 848.8L917.7 848.6L920.4 852.9L918.0 857.4L912.9 857.6ZM912.5 848.8L910.6 845.7" fill="none" stroke="#6fae8f" stroke-width="1.5" stroke-linejoin="round" opacity="0.85"/>
<path d="M934.2 879.4L928.1 880.7L924.0 876.2L925.9 870.3L931.9 869.0L936.1 873.6ZM934.2 879.4L937.1 882.6" fill="none" stroke="#6fae8f" stroke-width="1.5" stroke-linejoin="round" opacity="0.85"/>
<path d="M922.1 850.6L918.0 856.5L910.8 855.8L907.8 849.3L911.9 843.5L919.0 844.1ZM922.1 850.6L927.1 851.0" fill="none" stroke="#6fae8f" stroke-width="1.5" stroke-linejoin="round" opacity="0.85"/>
<path d="M908.4 835.7L907.6 831.2L911.1 828.2L915.4 829.8L916.2 834.3L912.7 837.2ZM912.7 837.2L913.3 840.4" fill="none" stroke="#6fae8f" stroke-width="1.5" stroke-linejoin="round" opacity="0.85"/>
<path d="M975.2 858.1L968.4 859.0L964.2 853.6L966.9 847.2L973.7 846.3L977.9 851.8ZM973.7 846.3L975.5 841.9" fill="none" stroke="#8fcf7f" stroke-width="1.5" stroke-linejoin="round" opacity="0.85"/>
<path d="M956.8 837.4L951.5 839.3L947.1 835.8L948.1 830.2L953.4 828.3L957.7 831.9ZM953.4 828.3L954.0 824.4" fill="none" stroke="#8fcf7f" stroke-width="1.5" stroke-linejoin="round" opacity="0.85"/>
<path d="M924.4 875.1L918.8 875.4L915.8 870.6L918.3 865.6L923.9 865.4L927.0 870.1ZM918.8 875.4L917.0 878.9" fill="none" stroke="#6fae8f" stroke-width="1.5" stroke-linejoin="round" opacity="0.85"/>
<path d="M928.8 878.9L923.6 876.5L923.1 870.9L927.7 867.6L932.8 870.0L933.4 875.6ZM933.4 875.6L937.0 877.3" fill="none" stroke="#6fae8f" stroke-width="1.5" stroke-linejoin="round" opacity="0.85"/>
<path d="M974.8 879.3L968.8 880.1L965.1 875.4L967.4 869.9L973.3 869.0L977.0 873.7ZM973.3 869.0L974.8 865.1" fill="none" stroke="#6fae8f" stroke-width="1.5" stroke-linejoin="round" opacity="0.85"/>
<path d="M916.0 858.2L913.4 854.9L914.9 851.0L919.0 850.4L921.7 853.7L920.1 857.6ZM914.9 851.0L913.1 848.7" fill="none" stroke="#6fae8f" stroke-width="1.5" stroke-linejoin="round" opacity="0.85"/>
<path d="M600.5 820.4L632.4 867.9M586.7 816.6L627.6 870.5M610.8 842.5l5.9 -4.3M625.3 862.7l-4.1 2.9M624.5 861.7l7.0 -5.0M595.4 821.1l-6.6 4.7M621.2 856.9l6.5 -4.7M617.3 851.6l-5.9 4.2M603.9 832.9l6.2 -4.4M620.0 855.4l7.7 -5.6M625.7 863.2l-6.8 4.9M605.7 835.4l-6.0 4.3M625.1 862.5l4.5 -3.2M598.6 825.6l8.0 -5.7" stroke="#4fa04f" stroke-width="1.6" fill="none" stroke-linecap="round" opacity="0.9"/>
<path d="M585.7 807.5L608.7 839.5" stroke="#4f7896" stroke-width="4.8" stroke-linecap="round"/>
<path d="M608.7 839.5L631.6 871.5" stroke="#3fa34d" stroke-width="4.8" stroke-linecap="round"/>
<path d="M632.3 798.4L657.2 827.9M629.8 809.0L654.3 832.7M635.4 808.4l-6.6 6.1M640.6 814.0l-3.8 3.5M652.4 826.6l-5.0 4.7M648.4 822.3l6.8 -6.4M639.5 812.8l5.1 -4.7M653.5 827.9l6.1 -5.7M653.1 827.4l5.8 -5.3" stroke="#4fa04f" stroke-width="1.6" fill="none" stroke-linecap="round" opacity="0.9"/>
<path d="M626.7 799.0L642.4 815.9" stroke="#2b4a86" stroke-width="5.3999999999999995" stroke-linecap="round"/>
<path d="M642.4 815.9L658.1 832.8" stroke="#2e7d4a" stroke-width="5.3999999999999995" stroke-linecap="round"/>
<path d="M652.8 897.4L691.9 852.9M661.2 901.4L694.0 858.7M656.8 899.6l6.2 5.1M682.7 868.2l-4.8 -4.0M683.7 867.0l-6.1 -5.1M672.3 880.9l6.0 5.0M658.8 897.1l-5.2 -4.3M668.4 885.6l4.3 3.5M693.2 855.5l-7.0 -5.8M680.4 871.0l-5.1 -4.2M675.9 876.5l5.5 4.5M695.0 853.3l-6.0 -4.9M678.8 872.9l-6.2 -5.1" stroke="#4fa04f" stroke-width="1.6" fill="none" stroke-linecap="round" opacity="0.9"/>
<path d="M652.1 905.3L675.0 877.5" stroke="#2e7d4a" stroke-width="4.8" stroke-linecap="round"/>
<path d="M675.0 877.5L698.0 849.7" stroke="#2b4a86" stroke-width="4.8" stroke-linecap="round"/>
<path d="M703.4 886.5L711.8 894.0M698.3 893.9L711.8 900.4M703.1 891.7l-4.9 7.6M701.8 890.8l-4.9 7.7M701.5 890.7l-5.1 8.0" stroke="#3f8a7a" stroke-width="1.6" fill="none" stroke-linecap="round" opacity="0.9"/>
<path d="M698.0 888.4L714.9 899.2" stroke="#1f3340" stroke-width="4.8" stroke-linecap="round"/>
<path d="M703.1 762.0L710.9 824.5M695.3 770.3L702.7 806.5M700.4 774.1l6.5 -1.0M702.4 787.1l5.5 -0.8M708.6 827.2l8.0 -1.2M698.0 758.6l9.0 -1.4M702.3 786.4l-5.6 0.9M698.9 764.0l-9.0 1.4M698.6 762.7l-6.9 1.1M702.3 786.7l7.6 -1.2M700.2 773.0l7.5 -1.2M701.8 783.4l8.4 -1.3M699.8 770.1l7.8 -1.2M701.7 782.6l-5.3 0.8" stroke="#4a6fa0" stroke-width="1.6" fill="none" stroke-linecap="round" opacity="0.9"/>
<path d="M696.8 750.7L702.8 790.0" stroke="#3fa34d" stroke-width="5.3999999999999995" stroke-linecap="round"/>
<path d="M702.8 790.0L708.9 829.2" stroke="#4f7896" stroke-width="5.3999999999999995" stroke-linecap="round"/>
<path d="M727.6 767.5L725.0 785.5M718.4 771.7L719.5 787.2M723.0 771.3l-7.2 -0.3M723.1 768.7l-7.5 -0.3M722.2 788.4l-8.4 -0.4M722.4 782.9l-7.8 -0.4" stroke="#4fa04f" stroke-width="1.6" fill="none" stroke-linecap="round" opacity="0.9"/>
<path d="M723.3 764.0L722.1 790.6" stroke="#3f6aa8" stroke-width="4.8" stroke-linecap="round"/>
<path d="M731.5 732.1L729.7 743.5M722.5 730.1L724.3 748.3M727.0 732.5l6.8 -0.0M727.0 732.3l8.3 -0.0M727.0 738.0l8.5 -0.0" stroke="#4fa04f" stroke-width="1.6" fill="none" stroke-linecap="round" opacity="0.9"/>
<path d="M727.0 729.0L727.0 748.3" stroke="#3fa34d" stroke-width="4.8" stroke-linecap="round"/>
<path d="M773.8 741.2L789.6 754.4M765.3 746.3L786.4 758.8M788.2 756.7l5.1 -7.4M789.8 757.8l4.2 -6.0M780.4 751.3l4.7 -6.7M769.6 743.8l-3.6 5.2M786.0 755.2l-3.8 5.4" stroke="#3f8a7a" stroke-width="1.6" fill="none" stroke-linecap="round" opacity="0.9"/>
<path d="M765.6 741.0L777.8 749.5" stroke="#2b4a86" stroke-width="4.8" stroke-linecap="round"/>
<path d="M777.8 749.5L790.0 758.0" stroke="#2d7d78" stroke-width="4.8" stroke-linecap="round"/>
<path d="M748.6 782.7L749.8 795.4M739.0 781.4L744.7 797.6M743.6 780.9l6.4 -1.5M745.5 789.1l-5.2 1.2M747.9 799.1l-6.3 1.5M747.2 796.2l-7.3 1.7" stroke="#6fbf6a" stroke-width="1.6" fill="none" stroke-linecap="round" opacity="0.9"/>
<path d="M742.7 777.3L748.7 802.6" stroke="#2e7d4a" stroke-width="4.8" stroke-linecap="round"/>
<path d="M753.2 817.6L772.1 799.1M759.2 824.4L773.5 805.7M754.4 823.1l-6.8 -6.0M780.1 794.2l-5.7 -5.1M770.8 804.6l-6.5 -5.7M779.9 794.4l5.4 4.8M774.3 800.7l4.1 3.6M777.5 797.2l7.1 6.3M777.9 796.7l6.6 5.8" stroke="#3f8a7a" stroke-width="1.6" fill="none" stroke-linecap="round" opacity="0.9"/>
<path d="M751.1 826.8L765.6 810.5" stroke="#2e7d4a" stroke-width="4.8" stroke-linecap="round"/>
<path d="M765.6 810.5L780.1 794.2" stroke="#2b4a86" stroke-width="4.8" stroke-linecap="round"/>
<path d="M756.8 833.9L764.8 852.3M751.4 842.8L762.7 859.8M762.5 853.8l-8.7 4.8M760.0 849.1l7.6 -4.1M753.2 836.6l8.1 -4.4M764.0 856.6l4.6 -2.5M763.9 856.2l-5.3 2.9" stroke="#6fbf6a" stroke-width="1.6" fill="none" stroke-linecap="round" opacity="0.9"/>
<path d="M751.1 832.8L765.6 859.4" stroke="#2b4a86" stroke-width="4.2" stroke-linecap="round"/>
<path d="M773.7 875.5L771.9 909.1M764.7 874.2L766.5 910.3M769.2 876.1l6.2 -0.0M769.2 893.9l-9.5 0.0M769.2 881.1l-8.0 0.0M769.2 891.7l-6.4 0.0M769.2 909.0l-5.1 0.0M769.2 908.0l8.4 -0.0" stroke="#4fa04f" stroke-width="1.6" fill="none" stroke-linecap="round" opacity="0.9"/>
<path d="M769.2 871.5L769.2 911.3" stroke="#2b4a86" stroke-width="4.8" stroke-linecap="round"/>
<path d="M778.0 904.0L836.7 909.7M776.3 912.9L816.1 913.8M801.0 910.1l0.5 -7.7M830.4 912.0l-0.6 9.3M806.6 910.4l0.5 -7.1M792.0 909.5l-0.4 6.4M802.2 910.1l0.6 -9.1M784.1 908.9l-0.5 7.6M825.8 911.7l0.5 -8.1M816.5 911.1l-0.6 9.0M827.1 911.8l0.4 -5.6M800.4 910.0l-0.4 5.9M792.0 909.5l0.4 -6.7" stroke="#4a6fa0" stroke-width="1.6" fill="none" stroke-linecap="round" opacity="0.9"/>
<path d="M765.6 907.7L801.6 910.1" stroke="#2b4a86" stroke-width="5.3999999999999995" stroke-linecap="round"/>
<path d="M801.6 910.1L837.6 912.5" stroke="#3fa34d" stroke-width="5.3999999999999995" stroke-linecap="round"/>
<path d="M768.3 803.7L777.1 796.0M775.8 808.8L782.1 798.5M781.4 795.0l-7.6 -6.3M780.6 796.0l3.9 3.3M773.5 804.5l6.7 5.6" stroke="#3f8a7a" stroke-width="1.6" fill="none" stroke-linecap="round" opacity="0.9"/>
<path d="M770.0 808.7L782.1 794.2" stroke="#2b4a86" stroke-width="4.8" stroke-linecap="round"/>
<path d="M787.9 795.3L803.8 827.4M781.0 801.4L798.1 828.1M799.0 824.3l-5.1 2.9M789.9 808.1l6.8 -3.8M789.9 808.0l-4.7 2.6M790.8 809.7l6.3 -3.6M800.1 826.3l6.8 -3.8M791.0 810.0l4.7 -2.7M799.1 824.4l7.7 -4.4" stroke="#3f8a7a" stroke-width="1.6" fill="none" stroke-linecap="round" opacity="0.9"/>
<path d="M782.1 794.2L803.8 832.8" stroke="#2b4a86" stroke-width="4.8" stroke-linecap="round"/>
<path d="M816.7 781.8L837.8 789.9M813.0 790.1L836.7 795.2M817.0 786.6l2.2 -7.5M833.3 791.4l-1.8 6.0M831.3 790.8l-1.9 6.6M824.9 788.9l2.0 -6.8M827.4 789.7l2.4 -8.0" stroke="#4fa04f" stroke-width="1.6" fill="none" stroke-linecap="round" opacity="0.9"/>
<path d="M809.8 784.5L824.3 788.8" stroke="#2e7d4a" stroke-width="4.8" stroke-linecap="round"/>
<path d="M824.3 788.8L838.8 793.0" stroke="#2b4a86" stroke-width="4.8" stroke-linecap="round"/>
<path d="M825.7 803.3L851.5 780.2M827.7 814.1L849.4 789.9M828.1 807.3l4.3 4.3M841.3 794.2l5.5 5.6M853.6 781.9l4.4 4.4M840.4 795.1l4.0 4.0M843.5 792.0l6.7 6.7M843.3 792.1l-4.8 -4.8M835.5 799.9l-5.7 -5.7M857.2 778.3l3.9 3.9M847.6 787.9l3.8 3.8M836.1 799.4l-4.8 -4.8" stroke="#4a6fa0" stroke-width="1.6" fill="none" stroke-linecap="round" opacity="0.9"/>
<path d="M815.9 819.5L838.2 797.2" stroke="#3f6aa8" stroke-width="4.8" stroke-linecap="round"/>
<path d="M838.2 797.2L860.6 774.9" stroke="#3fa34d" stroke-width="4.8" stroke-linecap="round"/>
<path d="M818.7 858.8L836.8 828.8M827.1 862.0L844.1 826.7M824.5 857.4l-5.1 -2.8M844.1 820.9l-5.3 -2.9M822.0 862.2l5.8 3.1M834.7 838.5l-7.5 -4.1M831.5 844.4l-6.8 -3.7M828.1 850.8l6.2 3.3M837.5 833.3l7.2 3.9M821.5 863.1l7.4 4.0M840.3 828.0l-7.4 -4.0" stroke="#6fbf6a" stroke-width="1.6" fill="none" stroke-linecap="round" opacity="0.9"/>
<path d="M818.3 869.0L831.6 844.2" stroke="#3fa34d" stroke-width="4.8" stroke-linecap="round"/>
<path d="M831.6 844.2L844.9 819.5" stroke="#4f7896" stroke-width="4.8" stroke-linecap="round"/>
<path d="M877.1 837.1L875.3 917.0M868.1 844.9L869.9 914.9M872.6 912.1l-9.8 0.0M872.6 842.5l6.3 -0.0M872.6 843.5l6.1 -0.0M872.6 899.9l-6.3 0.0M872.6 836.8l8.2 -0.0M872.6 901.4l-9.6 0.0M872.6 837.8l8.8 -0.0M872.6 844.2l5.4 -0.0M872.6 897.0l-8.5 0.0M872.6 904.0l-6.6 0.0M872.6 908.8l-5.8 0.0M872.6 842.9l-5.5 0.0M872.6 864.9l7.3 -0.0" stroke="#4fa04f" stroke-width="1.6" fill="none" stroke-linecap="round" opacity="0.9"/>
<path d="M872.6 826.8L872.6 872.0" stroke="#1f3340" stroke-width="4.8" stroke-linecap="round"/>
<path d="M872.6 872.0L872.6 917.3" stroke="#3fa34d" stroke-width="4.8" stroke-linecap="round"/>
<path d="M923.5 846.4L956.9 864.2M920.8 855.1L956.8 870.2M949.3 863.6l3.3 -6.9M921.0 850.2l3.8 -8.1M951.4 864.6l-4.0 8.5M923.9 851.6l3.4 -7.2M950.2 864.0l-4.2 8.9M921.0 850.2l-3.2 6.9M944.6 861.4l-2.8 5.8M959.5 868.5l-3.1 6.5" stroke="#4fa04f" stroke-width="1.6" fill="none" stroke-linecap="round" opacity="0.9"/>
<path d="M914.9 847.3L939.0 858.8" stroke="#2d7d78" stroke-width="4.8" stroke-linecap="round"/>
<path d="M939.0 858.8L963.2 870.2" stroke="#2b4a86" stroke-width="4.8" stroke-linecap="round"/>
<path d="M901.9 887.6L927.1 864.0M912.8 889.2L932.6 866.1M912.1 883.5l6.0 5.7M932.3 862.6l-4.4 -4.2M907.6 888.2l5.5 5.3M913.2 882.4l-4.5 -4.4M909.2 886.6l-6.3 -6.1M911.4 884.3l4.5 4.4M906.6 889.2l-3.8 -3.6" stroke="#3f8a7a" stroke-width="1.6" fill="none" stroke-linecap="round" opacity="0.9"/>
<path d="M902.8 893.2L917.9 877.5" stroke="#2e7d4a" stroke-width="4.8" stroke-linecap="round"/>
<path d="M917.9 877.5L933.0 861.8" stroke="#2b4a86" stroke-width="4.8" stroke-linecap="round"/>
<path d="M797.7 710.0L809.5 717.9M790.8 716.6L804.2 721.3M802.6 717.5l-2.3 4.5M793.8 713.1l3.0 -5.9M806.1 719.2l-2.8 5.7M809.2 720.8l-3.2 6.3" stroke="#4a6fa0" stroke-width="1.6" fill="none" stroke-linecap="round" opacity="0.9"/>
<path d="M791.7 712.0L811.0 721.7" stroke="#2b4a86" stroke-width="4.8" stroke-linecap="round"/>
<path d="M717.1 727.1l0.8 5.0M729.9 725.4l0.6 4.9M742.8 723.9l0.5 5.0M755.5 723.5l-0.1 3.7M767.6 725.2l-0.6 3.4M779.9 719.7l0.6 -4.4M792.9 724.0l2.9 -5.0M797.7 737.3l-3.9 3.5M809.6 742.7l3.6 -1.7M805.9 756.5l-4.4 0.4M813.2 769.5l5.0 -0.1M813.7 782.1l4.0 -0.1M807.1 793.6l-4.1 0.1M807.5 805.1l-3.6 0.1M807.8 816.1l-5.5 0.2M808.1 827.3l-3.5 0.1M815.6 841.4l4.1 -0.2M816.3 854.4l4.2 -0.2M810.1 867.0l-5.1 0.4M818.6 877.2l5.7 -1.1M814.9 891.3l-4.5 1.4M820.0 903.0l-3.8 2.1M832.7 908.8l2.9 -2.4M835.9 921.3l-2.2 2.8M849.7 920.8l1.5 -4.1M861.3 930.4l-0.5 3.7M874.6 930.9l0.1 4.6M887.6 927.4l2.5 4.1M890.5 914.3l-3.4 -2.3M901.4 906.3l3.4 1.0M896.9 891.7l-4.6 -0.6M905.1 881.5l3.6 0.4M899.6 866.8l-5.0 -0.5M900.7 855.4l-3.5 -0.3M902.0 841.2l-3.8 -0.3M910.2 828.6l3.8 0.3M904.0 816.8l-4.8 -0.3M903.8 806.0l-4.2 0.8M899.3 798.2l-3.3 2.9M896.8 785.1l2.5 -2.6M882.1 782.7l-1.8 2.8M872.5 776.6l-3.1 4.7M863.3 770.2l-2.1 2.9M856.1 757.3l1.7 -3.1M842.5 759.1l-1.3 3.9M832.9 757.8l0.2 4.1M820.9 753.4l-1.5 -4.7M812.8 764.6l2.2 4.0M798.7 764.5l-1.6 -3.2M790.2 775.7l1.9 4.8M779.1 779.5l1.4 4.5M765.8 780.7l-0.5 4.9M753.3 777.0l-2.2 4.9M747.3 764.9l2.3 -2.8M739.3 756.0l3.2 -2.7M725.8 752.2l-3.7 3.9M716.4 744.5l-3.4 4.4M710.0 732.9l1.8 -5.5M697.7 738.3l-0.2 3.6M685.7 732.4l-0.9 -3.9M674.4 739.3l-4.3 -3.7M669.2 751.1l-5.3 -1.3M675.1 763.6l3.3 0.1M667.8 774.5l-5.3 -0.3M667.4 787.0l-3.9 -0.2M666.5 798.3l-4.4 -0.5M671.3 811.2l3.1 0.7M668.3 823.6l4.6 1.2M657.9 833.7l-5.3 -1.7M660.4 848.4l5.4 2.0M649.4 855.5l-3.7 -2.1M649.2 868.6l4.5 3.2M635.8 873.1l-2.7 -3.0M627.2 879.7l-1.9 -2.6M621.6 891.4l2.3 3.7M610.4 896.7l-4.7 -1.3M618.4 907.1l4.7 -1.9M621.4 920.7l-2.0 3.4M633.9 924.2l-0.7 4.5M645.5 918.0l0.1 -3.2M657.9 917.7l-0.3 -5.4M669.8 916.5l-0.5 -4.1M683.0 921.3l0.9 4.4M693.8 911.5l-0.8 -3.2M705.5 907.8l-1.7 -4.3M718.6 908.4l3.2 4.6M728.9 901.0l2.8 4.4M739.5 894.9l2.2 4.1M749.8 890.4l1.3 3.6M761.7 887.3l0.7 3.5M773.4 879.2l-0.2 -4.4M785.1 885.5l0.5 4.7M799.0 881.7l1.6 4.0M807.8 869.8l-2.2 -4.3" stroke="#c8844a" stroke-width="1.1" fill="none" stroke-linecap="round"/>
<path d="M704.0 726.0C706.8 725.5 713.1 724.0 721.0 723.0C728.9 722.0 742.9 720.1 751.1 719.9C759.3 719.7 763.8 721.1 770.0 722.0C776.2 722.9 782.9 723.0 788.1 725.4C793.3 727.8 798.0 732.0 801.4 736.2C804.8 740.4 807.2 744.7 808.6 750.7C810.0 756.7 809.4 762.7 809.8 772.4C810.2 782.1 810.7 796.6 811.1 808.7C811.5 820.8 811.7 833.8 812.3 844.9C812.9 856.0 813.1 866.0 814.7 875.1C816.3 884.2 818.3 892.2 821.9 899.2C825.5 906.2 831.0 912.9 836.4 917.3C841.8 921.7 847.5 924.2 854.5 925.8C861.5 927.4 872.7 928.0 878.7 927.0C884.7 926.0 887.5 923.4 890.7 919.8C893.9 916.2 896.2 911.8 898.0 905.3C899.8 898.8 900.4 891.2 901.6 881.1C902.8 871.0 904.2 856.0 905.2 844.9C906.2 833.8 907.4 821.8 907.6 814.7C907.8 807.7 907.6 806.0 906.4 802.6C905.2 799.2 903.0 797.2 900.4 794.2C897.8 791.2 895.3 788.1 890.7 784.5C886.1 780.9 878.6 776.4 872.6 772.4C866.6 768.4 860.5 763.4 854.5 760.4C848.5 757.4 842.4 754.7 836.4 754.3C830.4 753.9 824.3 755.8 818.3 758.0C812.3 760.2 806.2 764.8 800.2 767.6C794.2 770.4 787.1 773.2 782.1 774.9C777.1 776.5 774.1 777.5 770.0 777.5C765.9 777.5 761.4 776.5 757.2 774.9C753.1 773.2 749.1 771.0 745.1 767.6C741.1 764.2 737.0 758.3 733.0 754.3C729.0 750.3 724.9 746.5 720.9 743.5C716.9 740.5 713.9 737.6 708.9 736.2C703.9 734.8 695.7 734.4 690.7 735.0C685.7 735.6 681.7 737.0 678.7 739.8C675.7 742.6 673.8 746.5 672.6 751.9C671.4 757.3 671.8 764.9 671.4 772.4C671.0 779.9 671.0 789.4 670.2 796.6C669.4 803.9 668.0 809.9 666.6 815.9C665.2 821.9 663.8 826.6 661.8 832.8C659.8 839.0 657.7 846.8 654.5 853.3C651.3 859.8 646.8 866.5 642.4 871.5C638.0 876.5 632.2 880.3 628.0 883.5C623.8 886.7 619.5 887.6 617.1 890.8C614.7 894.0 612.9 898.6 613.5 902.8C614.1 907.0 616.9 913.1 620.7 916.1C624.5 919.1 629.8 920.2 636.4 921.0C643.0 921.8 652.5 921.6 660.6 921.0C668.7 920.4 676.7 919.1 684.7 917.3C692.8 915.5 701.9 913.3 708.9 910.1C715.9 906.9 721.0 901.6 727.0 898.0C733.0 894.4 739.1 890.8 745.1 888.4C751.1 886.0 755.7 884.7 763.2 883.5C770.7 882.3 781.8 883.1 790.0 881.1C798.2 879.1 808.6 873.1 812.3 871.5" fill="none" stroke="#b0601f" stroke-width="9.2" stroke-linecap="round" stroke-linejoin="round"/>
<path d="M704.0 726.0C706.8 725.5 713.1 724.0 721.0 723.0C728.9 722.0 742.9 720.1 751.1 719.9C759.3 719.7 763.8 721.1 770.0 722.0C776.2 722.9 782.9 723.0 788.1 725.4C793.3 727.8 798.0 732.0 801.4 736.2C804.8 740.4 807.2 744.7 808.6 750.7C810.0 756.7 809.4 762.7 809.8 772.4C810.2 782.1 810.7 796.6 811.1 808.7C811.5 820.8 811.7 833.8 812.3 844.9C812.9 856.0 813.1 866.0 814.7 875.1C816.3 884.2 818.3 892.2 821.9 899.2C825.5 906.2 831.0 912.9 836.4 917.3C841.8 921.7 847.5 924.2 854.5 925.8C861.5 927.4 872.7 928.0 878.7 927.0C884.7 926.0 887.5 923.4 890.7 919.8C893.9 916.2 896.2 911.8 898.0 905.3C899.8 898.8 900.4 891.2 901.6 881.1C902.8 871.0 904.2 856.0 905.2 844.9C906.2 833.8 907.4 821.8 907.6 814.7C907.8 807.7 907.6 806.0 906.4 802.6C905.2 799.2 903.0 797.2 900.4 794.2C897.8 791.2 895.3 788.1 890.7 784.5C886.1 780.9 878.6 776.4 872.6 772.4C866.6 768.4 860.5 763.4 854.5 760.4C848.5 757.4 842.4 754.7 836.4 754.3C830.4 753.9 824.3 755.8 818.3 758.0C812.3 760.2 806.2 764.8 800.2 767.6C794.2 770.4 787.1 773.2 782.1 774.9C777.1 776.5 774.1 777.5 770.0 777.5C765.9 777.5 761.4 776.5 757.2 774.9C753.1 773.2 749.1 771.0 745.1 767.6C741.1 764.2 737.0 758.3 733.0 754.3C729.0 750.3 724.9 746.5 720.9 743.5C716.9 740.5 713.9 737.6 708.9 736.2C703.9 734.8 695.7 734.4 690.7 735.0C685.7 735.6 681.7 737.0 678.7 739.8C675.7 742.6 673.8 746.5 672.6 751.9C671.4 757.3 671.8 764.9 671.4 772.4C671.0 779.9 671.0 789.4 670.2 796.6C669.4 803.9 668.0 809.9 666.6 815.9C665.2 821.9 663.8 826.6 661.8 832.8C659.8 839.0 657.7 846.8 654.5 853.3C651.3 859.8 646.8 866.5 642.4 871.5C638.0 876.5 632.2 880.3 628.0 883.5C623.8 886.7 619.5 887.6 617.1 890.8C614.7 894.0 612.9 898.6 613.5 902.8C614.1 907.0 616.9 913.1 620.7 916.1C624.5 919.1 629.8 920.2 636.4 921.0C643.0 921.8 652.5 921.6 660.6 921.0C668.7 920.4 676.7 919.1 684.7 917.3C692.8 915.5 701.9 913.3 708.9 910.1C715.9 906.9 721.0 901.6 727.0 898.0C733.0 894.4 739.1 890.8 745.1 888.4C751.1 886.0 755.7 884.7 763.2 883.5C770.7 882.3 781.8 883.1 790.0 881.1C798.2 879.1 808.6 873.1 812.3 871.5" fill="none" stroke="#de8932" stroke-width="5.7" stroke-linecap="round" stroke-linejoin="round"/>
<path d="M704.0 726.0C706.8 725.5 713.1 724.0 721.0 723.0C728.9 722.0 742.9 720.1 751.1 719.9C759.3 719.7 763.8 721.1 770.0 722.0C776.2 722.9 782.9 723.0 788.1 725.4C793.3 727.8 798.0 732.0 801.4 736.2C804.8 740.4 807.2 744.7 808.6 750.7C810.0 756.7 809.4 762.7 809.8 772.4C810.2 782.1 810.7 796.6 811.1 808.7C811.5 820.8 811.7 833.8 812.3 844.9C812.9 856.0 813.1 866.0 814.7 875.1C816.3 884.2 818.3 892.2 821.9 899.2C825.5 906.2 831.0 912.9 836.4 917.3C841.8 921.7 847.5 924.2 854.5 925.8C861.5 927.4 872.7 928.0 878.7 927.0C884.7 926.0 887.5 923.4 890.7 919.8C893.9 916.2 896.2 911.8 898.0 905.3C899.8 898.8 900.4 891.2 901.6 881.1C902.8 871.0 904.2 856.0 905.2 844.9C906.2 833.8 907.4 821.8 907.6 814.7C907.8 807.7 907.6 806.0 906.4 802.6C905.2 799.2 903.0 797.2 900.4 794.2C897.8 791.2 895.3 788.1 890.7 784.5C886.1 780.9 878.6 776.4 872.6 772.4C866.6 768.4 860.5 763.4 854.5 760.4C848.5 757.4 842.4 754.7 836.4 754.3C830.4 753.9 824.3 755.8 818.3 758.0C812.3 760.2 806.2 764.8 800.2 767.6C794.2 770.4 787.1 773.2 782.1 774.9C777.1 776.5 774.1 777.5 770.0 777.5C765.9 777.5 761.4 776.5 757.2 774.9C753.1 773.2 749.1 771.0 745.1 767.6C741.1 764.2 737.0 758.3 733.0 754.3C729.0 750.3 724.9 746.5 720.9 743.5C716.9 740.5 713.9 737.6 708.9 736.2C703.9 734.8 695.7 734.4 690.7 735.0C685.7 735.6 681.7 737.0 678.7 739.8C675.7 742.6 673.8 746.5 672.6 751.9C671.4 757.3 671.8 764.9 671.4 772.4C671.0 779.9 671.0 789.4 670.2 796.6C669.4 803.9 668.0 809.9 666.6 815.9C665.2 821.9 663.8 826.6 661.8 832.8C659.8 839.0 657.7 846.8 654.5 853.3C651.3 859.8 646.8 866.5 642.4 871.5C638.0 876.5 632.2 880.3 628.0 883.5C623.8 886.7 619.5 887.6 617.1 890.8C614.7 894.0 612.9 898.6 613.5 902.8C614.1 907.0 616.9 913.1 620.7 916.1C624.5 919.1 629.8 920.2 636.4 921.0C643.0 921.8 652.5 921.6 660.6 921.0C668.7 920.4 676.7 919.1 684.7 917.3C692.8 915.5 701.9 913.3 708.9 910.1C715.9 906.9 721.0 901.6 727.0 898.0C733.0 894.4 739.1 890.8 745.1 888.4C751.1 886.0 755.7 884.7 763.2 883.5C770.7 882.3 781.8 883.1 790.0 881.1C798.2 879.1 808.6 873.1 812.3 871.5" fill="none" stroke="#f0b259" stroke-width="1.8" stroke-linecap="round" stroke-linejoin="round" transform="translate(-0.6 -1)"/>
<path d="M738.8 813.8l-5.1 -0.7M744.4 825.8l5.7 0.8M742.8 838.5l5.7 0.6M742.9 849.8l4.9 -0.6M740.6 862.5l-3.9 2.9M754.4 863.2l1.3 -4.9M766.4 869.7l1.1 5.7M778.3 865.3l2.6 5.2M788.9 860.7l1.1 4.3M800.4 854.1l0.8 -3.8M806.2 866.2l-4.0 2.9" stroke="#c8844a" stroke-width="1.1" fill="none" stroke-linecap="round"/>
<path d="M743.9 802.6C743.5 805.6 742.3 813.7 741.5 820.7C740.7 827.8 738.8 838.5 739.0 844.9C739.2 851.3 740.3 855.8 742.7 859.4C745.1 863.0 749.1 865.6 753.5 866.6C757.9 867.6 763.4 867.0 769.2 865.4C775.0 863.8 782.3 858.4 788.1 857.3C793.9 856.2 799.8 857.0 803.8 859.0C807.8 861.0 810.9 867.3 812.3 869.0" fill="none" stroke="#b0601f" stroke-width="9.2" stroke-linecap="round" stroke-linejoin="round"/>
<path d="M743.9 802.6C743.5 805.6 742.3 813.7 741.5 820.7C740.7 827.8 738.8 838.5 739.0 844.9C739.2 851.3 740.3 855.8 742.7 859.4C745.1 863.0 749.1 865.6 753.5 866.6C757.9 867.6 763.4 867.0 769.2 865.4C775.0 863.8 782.3 858.4 788.1 857.3C793.9 856.2 799.8 857.0 803.8 859.0C807.8 861.0 810.9 867.3 812.3 869.0" fill="none" stroke="#de8932" stroke-width="5.7" stroke-linecap="round" stroke-linejoin="round"/>
<path d="M743.9 802.6C743.5 805.6 742.3 813.7 741.5 820.7C740.7 827.8 738.8 838.5 739.0 844.9C739.2 851.3 740.3 855.8 742.7 859.4C745.1 863.0 749.1 865.6 753.5 866.6C757.9 867.6 763.4 867.0 769.2 865.4C775.0 863.8 782.3 858.4 788.1 857.3C793.9 856.2 799.8 857.0 803.8 859.0C807.8 861.0 810.9 867.3 812.3 869.0" fill="none" stroke="#f0b259" stroke-width="1.8" stroke-linecap="round" stroke-linejoin="round" transform="translate(-0.6 -1)"/>
<path d="M704.0 726.0L721.0 723.0" fill="none" stroke="#c8506a" stroke-width="6" stroke-linecap="round" stroke-linejoin="round"/>
<path d="M743.9 802.6L742.2 815.0" fill="none" stroke="#c8506a" stroke-width="6" stroke-linecap="round" stroke-linejoin="round"/>
<path d="M666.0 815.0L661.8 832.8" fill="none" stroke="#8a5a3a" stroke-width="5" stroke-linecap="round" stroke-linejoin="round"/>
<path d="M664.0 771.2L677.0 781.9M658.1 778.1L674.3 786.6M663.7 776.4l4.8 -7.3M660.3 774.2l5.0 -7.6M668.5 779.6l4.7 -7.1M665.2 777.4l4.2 -6.3" stroke="#3f8a7a" stroke-width="1.6" fill="none" stroke-linecap="round" opacity="0.9"/>
<path d="M657.0 772.0L676.0 784.5" stroke="#3fa34d" stroke-width="6.0" stroke-linecap="round"/>
<path d="M631.4 871.3L635.2 878.3M624.2 876.8L631.5 882.3M627.9 874.2l-4.0 3.6M629.9 876.4l5.4 -4.8" stroke="#4a6fa0" stroke-width="1.6" fill="none" stroke-linecap="round" opacity="0.9"/>
<path d="M625.5 871.5L634.0 881.0" stroke="#3fa34d" stroke-width="6.0" stroke-linecap="round"/>
<path d="M705.2 895.8L711.8 899.6M700.0 903.7L710.8 904.9M712.0 902.4l2.1 -7.4M706.2 900.8l2.0 -6.9M705.2 900.5l1.5 -5.2" stroke="#4a6fa0" stroke-width="1.6" fill="none" stroke-linecap="round" opacity="0.9"/>
<path d="M700.0 899.0L714.0 903.0" stroke="#1f3340" stroke-width="4.8" stroke-linecap="round"/>
</g>
<g>
<path d="M1403.5 713.9L1399.7 719.4L1393.0 718.9L1390.1 712.9L1393.9 707.3L1400.6 707.8ZM1403.5 713.9L1408.2 714.2" fill="none" stroke="#6fbf6a" stroke-width="1.5" stroke-linejoin="round" opacity="0.85"/>
<path d="M1351.1 834.1L1347.2 832.5L1346.6 828.3L1349.9 825.8L1353.8 827.3L1354.4 831.5ZM1349.9 825.8L1349.5 822.9" fill="none" stroke="#4fa04f" stroke-width="1.5" stroke-linejoin="round" opacity="0.85"/>
<path d="M1337.8 828.6L1338.8 823.9L1343.4 822.4L1347.0 825.7L1346.0 830.4L1341.4 831.8ZM1343.4 822.4L1344.1 819.1" fill="none" stroke="#4a6fa0" stroke-width="1.5" stroke-linejoin="round" opacity="0.85"/>
<path d="M1374.7 800.2L1374.2 793.9L1379.4 790.3L1385.2 793.1L1385.6 799.4L1380.4 803.0ZM1374.7 800.2L1371.0 802.8" fill="none" stroke="#4a6fa0" stroke-width="1.5" stroke-linejoin="round" opacity="0.85"/>
<path d="M1345.2 713.4L1340.9 717.1L1335.7 715.2L1334.6 709.7L1338.9 706.1L1344.2 708.0ZM1344.2 708.0L1347.1 705.4" fill="none" stroke="#6f9e4f" stroke-width="1.5" stroke-linejoin="round" opacity="0.85"/>
<path d="M1400.2 768.6L1396.6 771.5L1392.3 769.8L1391.6 765.3L1395.2 762.4L1399.5 764.1ZM1391.6 765.3L1388.6 764.1" fill="none" stroke="#4a6fa0" stroke-width="1.5" stroke-linejoin="round" opacity="0.85"/>
<path d="M1382.8 811.4L1376.7 808.8L1375.9 802.2L1381.3 798.2L1387.4 800.9L1388.1 807.5ZM1381.3 798.2L1380.8 793.6" fill="none" stroke="#4a6fa0" stroke-width="1.5" stroke-linejoin="round" opacity="0.85"/>
<path d="M1368.0 792.8L1364.5 790.9L1364.3 786.9L1367.7 784.8L1371.3 786.7L1371.4 790.7ZM1371.4 790.7L1373.9 792.0" fill="none" stroke="#6f9e4f" stroke-width="1.5" stroke-linejoin="round" opacity="0.85"/>
<path d="M1350.7 740.6L1346.6 744.9L1340.7 743.5L1339.0 737.7L1343.2 733.4L1349.0 734.8ZM1343.2 733.4L1342.0 729.4" fill="none" stroke="#4fa04f" stroke-width="1.5" stroke-linejoin="round" opacity="0.85"/>
<path d="M1354.1 734.8L1350.3 728.5L1353.8 722.0L1361.2 721.9L1365.0 728.2L1361.4 734.6ZM1353.8 722.0L1351.2 717.6" fill="none" stroke="#6fbf6a" stroke-width="1.5" stroke-linejoin="round" opacity="0.85"/>
<path d="M1338.3 770.4L1332.7 766.8L1332.9 760.1L1338.9 757.0L1344.5 760.6L1344.3 767.3ZM1344.3 767.3L1348.2 769.8" fill="none" stroke="#3f8a7a" stroke-width="1.5" stroke-linejoin="round" opacity="0.85"/>
<path d="M1343.8 732.3L1338.1 735.9L1332.1 732.6L1332.0 725.8L1337.7 722.3L1343.7 725.6ZM1337.7 722.3L1337.6 717.6" fill="none" stroke="#3f8a7a" stroke-width="1.5" stroke-linejoin="round" opacity="0.85"/>
<path d="M1381.6 757.0L1377.3 755.2L1376.8 750.5L1380.6 747.8L1384.8 749.7L1385.3 754.3ZM1385.3 754.3L1388.3 755.6" fill="none" stroke="#6f9e4f" stroke-width="1.5" stroke-linejoin="round" opacity="0.85"/>
<path d="M1335.6 734.9L1334.1 730.9L1336.9 727.7L1341.1 728.4L1342.5 732.4L1339.8 735.7ZM1335.6 734.9L1333.6 737.2" fill="none" stroke="#6f9e4f" stroke-width="1.5" stroke-linejoin="round" opacity="0.85"/>
<path d="M1367.0 745.8L1361.8 740.5L1363.8 733.4L1371.0 731.6L1376.1 736.9L1374.1 744.0ZM1367.0 745.8L1365.6 750.8" fill="none" stroke="#6f9e4f" stroke-width="1.5" stroke-linejoin="round" opacity="0.85"/>
<path d="M1432.7 783.5L1428.5 784.4L1425.7 781.3L1427.0 777.2L1431.2 776.3L1434.0 779.5ZM1431.2 776.3L1432.1 773.5" fill="none" stroke="#6f9e4f" stroke-width="1.5" stroke-linejoin="round" opacity="0.85"/>
<path d="M1456.4 827.2L1457.4 822.3L1462.1 820.8L1465.8 824.1L1464.7 829.0L1460.0 830.5ZM1457.4 822.3L1454.8 820.0" fill="none" stroke="#4a6fa0" stroke-width="1.5" stroke-linejoin="round" opacity="0.85"/>
<path d="M1452.8 879.2L1446.7 881.0L1442.1 876.6L1443.6 870.4L1449.7 868.6L1454.3 873.0ZM1446.7 881.0L1445.7 885.3" fill="none" stroke="#4a6fa0" stroke-width="1.5" stroke-linejoin="round" opacity="0.85"/>
<path d="M1411.3 788.5L1406.9 784.1L1408.5 778.0L1414.5 776.4L1419.0 780.8L1417.4 786.9ZM1414.5 776.4L1415.6 772.1" fill="none" stroke="#6f9e4f" stroke-width="1.5" stroke-linejoin="round" opacity="0.85"/>
<path d="M1450.6 774.9L1452.6 769.5L1458.2 768.6L1461.8 773.0L1459.8 778.3L1454.2 779.2ZM1452.6 769.5L1450.1 766.5" fill="none" stroke="#3f8a7a" stroke-width="1.5" stroke-linejoin="round" opacity="0.85"/>
<path d="M1453.0 875.3L1447.0 877.2L1442.3 873.0L1443.6 866.8L1449.6 864.9L1454.3 869.1ZM1449.6 864.9L1450.5 860.5" fill="none" stroke="#6f9e4f" stroke-width="1.5" stroke-linejoin="round" opacity="0.85"/>
<path d="M1447.5 850.6L1442.0 845.8L1443.3 838.6L1450.2 836.2L1455.8 841.0L1454.5 848.2ZM1455.8 841.0L1460.7 839.3" fill="none" stroke="#6f9e4f" stroke-width="1.5" stroke-linejoin="round" opacity="0.85"/>
<path d="M1427.6 841.1L1427.8 834.1L1434.0 830.7L1440.0 834.4L1439.8 841.5L1433.6 844.8ZM1434.0 830.7L1434.1 825.8" fill="none" stroke="#3f8a7a" stroke-width="1.5" stroke-linejoin="round" opacity="0.85"/>
<path d="M1434.0 770.6L1433.4 764.4L1438.5 760.8L1444.2 763.4L1444.8 769.6L1439.7 773.2ZM1439.7 773.2L1440.1 777.5" fill="none" stroke="#3f8a7a" stroke-width="1.5" stroke-linejoin="round" opacity="0.85"/>
<path d="M1446.3 784.8L1444.1 778.2L1448.7 773.0L1455.5 774.4L1457.7 781.0L1453.1 786.2ZM1457.7 781.0L1462.4 782.0" fill="none" stroke="#4fa04f" stroke-width="1.5" stroke-linejoin="round" opacity="0.85"/>
<path d="M1428.6 784.9L1424.7 789.5L1418.8 788.4L1416.8 782.8L1420.7 778.2L1426.6 779.3ZM1416.8 782.8L1412.7 782.0" fill="none" stroke="#6f9e4f" stroke-width="1.5" stroke-linejoin="round" opacity="0.85"/>
<path d="M1413.7 782.3L1411.9 778.1L1414.6 774.5L1419.0 775.0L1420.8 779.2L1418.1 782.8ZM1413.7 782.3L1411.8 784.8" fill="none" stroke="#6f9e4f" stroke-width="1.5" stroke-linejoin="round" opacity="0.85"/>
<path d="M1440.4 786.6L1436.1 791.7L1429.4 790.6L1427.1 784.3L1431.4 779.1L1438.0 780.2ZM1440.4 786.6L1445.0 787.4" fill="none" stroke="#4fa04f" stroke-width="1.5" stroke-linejoin="round" opacity="0.85"/>
<path d="M1457.3 832.3L1459.4 828.5L1463.8 828.3L1466.1 832.1L1464.1 836.0L1459.7 836.1ZM1463.8 828.3L1465.3 825.6" fill="none" stroke="#4fa04f" stroke-width="1.5" stroke-linejoin="round" opacity="0.85"/>
<path d="M1428.6 866.7L1428.6 861.0L1433.5 858.1L1438.5 860.9L1438.5 866.6L1433.6 869.5ZM1438.5 866.6L1442.0 868.6" fill="none" stroke="#3f8a7a" stroke-width="1.5" stroke-linejoin="round" opacity="0.85"/>
<path d="M1541.1 838.2L1534.3 839.4L1529.8 834.0L1532.3 827.5L1539.1 826.4L1543.5 831.7ZM1539.1 826.4L1540.8 821.8" fill="none" stroke="#7f9fc0" stroke-width="1.5" stroke-linejoin="round" opacity="0.85"/>
<path d="M1604.1 848.9L1599.1 850.6L1595.2 847.2L1596.1 842.0L1601.1 840.3L1605.1 843.7ZM1605.1 843.7L1608.6 842.5" fill="none" stroke="#7f9fc0" stroke-width="1.5" stroke-linejoin="round" opacity="0.85"/>
<path d="M1647.4 830.3L1647.0 825.8L1650.7 823.3L1654.7 825.1L1655.1 829.6L1651.5 832.2ZM1651.5 832.2L1651.8 835.3" fill="none" stroke="#7f9fc0" stroke-width="1.5" stroke-linejoin="round" opacity="0.85"/>
<path d="M1622.3 804.3L1615.6 803.5L1612.9 797.3L1617.0 791.9L1623.7 792.7L1626.3 798.9ZM1617.0 791.9L1615.2 787.5" fill="none" stroke="#7f9fc0" stroke-width="1.5" stroke-linejoin="round" opacity="0.85"/>
<path d="M1533.8 794.4L1532.0 789.6L1535.3 785.7L1540.4 786.6L1542.1 791.4L1538.8 795.3ZM1538.8 795.3L1540.0 798.7" fill="none" stroke="#5f9f9f" stroke-width="1.5" stroke-linejoin="round" opacity="0.85"/>
<path d="M1657.0 808.2L1652.8 812.7L1646.9 811.3L1645.2 805.5L1649.3 801.0L1655.2 802.4ZM1649.3 801.0L1648.1 797.0" fill="none" stroke="#7f9fc0" stroke-width="1.5" stroke-linejoin="round" opacity="0.85"/>
<path d="M1496.5 847.1L1491.7 841.8L1493.9 835.0L1500.9 833.5L1505.7 838.8L1503.4 845.6ZM1496.5 847.1L1494.9 851.8" fill="none" stroke="#8fcf7f" stroke-width="1.5" stroke-linejoin="round" opacity="0.85"/>
<path d="M1656.8 819.7L1656.3 813.8L1661.3 810.4L1666.6 813.0L1667.1 819.0L1662.2 822.3ZM1666.6 813.0L1670.1 810.7" fill="none" stroke="#7f9fc0" stroke-width="1.5" stroke-linejoin="round" opacity="0.85"/>
<path d="M1628.0 799.1L1623.3 801.5L1618.9 798.5L1619.2 793.3L1623.9 790.9L1628.3 793.8ZM1618.9 798.5L1615.6 800.2" fill="none" stroke="#8fcf7f" stroke-width="1.5" stroke-linejoin="round" opacity="0.85"/>
<path d="M1530.7 800.1L1525.2 799.1L1523.4 793.9L1527.0 789.7L1532.4 790.7L1534.3 795.9ZM1525.2 799.1L1522.7 802.1" fill="none" stroke="#6fae8f" stroke-width="1.5" stroke-linejoin="round" opacity="0.85"/>
<path d="M1492.9 845.0L1489.2 843.1L1489.0 838.9L1492.5 836.7L1496.2 838.6L1496.4 842.8ZM1492.5 836.7L1492.4 833.8" fill="none" stroke="#7f9fc0" stroke-width="1.5" stroke-linejoin="round" opacity="0.85"/>
<path d="M1668.6 830.3L1664.8 834.4L1659.2 833.2L1657.5 827.8L1661.4 823.6L1666.9 824.9ZM1659.2 833.2L1656.5 836.1" fill="none" stroke="#8fcf7f" stroke-width="1.5" stroke-linejoin="round" opacity="0.85"/>
<path d="M1535.4 831.6L1534.6 825.1L1539.7 821.2L1545.8 823.6L1546.6 830.1L1541.5 834.1ZM1545.8 823.6L1549.4 820.9" fill="none" stroke="#5f9f9f" stroke-width="1.5" stroke-linejoin="round" opacity="0.85"/>
<path d="M1506.4 869.5L1503.4 873.4L1498.6 872.8L1496.7 868.2L1499.7 864.4L1504.5 865.0ZM1503.4 873.4L1504.7 876.6" fill="none" stroke="#6fae8f" stroke-width="1.5" stroke-linejoin="round" opacity="0.85"/>
<path d="M1653.8 800.6L1651.8 796.9L1654.0 793.4L1658.2 793.5L1660.1 797.2L1657.9 800.7ZM1658.2 793.5L1659.7 791.0" fill="none" stroke="#7f9fc0" stroke-width="1.5" stroke-linejoin="round" opacity="0.85"/>
<path d="M1545.9 811.6L1542.2 817.2L1535.5 816.8L1532.5 810.8L1536.3 805.2L1542.9 805.6ZM1536.3 805.2L1534.2 801.0" fill="none" stroke="#7f9fc0" stroke-width="1.5" stroke-linejoin="round" opacity="0.85"/>
<path d="M1563.9 852.8L1560.6 856.7L1555.6 855.9L1553.9 851.1L1557.1 847.2L1562.1 848.0ZM1557.1 847.2L1555.9 843.8" fill="none" stroke="#8fcf7f" stroke-width="1.5" stroke-linejoin="round" opacity="0.85"/>
<path d="M1618.3 806.3L1614.3 801.1L1616.7 795.0L1623.2 794.1L1627.2 799.3L1624.8 805.4ZM1624.8 805.4L1627.6 809.0" fill="none" stroke="#7f9fc0" stroke-width="1.5" stroke-linejoin="round" opacity="0.85"/>
<path d="M1593.2 831.2L1595.6 824.9L1602.3 823.9L1606.6 829.2L1604.1 835.5L1597.4 836.5ZM1602.3 823.9L1604.0 819.5" fill="none" stroke="#6fae8f" stroke-width="1.5" stroke-linejoin="round" opacity="0.85"/>
<path d="M1511.4 823.6L1505.5 825.0L1501.2 820.6L1502.9 814.8L1508.9 813.3L1513.1 817.7ZM1513.1 817.7L1517.2 816.7" fill="none" stroke="#6fae8f" stroke-width="1.5" stroke-linejoin="round" opacity="0.85"/>
<path d="M1536.3 860.4L1531.1 864.3L1525.1 861.8L1524.3 855.4L1529.4 851.4L1535.4 853.9ZM1536.3 860.4L1540.5 862.1" fill="none" stroke="#8fcf7f" stroke-width="1.5" stroke-linejoin="round" opacity="0.85"/>
<path d="M1545.7 804.5L1538.9 805.4L1534.6 800.0L1537.2 793.5L1544.1 792.6L1548.3 798.0ZM1537.2 793.5L1534.2 789.7" fill="none" stroke="#6fae8f" stroke-width="1.5" stroke-linejoin="round" opacity="0.85"/>
<path d="M1560.3 799.0L1558.5 795.2L1560.9 791.9L1565.0 792.2L1566.8 796.0L1564.4 799.4ZM1560.9 791.9L1559.7 789.2" fill="none" stroke="#7f9fc0" stroke-width="1.5" stroke-linejoin="round" opacity="0.85"/>
<path d="M1583.4 809.4L1579.0 806.7L1579.1 801.5L1583.6 799.0L1588.1 801.7L1588.0 806.9ZM1588.0 806.9L1591.1 808.8" fill="none" stroke="#7f9fc0" stroke-width="1.5" stroke-linejoin="round" opacity="0.85"/>
<path d="M1595.0 858.2L1596.4 853.8L1600.9 852.8L1604.1 856.2L1602.7 860.6L1598.1 861.6ZM1600.9 852.8L1601.9 849.7" fill="none" stroke="#8fcf7f" stroke-width="1.5" stroke-linejoin="round" opacity="0.85"/>
<path d="M1673.5 871.0L1671.5 867.2L1673.8 863.7L1678.0 863.9L1680.0 867.6L1677.7 871.2ZM1680.0 867.6L1682.9 867.8" fill="none" stroke="#7f9fc0" stroke-width="1.5" stroke-linejoin="round" opacity="0.85"/>
<path d="M1338.7 724.6L1365.8 719.9M1339.4 733.7L1364.6 725.7M1357.1 724.7l1.7 6.9M1345.3 727.6l2.1 8.6M1340.7 728.7l-1.8 -7.3M1348.2 726.9l-1.6 -6.6M1361.3 723.7l1.7 7.0M1339.5 729.0l-2.0 -8.1" stroke="#4fa04f" stroke-width="1.6" fill="none" stroke-linecap="round" opacity="0.9"/>
<path d="M1332.6 730.7L1367.6 722.2" stroke="#2b4a86" stroke-width="5.3999999999999995" stroke-linecap="round"/>
<path d="M1370.6 716.6L1400.1 709.9M1372.2 725.5L1407.9 713.2M1404.6 711.4l-2.3 -7.7M1381.5 718.1l2.3 8.0M1387.4 716.4l2.1 7.3M1374.9 720.1l2.6 8.7M1394.3 714.4l-2.4 -8.1M1396.0 713.9l2.4 8.2M1376.4 719.6l1.9 6.4" stroke="#6fbf6a" stroke-width="1.6" fill="none" stroke-linecap="round" opacity="0.9"/>
<path d="M1367.6 722.2L1388.1 716.2" stroke="#2d7d78" stroke-width="4.8" stroke-linecap="round"/>
<path d="M1388.1 716.2L1408.6 710.2" stroke="#3fa34d" stroke-width="4.8" stroke-linecap="round"/>
<path d="M1345.8 817.1L1376.2 833.6M1332.7 820.8L1382.0 842.4M1383.7 840.1l4.2 -8.8M1376.1 836.5l3.6 -7.5M1376.1 836.6l2.4 -5.0M1352.9 825.5l2.8 -6.0M1380.5 838.7l-2.4 5.1M1353.3 825.7l-3.9 8.3M1337.7 818.2l4.2 -8.9M1339.4 819.0l3.6 -7.5M1343.5 821.0l2.4 -5.0" stroke="#4fa04f" stroke-width="1.6" fill="none" stroke-linecap="round" opacity="0.9"/>
<path d="M1331.4 815.2L1359.2 828.5" stroke="#2b4a86" stroke-width="4.8" stroke-linecap="round"/>
<path d="M1359.2 828.5L1386.9 841.7" stroke="#2d7d78" stroke-width="4.8" stroke-linecap="round"/>
<path d="M1337.2 808.2L1369.6 797.8M1340.4 816.6L1370.1 803.4M1353.8 806.7l-2.6 -6.8M1360.3 804.2l-3.3 -8.7M1341.6 811.3l-3.2 -8.4M1378.0 797.5l3.4 9.0M1361.9 803.6l2.7 7.0M1355.3 806.1l-2.7 -7.2M1376.5 798.0l1.9 4.9M1343.6 810.5l2.6 6.9" stroke="#3f8a7a" stroke-width="1.6" fill="none" stroke-linecap="round" opacity="0.9"/>
<path d="M1331.4 815.2L1382.1 795.9" stroke="#2d7d78" stroke-width="4.2" stroke-linecap="round"/>
<path d="M1394.3 777.5L1393.8 814.3M1385.1 773.0L1388.7 821.8M1391.3 818.6l8.2 -0.3M1390.1 786.4l6.2 -0.2M1389.7 775.0l8.2 -0.3M1391.7 830.2l6.3 -0.2M1389.6 772.8l-6.7 0.2M1390.7 802.0l-5.2 0.2M1389.7 775.2l-7.9 0.3M1389.9 781.6l-6.2 0.2M1391.1 815.5l7.4 -0.3M1389.7 774.4l9.3 -0.3" stroke="#6fbf6a" stroke-width="1.6" fill="none" stroke-linecap="round" opacity="0.9"/>
<path d="M1389.3 764.5L1390.5 797.7" stroke="#3fa34d" stroke-width="5.3999999999999995" stroke-linecap="round"/>
<path d="M1390.5 797.7L1391.7 830.9" stroke="#3f6aa8" stroke-width="5.3999999999999995" stroke-linecap="round"/>
<path d="M1384.0 760.0L1385.0 792.5" stroke="#2e7d4a" stroke-width="3.5999999999999996" stroke-linecap="round"/>
<path d="M1385.0 792.5L1386.0 825.0" stroke="#2d7d78" stroke-width="3.5999999999999996" stroke-linecap="round"/>
<path d="M1395.0 762.0L1398.0 828.0" stroke="#3fa34d" stroke-width="3.5999999999999996" stroke-linecap="round"/>
<path d="M1444.5 736.8L1448.2 778.8M1436.0 741.4L1443.3 783.0M1443.0 760.3l-6.5 0.9M1447.7 795.1l-5.5 0.7M1444.7 773.0l6.1 -0.8M1444.1 768.6l-8.3 1.1M1442.5 755.9l-9.7 1.3M1446.9 789.2l8.2 -1.1M1447.8 796.4l-7.1 0.9M1445.1 776.1l-9.9 1.3M1445.7 780.3l9.7 -1.3M1444.8 773.2l6.8 -0.9M1447.7 795.6l8.8 -1.2" stroke="#3f8a7a" stroke-width="1.6" fill="none" stroke-linecap="round" opacity="0.9"/>
<path d="M1438.8 728.3L1443.6 764.5" stroke="#3fa34d" stroke-width="5.3999999999999995" stroke-linecap="round"/>
<path d="M1443.6 764.5L1448.4 800.7" stroke="#2d7d78" stroke-width="5.3999999999999995" stroke-linecap="round"/>
<path d="M1435.1 800.1L1424.9 843.5M1426.1 799.0L1418.3 849.5M1426.6 820.7l5.5 1.0M1429.2 806.8l-5.8 -1.1M1425.2 828.0l-8.2 -1.6M1422.1 844.1l5.2 1.0M1428.8 808.8l-5.0 -1.0M1424.2 833.0l-7.0 -1.3M1429.8 803.7l-9.3 -1.8M1425.0 828.7l-9.2 -1.8M1430.2 801.5l-5.3 -1.0M1422.9 839.7l6.3 1.2" stroke="#3f8a7a" stroke-width="1.6" fill="none" stroke-linecap="round" opacity="0.9"/>
<path d="M1432.7 788.6L1426.7 820.0" stroke="#2e7d4a" stroke-width="4.8" stroke-linecap="round"/>
<path d="M1426.7 820.0L1420.7 851.4" stroke="#2b4a86" stroke-width="4.8" stroke-linecap="round"/>
<path d="M1411.7 848.5L1422.1 858.7M1404.0 853.9L1418.9 863.0M1411.3 853.8l4.7 -6.1M1411.5 854.0l3.0 -4.0M1413.7 855.6l-5.0 6.5" stroke="#3f8a7a" stroke-width="1.6" fill="none" stroke-linecap="round" opacity="0.9"/>
<path d="M1405.0 849.0L1420.7 861.0" stroke="#3f6aa8" stroke-width="4.8" stroke-linecap="round"/>
<path d="M1432.3 867.9L1451.2 893.3M1425.3 873.6L1443.2 892.1M1426.6 868.1l4.0 -3.3M1449.7 895.7l-4.8 4.0M1424.6 865.6l7.0 -5.9M1427.4 869.0l4.2 -3.5M1442.6 887.3l6.3 -5.3M1427.4 869.1l6.9 -5.7M1446.6 892.0l-4.8 4.0" stroke="#6fbf6a" stroke-width="1.6" fill="none" stroke-linecap="round" opacity="0.9"/>
<path d="M1420.7 861.0L1435.8 879.1" stroke="#2d7d78" stroke-width="4.8" stroke-linecap="round"/>
<path d="M1435.8 879.1L1450.9 897.2" stroke="#3fa34d" stroke-width="4.8" stroke-linecap="round"/>
<path d="M1405.7 879.4L1412.7 862.4M1414.7 880.7L1417.3 865.8M1413.3 869.5l-7.6 -2.3M1414.0 867.1l5.9 1.8M1411.2 876.5l-9.4 -2.8M1411.4 875.9l-7.6 -2.3" stroke="#3f8a7a" stroke-width="1.6" fill="none" stroke-linecap="round" opacity="0.9"/>
<path d="M1408.6 885.2L1415.9 861.0" stroke="#3fa34d" stroke-width="4.8" stroke-linecap="round"/>
<path d="M1459.3 836.5L1476.9 843.2M1461.5 846.4L1477.7 849.0M1467.2 843.3l-2.5 8.9M1477.3 846.1l-2.5 9.1M1461.4 841.7l-1.4 5.0M1460.5 841.5l-1.6 6.0" stroke="#6fbf6a" stroke-width="1.6" fill="none" stroke-linecap="round" opacity="0.9"/>
<path d="M1456.9 840.5L1478.6 846.5" stroke="#1f3340" stroke-width="4.8" stroke-linecap="round"/>
<path d="M1487.0 814.6L1487.3 872.4M1478.3 823.5L1481.3 855.3M1482.9 824.9l8.0 -0.3M1483.4 840.0l-8.7 0.3M1483.5 842.7l5.1 -0.2M1482.7 819.3l-8.0 0.3M1483.7 848.1l9.4 -0.3M1484.2 861.6l-5.3 0.2M1484.4 866.2l5.1 -0.2M1482.4 813.6l-6.8 0.2M1484.0 855.5l-8.3 0.3M1484.2 862.0l-6.5 0.2" stroke="#4a6fa0" stroke-width="1.6" fill="none" stroke-linecap="round" opacity="0.9"/>
<path d="M1482.2 806.7L1483.4 839.9" stroke="#3fa34d" stroke-width="4.8" stroke-linecap="round"/>
<path d="M1483.4 839.9L1484.6 873.1" stroke="#2d7d78" stroke-width="4.8" stroke-linecap="round"/>
<path d="M1501.8 813.5L1506.4 861.7M1492.9 814.9L1501.2 863.6M1502.8 855.2l8.0 -1.1M1502.0 849.1l6.1 -0.8M1503.1 857.7l-6.2 0.8M1499.4 830.1l9.0 -1.2M1499.6 831.2l7.1 -1.0M1500.4 837.0l8.2 -1.1M1496.6 809.1l7.4 -1.0M1504.9 870.7l-9.7 1.3M1502.2 850.6l7.4 -1.0M1504.9 871.0l7.6 -1.0M1499.7 832.4l-7.3 1.0" stroke="#6fbf6a" stroke-width="1.6" fill="none" stroke-linecap="round" opacity="0.9"/>
<path d="M1495.5 800.7L1505.2 873.1" stroke="#2d7d78" stroke-width="4.8" stroke-linecap="round"/>
<path d="M1480.7 880.2L1502.3 877.9M1486.2 888.3L1508.4 882.2M1507.4 879.6l1.2 6.4M1487.0 883.6l-1.2 -6.4M1490.8 882.8l1.7 8.7M1508.1 879.5l1.4 7.3M1503.9 880.3l-1.3 -6.6" stroke="#6fbf6a" stroke-width="1.6" fill="none" stroke-linecap="round" opacity="0.9"/>
<path d="M1478.6 885.2L1510.0 879.1" stroke="#2b4a86" stroke-width="4.8" stroke-linecap="round"/>
<path d="M1502.4 818.2L1506.2 872.3M1492.7 811.6L1501.5 879.5M1502.1 859.1l7.9 -0.8M1497.3 813.0l9.9 -1.0M1498.0 819.2l7.9 -0.8M1499.7 835.8l5.6 -0.6M1499.3 832.6l-8.4 0.9M1500.7 845.4l-6.4 0.7M1499.6 835.0l-8.9 0.9M1502.9 867.2l9.7 -1.0M1500.4 842.6l8.0 -0.8M1500.5 843.9l-5.5 0.6M1502.7 864.9l6.5 -0.7M1498.2 821.5l9.2 -0.9" stroke="#4fa04f" stroke-width="1.6" fill="none" stroke-linecap="round" opacity="0.9"/>
<path d="M1495.9 799.2L1504.2 879.6" stroke="#2d7d78" stroke-width="4.8" stroke-linecap="round"/>
<path d="M1544.9 800.1L1537.2 833.3M1535.7 800.3L1532.7 827.6M1537.4 816.8l-8.6 -1.5M1539.6 804.3l-8.2 -1.5M1534.9 830.8l5.6 1.0M1535.0 830.1l5.1 0.9M1534.3 833.9l7.9 1.4M1537.7 814.9l-7.9 -1.4" stroke="#6fbf6a" stroke-width="1.6" fill="none" stroke-linecap="round" opacity="0.9"/>
<path d="M1540.9 796.8L1537.3 816.9" stroke="#3fa34d" stroke-width="5.3999999999999995" stroke-linecap="round"/>
<path d="M1537.3 816.9L1533.8 837.0" stroke="#1f3340" stroke-width="5.3999999999999995" stroke-linecap="round"/>
<path d="M1591.8 819.0L1594.9 857.6M1583.8 827.4L1590.2 863.5M1587.7 822.3l-5.6 0.7M1589.3 834.9l5.9 -0.7M1589.5 837.0l8.7 -1.1M1592.6 860.8l-5.3 0.7M1588.8 831.1l-8.3 1.1M1588.2 826.6l6.1 -0.8M1592.8 862.7l5.7 -0.7" stroke="#6fbf6a" stroke-width="1.6" fill="none" stroke-linecap="round" opacity="0.9"/>
<path d="M1587.0 816.9L1590.0 840.6" stroke="#2b4a86" stroke-width="5.3999999999999995" stroke-linecap="round"/>
<path d="M1590.0 840.6L1593.0 864.3" stroke="#2d7d78" stroke-width="5.3999999999999995" stroke-linecap="round"/>
<path d="M1646.7 800.1L1641.5 827.8M1637.9 798.2L1636.0 827.9M1638.5 829.8l-9.8 -1.2M1643.1 792.8l-5.7 -0.7M1638.0 834.2l-6.4 -0.8M1641.1 808.6l-9.5 -1.2M1639.1 824.9l7.0 0.9M1642.2 800.3l-7.0 -0.9M1640.0 818.2l6.2 0.8" stroke="#4fa04f" stroke-width="1.6" fill="none" stroke-linecap="round" opacity="0.9"/>
<path d="M1643.8 787.3L1640.8 811.0" stroke="#3fa34d" stroke-width="5.3999999999999995" stroke-linecap="round"/>
<path d="M1640.8 811.0L1637.9 834.7" stroke="#2b4a86" stroke-width="5.3999999999999995" stroke-linecap="round"/>
<path d="M1605.1 864.8L1615.0 864.0M1604.6 874.3L1615.7 869.4M1619.6 865.6l1.4 5.1M1614.7 866.9l2.5 9.4M1614.8 866.9l-2.1 -8.0" stroke="#6fbf6a" stroke-width="1.6" fill="none" stroke-linecap="round" opacity="0.9"/>
<path d="M1602.4 870.2L1620.2 865.4" stroke="#2b4a86" stroke-width="4.8" stroke-linecap="round"/>
<path d="M1495.1 877.0L1509.6 877.3M1494.2 886.1L1512.4 882.4M1496.3 881.4l1.0 9.5M1500.5 880.9l-0.7 -6.9M1508.2 880.2l-0.6 -5.9M1508.8 880.1l0.8 7.8" stroke="#4a6fa0" stroke-width="1.6" fill="none" stroke-linecap="round" opacity="0.9"/>
<path d="M1490.0 882.0L1513.7 879.6" stroke="#2b4a86" stroke-width="4.8" stroke-linecap="round"/>
<path d="M1407.0 700.1l-1.4 -4.0M1418.8 697.5l-0.8 -5.6M1432.2 696.6l-0.1 -5.4M1444.9 698.7l1.4 -3.5M1449.0 711.3l-4.9 2.7M1456.8 721.8l5.4 0.2M1455.7 733.7l4.2 0.4" stroke="#c8844a" stroke-width="1.1" fill="none" stroke-linecap="round"/>
<path d="M1396.5 707.8C1399.5 706.8 1407.5 702.9 1414.6 701.7C1421.6 700.5 1432.8 699.5 1438.8 700.5C1444.8 701.5 1448.5 704.8 1450.9 707.8C1453.3 710.8 1453.1 714.2 1453.3 718.6C1453.5 723.0 1452.3 731.7 1452.1 734.3" fill="none" stroke="#b0601f" stroke-width="9.2" stroke-linecap="round" stroke-linejoin="round"/>
<path d="M1396.5 707.8C1399.5 706.8 1407.5 702.9 1414.6 701.7C1421.6 700.5 1432.8 699.5 1438.8 700.5C1444.8 701.5 1448.5 704.8 1450.9 707.8C1453.3 710.8 1453.1 714.2 1453.3 718.6C1453.5 723.0 1452.3 731.7 1452.1 734.3" fill="none" stroke="#de8932" stroke-width="5.7" stroke-linecap="round" stroke-linejoin="round"/>
<path d="M1396.5 707.8C1399.5 706.8 1407.5 702.9 1414.6 701.7C1421.6 700.5 1432.8 699.5 1438.8 700.5C1444.8 701.5 1448.5 704.8 1450.9 707.8C1453.3 710.8 1453.1 714.2 1453.3 718.6C1453.5 723.0 1452.3 731.7 1452.1 734.3" fill="none" stroke="#f0b259" stroke-width="1.8" stroke-linecap="round" stroke-linejoin="round" transform="translate(-0.6 -1)"/>
<path d="M1452.1 734.3C1451.8 738.6 1451.5 750.7 1450.5 760.0C1449.5 769.3 1446.8 785.0 1446.0 790.0" fill="none" stroke="#3f9a4a" stroke-width="6" stroke-linecap="round" stroke-linejoin="round"/>
<path d="M1384.0 748.8l1.2 -3.9M1395.3 752.8l1.4 -3.5M1402.2 764.2l-2.1 3.8M1412.0 770.1l-1.8 2.9M1426.8 771.8l3.4 -4.7M1431.5 784.5l-2.7 3.2M1444.4 786.5l2.3 -2.7M1449.2 800.3l-3.9 4.0M1457.2 808.8l-4.3 3.8M1469.4 813.3l3.9 -2.6M1475.2 824.6l4.2 -1.7M1472.6 838.9l-4.7 1.3M1475.2 849.7l-5.3 1.1M1476.9 861.0l-3.6 0.4M1484.7 871.6l4.6 0.0" stroke="#c8844a" stroke-width="1.1" fill="none" stroke-linecap="round"/>
<path d="M1372.4 748.8C1376.4 750.2 1388.5 753.4 1396.5 757.2C1404.5 761.0 1413.7 766.9 1420.7 771.7C1427.8 776.5 1433.2 781.4 1438.8 786.2C1444.4 791.0 1449.9 795.9 1454.5 800.7C1459.1 805.5 1463.3 810.2 1466.5 815.2C1469.7 820.2 1471.8 825.3 1473.8 830.9C1475.8 836.5 1477.4 843.0 1478.6 849.0C1479.8 855.0 1480.6 862.7 1481.0 867.1C1481.4 871.5 1481.0 874.1 1481.0 875.5" fill="none" stroke="#b0601f" stroke-width="9.2" stroke-linecap="round" stroke-linejoin="round"/>
<path d="M1372.4 748.8C1376.4 750.2 1388.5 753.4 1396.5 757.2C1404.5 761.0 1413.7 766.9 1420.7 771.7C1427.8 776.5 1433.2 781.4 1438.8 786.2C1444.4 791.0 1449.9 795.9 1454.5 800.7C1459.1 805.5 1463.3 810.2 1466.5 815.2C1469.7 820.2 1471.8 825.3 1473.8 830.9C1475.8 836.5 1477.4 843.0 1478.6 849.0C1479.8 855.0 1480.6 862.7 1481.0 867.1C1481.4 871.5 1481.0 874.1 1481.0 875.5" fill="none" stroke="#de8932" stroke-width="5.7" stroke-linecap="round" stroke-linejoin="round"/>
<path d="M1372.4 748.8C1376.4 750.2 1388.5 753.4 1396.5 757.2C1404.5 761.0 1413.7 766.9 1420.7 771.7C1427.8 776.5 1433.2 781.4 1438.8 786.2C1444.4 791.0 1449.9 795.9 1454.5 800.7C1459.1 805.5 1463.3 810.2 1466.5 815.2C1469.7 820.2 1471.8 825.3 1473.8 830.9C1475.8 836.5 1477.4 843.0 1478.6 849.0C1479.8 855.0 1480.6 862.7 1481.0 867.1C1481.4 871.5 1481.0 874.1 1481.0 875.5" fill="none" stroke="#f0b259" stroke-width="1.8" stroke-linecap="round" stroke-linejoin="round" transform="translate(-0.6 -1)"/>
<path d="M1476.0 846.0C1476.6 848.3 1478.7 855.1 1479.5 860.0C1480.3 864.9 1480.8 872.9 1481.0 875.5" fill="none" stroke="#c43a4a" stroke-width="6" stroke-linecap="round" stroke-linejoin="round"/>
<path d="M1372.4 748.8L1380.0 751.0" fill="none" stroke="#7a3a2a" stroke-width="7" stroke-linecap="round" stroke-linejoin="round"/>
<path d="M1403.6 790.6l-5.1 1.1M1405.2 803.2l-5.1 0.2M1411.5 815.6l3.9 0.4M1408.9 828.2l4.3 1.2M1397.5 838.6l-5.3 -2.3M1392.4 849.2l-3.7 -2.0M1391.2 862.6l4.1 2.8M1381.2 870.5l-4.8 -0.9M1381.8 883.2l-5.0 1.3M1393.5 891.5l4.0 -2.8M1401.5 898.4l2.2 -3.5M1410.9 902.3l1.3 -4.2M1422.6 904.3l0.3 -3.2M1433.7 911.7l0.1 3.6M1445.7 903.9l-0.4 -4.8M1458.8 909.5l0.8 5.7M1471.1 907.5l0.5 3.1M1482.6 899.0l-0.3 -3.4M1496.8 901.2l2.4 3.1M1505.1 891.2l3.1 2.2M1512.7 882.1l2.4 2.6M1521.7 875.3l3.1 4.3M1530.9 868.4l2.5 4.0M1539.8 866.3l0.0 3.5M1549.3 868.3l-1.2 3.0M1555.5 874.6l-4.4 2.4M1566.8 883.5l0.8 3.7M1578.1 877.1l2.7 4.6M1587.4 871.5l1.9 3.5M1594.0 860.4l-1.9 -3.3M1606.6 856.5l-0.5 -3.6M1618.3 862.9l-0.0 4.3M1631.6 858.0l1.1 -4.6M1642.3 867.7l-1.3 5.1M1656.0 863.1l0.4 -4.5M1666.8 863.2l-0.2 -5.3M1679.5 868.3l1.0 3.4M1690.0 859.1l2.9 1.7M1685.3 846.9l-4.1 0.5M1687.6 833.2l4.2 -1.9M1683.1 823.2l3.0 -1.3M1677.9 811.4l4.9 -2.3M1665.5 804.2l-4.8 3.3M1663.3 790.1l4.3 -3.8M1654.8 781.6l3.0 -3.3M1640.1 779.3l-2.3 3.8M1632.0 768.6l1.4 -4.9M1618.2 773.0l-0.6 4.1M1606.9 764.9l0.1 -4.0M1595.8 773.5l1.3 4.3M1583.3 772.2l-2.7 -4.9M1572.7 776.1l-1.5 -5.2M1562.8 785.9l0.8 3.3M1548.6 781.6l-0.8 -4.8M1535.2 790.1l0.3 3.6M1523.4 784.0l-0.3 -3.4M1510.3 785.5l-0.7 -4.5M1498.6 794.6l0.8 4.1M1484.6 792.2l-3.3 -4.7M1478.4 804.1l1.1 3.3M1464.6 800.8l-1.1 -4.0" stroke="#c8844a" stroke-width="1.1" fill="none" stroke-linecap="round"/>
<path d="M1403.8 776.5C1404.6 780.5 1408.2 792.7 1408.6 800.7C1409.0 808.8 1408.2 816.8 1406.2 824.8C1404.2 832.8 1399.7 842.6 1396.5 849.0C1393.3 855.4 1388.9 858.4 1386.9 863.4C1384.9 868.4 1383.7 873.9 1384.5 879.1C1385.3 884.3 1388.1 890.6 1391.7 894.8C1395.3 899.0 1400.4 902.3 1406.2 904.5C1412.0 906.7 1419.2 907.7 1426.7 908.1C1434.2 908.5 1442.9 907.7 1450.9 906.9C1459.0 906.1 1468.0 904.5 1475.0 903.3C1482.0 902.1 1487.6 903.1 1493.1 899.6C1498.6 896.1 1503.4 886.5 1507.8 882.0C1512.2 877.5 1515.7 875.5 1519.6 872.5C1523.5 869.5 1527.5 865.9 1531.4 864.3C1535.4 862.7 1539.3 862.5 1543.3 863.1C1547.2 863.7 1551.8 865.0 1555.1 867.8C1558.4 870.6 1560.5 878.6 1563.4 880.0C1566.4 881.4 1569.2 877.9 1572.8 876.1C1576.3 874.3 1581.2 871.0 1584.7 869.0C1588.2 867.0 1591.1 865.7 1594.1 864.3C1597.0 862.9 1598.1 861.5 1602.4 860.7C1606.8 859.9 1614.3 859.1 1620.2 859.5C1626.1 859.9 1632.0 861.9 1637.9 863.1C1643.8 864.3 1649.2 866.2 1655.7 866.6C1662.2 867.0 1671.9 866.8 1677.0 865.4C1682.1 864.0 1684.4 861.4 1686.4 858.3C1688.4 855.1 1689.6 851.4 1688.8 846.5C1688.0 841.6 1684.7 835.5 1681.7 828.8C1678.8 822.1 1675.4 813.2 1671.1 806.3C1666.8 799.4 1661.2 792.6 1655.7 787.3C1650.2 782.0 1644.8 777.3 1637.9 774.3C1631.0 771.2 1621.2 769.8 1614.3 769.0C1607.4 768.2 1602.4 768.1 1596.5 769.6C1590.6 771.1 1586.7 775.3 1578.8 777.9C1570.9 780.5 1560.0 783.2 1549.2 785.0C1538.4 786.8 1523.6 787.1 1513.7 788.5C1503.8 789.9 1495.5 791.5 1490.0 793.3C1484.5 795.1 1485.9 797.5 1481.0 799.5C1476.1 801.5 1463.9 804.5 1460.5 805.5" fill="none" stroke="#b0601f" stroke-width="9.2" stroke-linecap="round" stroke-linejoin="round"/>
<path d="M1403.8 776.5C1404.6 780.5 1408.2 792.7 1408.6 800.7C1409.0 808.8 1408.2 816.8 1406.2 824.8C1404.2 832.8 1399.7 842.6 1396.5 849.0C1393.3 855.4 1388.9 858.4 1386.9 863.4C1384.9 868.4 1383.7 873.9 1384.5 879.1C1385.3 884.3 1388.1 890.6 1391.7 894.8C1395.3 899.0 1400.4 902.3 1406.2 904.5C1412.0 906.7 1419.2 907.7 1426.7 908.1C1434.2 908.5 1442.9 907.7 1450.9 906.9C1459.0 906.1 1468.0 904.5 1475.0 903.3C1482.0 902.1 1487.6 903.1 1493.1 899.6C1498.6 896.1 1503.4 886.5 1507.8 882.0C1512.2 877.5 1515.7 875.5 1519.6 872.5C1523.5 869.5 1527.5 865.9 1531.4 864.3C1535.4 862.7 1539.3 862.5 1543.3 863.1C1547.2 863.7 1551.8 865.0 1555.1 867.8C1558.4 870.6 1560.5 878.6 1563.4 880.0C1566.4 881.4 1569.2 877.9 1572.8 876.1C1576.3 874.3 1581.2 871.0 1584.7 869.0C1588.2 867.0 1591.1 865.7 1594.1 864.3C1597.0 862.9 1598.1 861.5 1602.4 860.7C1606.8 859.9 1614.3 859.1 1620.2 859.5C1626.1 859.9 1632.0 861.9 1637.9 863.1C1643.8 864.3 1649.2 866.2 1655.7 866.6C1662.2 867.0 1671.9 866.8 1677.0 865.4C1682.1 864.0 1684.4 861.4 1686.4 858.3C1688.4 855.1 1689.6 851.4 1688.8 846.5C1688.0 841.6 1684.7 835.5 1681.7 828.8C1678.8 822.1 1675.4 813.2 1671.1 806.3C1666.8 799.4 1661.2 792.6 1655.7 787.3C1650.2 782.0 1644.8 777.3 1637.9 774.3C1631.0 771.2 1621.2 769.8 1614.3 769.0C1607.4 768.2 1602.4 768.1 1596.5 769.6C1590.6 771.1 1586.7 775.3 1578.8 777.9C1570.9 780.5 1560.0 783.2 1549.2 785.0C1538.4 786.8 1523.6 787.1 1513.7 788.5C1503.8 789.9 1495.5 791.5 1490.0 793.3C1484.5 795.1 1485.9 797.5 1481.0 799.5C1476.1 801.5 1463.9 804.5 1460.5 805.5" fill="none" stroke="#de8932" stroke-width="5.7" stroke-linecap="round" stroke-linejoin="round"/>
<path d="M1403.8 776.5C1404.6 780.5 1408.2 792.7 1408.6 800.7C1409.0 808.8 1408.2 816.8 1406.2 824.8C1404.2 832.8 1399.7 842.6 1396.5 849.0C1393.3 855.4 1388.9 858.4 1386.9 863.4C1384.9 868.4 1383.7 873.9 1384.5 879.1C1385.3 884.3 1388.1 890.6 1391.7 894.8C1395.3 899.0 1400.4 902.3 1406.2 904.5C1412.0 906.7 1419.2 907.7 1426.7 908.1C1434.2 908.5 1442.9 907.7 1450.9 906.9C1459.0 906.1 1468.0 904.5 1475.0 903.3C1482.0 902.1 1487.6 903.1 1493.1 899.6C1498.6 896.1 1503.4 886.5 1507.8 882.0C1512.2 877.5 1515.7 875.5 1519.6 872.5C1523.5 869.5 1527.5 865.9 1531.4 864.3C1535.4 862.7 1539.3 862.5 1543.3 863.1C1547.2 863.7 1551.8 865.0 1555.1 867.8C1558.4 870.6 1560.5 878.6 1563.4 880.0C1566.4 881.4 1569.2 877.9 1572.8 876.1C1576.3 874.3 1581.2 871.0 1584.7 869.0C1588.2 867.0 1591.1 865.7 1594.1 864.3C1597.0 862.9 1598.1 861.5 1602.4 860.7C1606.8 859.9 1614.3 859.1 1620.2 859.5C1626.1 859.9 1632.0 861.9 1637.9 863.1C1643.8 864.3 1649.2 866.2 1655.7 866.6C1662.2 867.0 1671.9 866.8 1677.0 865.4C1682.1 864.0 1684.4 861.4 1686.4 858.3C1688.4 855.1 1689.6 851.4 1688.8 846.5C1688.0 841.6 1684.7 835.5 1681.7 828.8C1678.8 822.1 1675.4 813.2 1671.1 806.3C1666.8 799.4 1661.2 792.6 1655.7 787.3C1650.2 782.0 1644.8 777.3 1637.9 774.3C1631.0 771.2 1621.2 769.8 1614.3 769.0C1607.4 768.2 1602.4 768.1 1596.5 769.6C1590.6 771.1 1586.7 775.3 1578.8 777.9C1570.9 780.5 1560.0 783.2 1549.2 785.0C1538.4 786.8 1523.6 787.1 1513.7 788.5C1503.8 789.9 1495.5 791.5 1490.0 793.3C1484.5 795.1 1485.9 797.5 1481.0 799.5C1476.1 801.5 1463.9 804.5 1460.5 805.5" fill="none" stroke="#f0b259" stroke-width="1.8" stroke-linecap="round" stroke-linejoin="round" transform="translate(-0.6 -1)"/>
<path d="M1556.0 871.0C1557.2 872.5 1561.1 878.8 1563.4 880.0C1565.7 881.2 1568.9 878.3 1570.0 878.0" fill="none" stroke="#6a3a1a" stroke-width="8" stroke-linecap="round" stroke-linejoin="round"/>
<path d="M1400.0 903.0C1403.3 903.8 1411.5 906.9 1420.0 907.5C1428.5 908.1 1442.6 907.5 1450.9 906.9C1459.2 906.3 1466.8 904.5 1470.0 904.0" fill="none" stroke="#7a5a5a" stroke-width="5" stroke-linecap="round" stroke-linejoin="round"/>
<path d="M1475.0 903.3L1493.1 899.6" fill="none" stroke="#e07a2a" stroke-width="5" stroke-linecap="round" stroke-linejoin="round"/>
</g>
<path d="M350.2 318.8L345.1 319.8L341.6 315.9L343.3 310.9L348.5 309.9L351.9 313.8ZM341.6 315.9L338.0 316.6" fill="none" stroke="#3f8a7a" stroke-width="1.5" stroke-linejoin="round" opacity="0.85"/>
<path d="M334.0 312.6L331.0 307.2L334.1 302.0L340.3 302.1L343.3 307.4L340.1 312.7ZM331.0 307.2L326.7 307.2" fill="none" stroke="#6fbf6a" stroke-width="1.5" stroke-linejoin="round" opacity="0.85"/>
<path d="M405.6 330.9L406.2 325.7L411.0 323.5L415.3 326.7L414.7 331.9L409.9 334.1ZM415.3 326.7L418.7 325.2" fill="none" stroke="#4fa04f" stroke-width="1.5" stroke-linejoin="round" opacity="0.85"/>
<path d="M398.9 324.8L395.1 327.7L390.7 325.8L390.1 321.0L394.0 318.2L398.4 320.1ZM390.1 321.0L387.1 319.7" fill="none" stroke="#4fa04f" stroke-width="1.5" stroke-linejoin="round" opacity="0.85"/>
<path d="M382.3 411.3L376.3 411.8L372.9 406.8L375.5 401.4L381.5 400.9L384.9 405.9ZM375.5 401.4L373.1 398.0" fill="none" stroke="#6fbf6a" stroke-width="1.5" stroke-linejoin="round" opacity="0.85"/>
<path d="M385.7 398.8L380.1 401.9L374.5 398.6L374.6 392.2L380.2 389.0L385.8 392.3ZM374.6 392.2L370.8 389.9" fill="none" stroke="#4fa04f" stroke-width="1.5" stroke-linejoin="round" opacity="0.85"/>
<path d="M512.6 358.6L507.6 357.4L506.1 352.4L509.7 348.7L514.7 349.9L516.2 354.9ZM512.6 358.6L513.6 362.1" fill="none" stroke="#6fbf6a" stroke-width="1.5" stroke-linejoin="round" opacity="0.85"/>
<path d="M498.4 366.5L498.9 361.8L503.2 359.8L507.1 362.6L506.6 367.3L502.2 369.3ZM498.4 366.5L495.4 367.8" fill="none" stroke="#4fa04f" stroke-width="1.5" stroke-linejoin="round" opacity="0.85"/>
<path d="M521.8 378.9L517.2 376.6L516.9 371.4L521.2 368.6L525.8 370.9L526.1 376.1ZM526.1 376.1L529.3 377.7" fill="none" stroke="#3f8a7a" stroke-width="1.5" stroke-linejoin="round" opacity="0.85"/>
<path d="M521.6 368.4L515.9 367.2L514.1 361.7L518.0 357.4L523.7 358.5L525.5 364.0ZM523.7 358.5L526.4 355.5" fill="none" stroke="#6fbf6a" stroke-width="1.5" stroke-linejoin="round" opacity="0.85"/>
<path d="M561.4 376.8L556.9 375.8L555.5 371.5L558.6 368.1L563.1 369.1L564.5 373.4ZM555.5 371.5L552.4 370.8" fill="none" stroke="#3f8a7a" stroke-width="1.5" stroke-linejoin="round" opacity="0.85"/>
<path d="M555.5 365.2L552.5 368.9L547.8 368.1L546.2 363.7L549.2 360.0L553.8 360.8ZM555.5 365.2L558.7 365.8" fill="none" stroke="#4fa04f" stroke-width="1.5" stroke-linejoin="round" opacity="0.85"/>
<path d="M513.9 414.7L508.3 415.2L505.1 410.7L507.4 405.6L512.9 405.0L516.2 409.6ZM508.3 415.2L506.7 418.8" fill="none" stroke="#6fbf6a" stroke-width="1.5" stroke-linejoin="round" opacity="0.85"/>
<path d="M504.7 403.7L504.7 398.2L509.3 395.5L514.0 398.1L514.1 403.5L509.4 406.3ZM504.7 398.2L501.4 396.4" fill="none" stroke="#3f8a7a" stroke-width="1.5" stroke-linejoin="round" opacity="0.85"/>
<path d="M562.9 390.1L558.5 388.1L558.0 383.3L561.9 380.5L566.3 382.4L566.8 387.2ZM558.5 388.1L555.8 390.1" fill="none" stroke="#4fa04f" stroke-width="1.5" stroke-linejoin="round" opacity="0.85"/>
<path d="M547.3 379.6L550.1 374.4L555.9 374.2L559.0 379.2L556.3 384.4L550.4 384.6ZM555.9 374.2L557.8 370.6" fill="none" stroke="#3f8a7a" stroke-width="1.5" stroke-linejoin="round" opacity="0.85"/>
<path d="M653.1 342.3L648.8 339.2L649.3 334.0L654.1 331.8L658.4 334.8L657.9 340.1ZM649.3 334.0L646.2 331.8" fill="none" stroke="#6fbf6a" stroke-width="1.5" stroke-linejoin="round" opacity="0.85"/>
<path d="M655.1 346.0L650.4 348.8L645.5 346.2L645.4 340.7L650.1 337.8L655.0 340.4ZM650.1 337.8L650.0 333.9" fill="none" stroke="#6fbf6a" stroke-width="1.5" stroke-linejoin="round" opacity="0.85"/>
<path d="M675.6 375.0L670.5 377.6L665.7 374.6L666.0 368.8L671.0 366.2L675.8 369.3ZM665.7 374.6L662.2 376.4" fill="none" stroke="#4fa04f" stroke-width="1.5" stroke-linejoin="round" opacity="0.85"/>
<path d="M660.5 358.3L662.6 353.5L667.8 352.8L671.0 357.0L668.9 361.9L663.7 362.5ZM662.6 353.5L660.3 350.5" fill="none" stroke="#3f8a7a" stroke-width="1.5" stroke-linejoin="round" opacity="0.85"/>
<path d="M733.2 432.7L728.4 430.1L728.2 424.5L732.9 421.6L737.8 424.3L738.0 429.8ZM737.8 424.3L741.1 422.2" fill="none" stroke="#4a6fa0" stroke-width="1.5" stroke-linejoin="round" opacity="0.85"/>
<path d="M735.6 418.1L731.5 414.7L732.4 409.5L737.3 407.6L741.4 411.0L740.5 416.3ZM741.4 411.0L744.9 409.7" fill="none" stroke="#6fbf6a" stroke-width="1.5" stroke-linejoin="round" opacity="0.85"/>
<path d="M831.3 426.3L826.4 427.7L822.8 424.2L824.0 419.3L828.9 417.9L832.5 421.4ZM826.4 427.7L825.6 431.2" fill="none" stroke="#4fa04f" stroke-width="1.5" stroke-linejoin="round" opacity="0.85"/>
<path d="M832.1 405.3L826.3 407.7L821.4 403.9L822.2 397.7L828.0 395.3L833.0 399.1ZM821.4 403.9L817.3 405.6" fill="none" stroke="#3f8a7a" stroke-width="1.5" stroke-linejoin="round" opacity="0.85"/>
<path d="M893.8 413.1L890.6 417.2L885.4 416.4L883.5 411.6L886.7 407.5L891.9 408.2ZM891.9 408.2L894.2 405.4" fill="none" stroke="#4fa04f" stroke-width="1.5" stroke-linejoin="round" opacity="0.85"/>
<path d="M873.6 408.7L871.8 402.5L876.3 398.0L882.5 399.5L884.2 405.7L879.8 410.2ZM879.8 410.2L881.0 414.5" fill="none" stroke="#6fbf6a" stroke-width="1.5" stroke-linejoin="round" opacity="0.85"/>
<path d="M970.6 387.1L965.3 390.8L959.4 388.1L958.9 381.6L964.2 377.9L970.0 380.7ZM970.6 387.1L974.7 389.0" fill="none" stroke="#6fbf6a" stroke-width="1.5" stroke-linejoin="round" opacity="0.85"/>
<path d="M952.6 387.7L954.7 382.2L960.5 381.3L964.3 385.9L962.2 391.4L956.3 392.3ZM954.7 382.2L952.1 379.0" fill="none" stroke="#6fbf6a" stroke-width="1.5" stroke-linejoin="round" opacity="0.85"/>
<path d="M1048.6 448.6L1043.0 450.2L1038.8 446.1L1040.3 440.5L1045.9 438.9L1050.0 443.0ZM1038.8 446.1L1034.9 447.2" fill="none" stroke="#6fbf6a" stroke-width="1.5" stroke-linejoin="round" opacity="0.85"/>
<path d="M1028.5 429.3L1023.8 428.3L1022.3 423.7L1025.6 420.2L1030.3 421.2L1031.7 425.8ZM1031.7 425.8L1035.0 426.5" fill="none" stroke="#3f8a7a" stroke-width="1.5" stroke-linejoin="round" opacity="0.85"/>
<path d="M1063.4 426.0L1057.7 428.6L1052.6 425.0L1053.2 418.7L1058.9 416.1L1064.0 419.7ZM1053.2 418.7L1049.6 416.2" fill="none" stroke="#6fbf6a" stroke-width="1.5" stroke-linejoin="round" opacity="0.85"/>
<path d="M1050.4 417.2L1047.6 413.1L1049.6 408.6L1054.6 408.1L1057.5 412.2L1055.4 416.7ZM1049.6 408.6L1047.6 405.8" fill="none" stroke="#4a6fa0" stroke-width="1.5" stroke-linejoin="round" opacity="0.85"/>
<path d="M1190.6 357.2L1185.7 360.6L1180.2 358.0L1179.8 352.0L1184.7 348.6L1190.2 351.2ZM1190.6 357.2L1194.4 359.0" fill="none" stroke="#6fbf6a" stroke-width="1.5" stroke-linejoin="round" opacity="0.85"/>
<path d="M1177.5 372.1L1173.1 369.5L1173.2 364.4L1177.7 361.9L1182.0 364.6L1181.9 369.6ZM1177.7 361.9L1177.7 358.4" fill="none" stroke="#4a6fa0" stroke-width="1.5" stroke-linejoin="round" opacity="0.85"/>
<path d="M1237.3 363.5L1232.8 367.2L1227.3 365.1L1226.4 359.4L1230.9 355.7L1236.3 357.8ZM1232.8 367.2L1233.4 371.2" fill="none" stroke="#4fa04f" stroke-width="1.5" stroke-linejoin="round" opacity="0.85"/>
<path d="M1225.9 381.5L1220.7 377.9L1221.3 371.7L1226.9 369.0L1232.1 372.6L1231.6 378.8ZM1221.3 371.7L1217.7 369.2" fill="none" stroke="#4a6fa0" stroke-width="1.5" stroke-linejoin="round" opacity="0.85"/>
<path d="M1336.3 396.3L1331.0 395.3L1329.2 390.1L1332.8 386.0L1338.1 387.1L1339.8 392.2ZM1331.0 395.3L1328.5 398.1" fill="none" stroke="#3f8a7a" stroke-width="1.5" stroke-linejoin="round" opacity="0.85"/>
<path d="M1315.8 372.5L1313.4 367.1L1316.8 362.2L1322.8 362.8L1325.3 368.3L1321.8 373.1ZM1322.8 362.8L1325.2 359.4" fill="none" stroke="#4a6fa0" stroke-width="1.5" stroke-linejoin="round" opacity="0.85"/>
<path d="M1314.4 400.9L1308.7 402.4L1304.5 398.2L1306.0 392.5L1311.8 390.9L1316.0 395.1ZM1314.4 400.9L1317.4 403.8" fill="none" stroke="#6fbf6a" stroke-width="1.5" stroke-linejoin="round" opacity="0.85"/>
<path d="M1304.7 391.0L1301.1 394.8L1295.9 393.5L1294.5 388.5L1298.1 384.7L1303.3 385.9ZM1294.5 388.5L1290.9 387.6" fill="none" stroke="#4a6fa0" stroke-width="1.5" stroke-linejoin="round" opacity="0.85"/>
<path d="M1376.6 270.2L1371.9 266.7L1372.6 260.8L1377.9 258.5L1382.7 262.0L1382.0 267.9ZM1376.6 270.2L1376.1 274.3" fill="none" stroke="#4a6fa0" stroke-width="1.5" stroke-linejoin="round" opacity="0.85"/>
<path d="M1362.4 276.0L1358.2 272.6L1359.0 267.4L1364.0 265.4L1368.2 268.7L1367.4 274.0ZM1362.4 276.0L1361.9 279.7" fill="none" stroke="#4fa04f" stroke-width="1.5" stroke-linejoin="round" opacity="0.85"/>
<path d="M430.7 340.1L425.9 344.3L419.8 342.2L418.6 336.0L423.4 331.7L429.4 333.8ZM429.4 333.8L432.8 330.8" fill="none" stroke="#4fa04f" stroke-width="1.5" stroke-linejoin="round" opacity="0.85"/>
<path d="M417.5 337.3L417.5 332.0L422.1 329.3L426.8 332.0L426.8 337.3L422.1 340.0ZM417.5 332.0L414.2 330.1" fill="none" stroke="#4a6fa0" stroke-width="1.5" stroke-linejoin="round" opacity="0.85"/>
<path d="M632.7 863.1L627.0 862.5L624.7 857.2L628.1 852.5L633.8 853.2L636.1 858.4ZM627.0 862.5L624.6 865.7" fill="none" stroke="#6fbf6a" stroke-width="1.5" stroke-linejoin="round" opacity="0.85"/>
<path d="M619.9 844.2L613.4 844.2L610.2 838.6L613.4 833.0L619.9 833.0L623.1 838.6ZM613.4 844.2L611.2 848.2" fill="none" stroke="#4a6fa0" stroke-width="1.5" stroke-linejoin="round" opacity="0.85"/>
<path d="M656.0 826.8L654.0 822.7L656.5 818.9L661.1 819.2L663.1 823.3L660.5 827.1ZM663.1 823.3L666.2 823.5" fill="none" stroke="#4fa04f" stroke-width="1.5" stroke-linejoin="round" opacity="0.85"/>
<path d="M643.9 814.0L645.5 808.9L650.7 807.8L654.3 811.7L652.7 816.7L647.5 817.9ZM647.5 817.9L646.4 821.4" fill="none" stroke="#4a6fa0" stroke-width="1.5" stroke-linejoin="round" opacity="0.85"/>
<path d="M702.7 862.6L699.5 867.9L693.3 867.8L690.4 862.4L693.6 857.1L699.7 857.2ZM690.4 862.4L686.0 862.3" fill="none" stroke="#4fa04f" stroke-width="1.5" stroke-linejoin="round" opacity="0.85"/>
<path d="M683.9 883.9L679.3 882.6L678.1 877.9L681.6 874.5L686.2 875.8L687.4 880.5ZM679.3 882.6L676.9 884.9" fill="none" stroke="#3f8a7a" stroke-width="1.5" stroke-linejoin="round" opacity="0.85"/>
<path d="M721.1 891.9L718.4 896.1L713.5 895.9L711.2 891.5L713.8 887.3L718.8 887.5ZM711.2 891.5L707.7 891.3" fill="none" stroke="#4a6fa0" stroke-width="1.5" stroke-linejoin="round" opacity="0.85"/>
<path d="M717.4 888.7L714.0 894.1L707.7 893.8L704.8 888.2L708.2 882.8L714.5 883.1ZM704.8 888.2L700.3 887.9" fill="none" stroke="#4a6fa0" stroke-width="1.5" stroke-linejoin="round" opacity="0.85"/>
<path d="M711.8 821.5L708.4 817.1L710.6 811.9L716.2 811.2L719.6 815.7L717.4 820.8ZM717.4 820.8L719.8 824.0" fill="none" stroke="#4a6fa0" stroke-width="1.5" stroke-linejoin="round" opacity="0.85"/>
<path d="M715.2 796.8L709.3 799.0L704.5 795.0L705.5 788.8L711.4 786.6L716.3 790.6ZM711.4 786.6L712.2 782.3" fill="none" stroke="#3f8a7a" stroke-width="1.5" stroke-linejoin="round" opacity="0.85"/>
<path d="M731.4 792.7L725.3 791.7L723.2 785.9L727.1 781.1L733.2 782.2L735.3 788.0ZM723.2 785.9L718.9 785.2" fill="none" stroke="#6fbf6a" stroke-width="1.5" stroke-linejoin="round" opacity="0.85"/>
<path d="M729.8 783.9L725.4 781.5L725.3 776.6L729.5 774.0L733.8 776.4L734.0 781.3ZM729.5 774.0L729.4 770.6" fill="none" stroke="#6fbf6a" stroke-width="1.5" stroke-linejoin="round" opacity="0.85"/>
<path d="M725.5 748.9L719.7 751.9L714.3 748.4L714.5 741.9L720.3 738.9L725.7 742.4ZM714.3 748.4L710.2 750.5" fill="none" stroke="#4a6fa0" stroke-width="1.5" stroke-linejoin="round" opacity="0.85"/>
<path d="M723.0 743.2L718.4 744.0L715.4 740.4L717.0 736.0L721.6 735.2L724.6 738.8ZM717.0 736.0L715.0 733.5" fill="none" stroke="#3f8a7a" stroke-width="1.5" stroke-linejoin="round" opacity="0.85"/>
<path d="M788.0 754.4L785.1 750.0L787.5 745.3L792.7 745.0L795.6 749.4L793.2 754.1ZM795.6 749.4L799.2 749.2" fill="none" stroke="#6fbf6a" stroke-width="1.5" stroke-linejoin="round" opacity="0.85"/>
<path d="M777.5 746.6L778.6 740.9L784.0 738.9L788.5 742.6L787.5 748.4L782.0 750.3ZM777.5 746.6L773.7 748.0" fill="none" stroke="#4fa04f" stroke-width="1.5" stroke-linejoin="round" opacity="0.85"/>
<path d="M745.8 801.8L742.2 805.3L737.4 803.9L736.2 799.0L739.8 795.6L744.6 796.9ZM742.2 805.3L743.1 808.7" fill="none" stroke="#4fa04f" stroke-width="1.5" stroke-linejoin="round" opacity="0.85"/>
<path d="M737.1 798.3L733.4 793.8L735.5 788.3L741.3 787.3L745.0 791.9L742.9 797.4ZM742.9 797.4L745.5 800.6" fill="none" stroke="#6fbf6a" stroke-width="1.5" stroke-linejoin="round" opacity="0.85"/>
<path d="M774.6 797.4L770.0 799.5L765.9 796.5L766.4 791.4L771.1 789.4L775.2 792.4ZM774.6 797.4L777.5 799.5" fill="none" stroke="#4a6fa0" stroke-width="1.5" stroke-linejoin="round" opacity="0.85"/>
<path d="M765.7 807.0L761.3 809.0L757.4 806.2L757.9 801.4L762.3 799.4L766.2 802.2ZM761.3 809.0L761.0 812.4" fill="none" stroke="#4fa04f" stroke-width="1.5" stroke-linejoin="round" opacity="0.85"/>
<path d="M753.7 862.6L752.1 857.6L755.7 853.7L760.9 854.9L762.4 860.0L758.8 863.8ZM758.8 863.8L759.9 867.3" fill="none" stroke="#6fbf6a" stroke-width="1.5" stroke-linejoin="round" opacity="0.85"/>
<path d="M751.7 855.3L748.4 851.9L749.6 847.4L754.2 846.2L757.5 849.6L756.2 854.1ZM748.4 851.9L745.2 852.8" fill="none" stroke="#6fbf6a" stroke-width="1.5" stroke-linejoin="round" opacity="0.85"/>
<path d="M758.2 908.6L757.4 903.5L761.4 900.2L766.2 902.1L767.0 907.2L763.0 910.4ZM758.2 908.6L755.4 910.9" fill="none" stroke="#3f8a7a" stroke-width="1.5" stroke-linejoin="round" opacity="0.85"/>
<path d="M763.0 899.0L757.8 896.8L757.0 891.3L761.4 887.8L766.6 889.9L767.4 895.5ZM763.0 899.0L763.5 902.9" fill="none" stroke="#3f8a7a" stroke-width="1.5" stroke-linejoin="round" opacity="0.85"/>
<path d="M821.9 907.9L821.9 901.6L827.3 898.6L832.7 901.7L832.6 907.9L827.2 911.0ZM821.9 901.6L818.1 899.4" fill="none" stroke="#4fa04f" stroke-width="1.5" stroke-linejoin="round" opacity="0.85"/>
<path d="M802.9 907.9L800.3 903.2L803.1 898.7L808.4 898.8L811.0 903.5L808.2 908.0ZM802.9 907.9L801.0 911.1" fill="none" stroke="#3f8a7a" stroke-width="1.5" stroke-linejoin="round" opacity="0.85"/>
<path d="M786.1 805.9L781.5 803.7L781.1 798.7L785.3 795.8L789.9 798.0L790.3 803.1ZM785.3 795.8L785.0 792.2" fill="none" stroke="#6fbf6a" stroke-width="1.5" stroke-linejoin="round" opacity="0.85"/>
<path d="M776.4 806.3L778.3 800.9L783.9 799.8L787.7 804.1L785.8 809.6L780.1 810.6ZM780.1 810.6L778.8 814.5" fill="none" stroke="#4a6fa0" stroke-width="1.5" stroke-linejoin="round" opacity="0.85"/>
<path d="M807.4 829.0L802.4 827.0L801.6 821.6L805.8 818.2L810.9 820.2L811.7 825.6ZM801.6 821.6L798.0 820.2" fill="none" stroke="#4a6fa0" stroke-width="1.5" stroke-linejoin="round" opacity="0.85"/>
<path d="M803.1 816.1L798.0 816.6L795.1 812.5L797.2 807.9L802.2 807.4L805.2 811.5ZM798.0 816.6L796.6 819.8" fill="none" stroke="#6fbf6a" stroke-width="1.5" stroke-linejoin="round" opacity="0.85"/>
<path d="M832.2 803.3L828.2 800.6L828.4 795.8L832.7 793.6L836.8 796.2L836.5 801.1ZM836.5 801.1L839.4 802.9" fill="none" stroke="#4a6fa0" stroke-width="1.5" stroke-linejoin="round" opacity="0.85"/>
<path d="M829.8 798.1L824.9 802.3L818.8 800.0L817.7 793.6L822.7 789.5L828.8 791.8ZM818.8 800.0L815.3 802.9" fill="none" stroke="#4a6fa0" stroke-width="1.5" stroke-linejoin="round" opacity="0.85"/>
<path d="M855.0 778.4L850.4 782.8L844.4 781.0L842.9 774.8L847.5 770.5L853.5 772.3ZM842.9 774.8L838.7 773.6" fill="none" stroke="#4fa04f" stroke-width="1.5" stroke-linejoin="round" opacity="0.85"/>
<path d="M833.0 795.3L829.7 790.5L832.2 785.2L838.1 784.7L841.4 789.5L838.9 794.8ZM838.9 794.8L841.2 798.2" fill="none" stroke="#3f8a7a" stroke-width="1.5" stroke-linejoin="round" opacity="0.85"/>
<path d="M838.6 828.7L832.3 829.5L828.4 824.4L830.9 818.5L837.2 817.7L841.1 822.8ZM841.1 822.8L845.5 822.2" fill="none" stroke="#6fbf6a" stroke-width="1.5" stroke-linejoin="round" opacity="0.85"/>
<path d="M828.6 843.8L823.1 842.8L821.2 837.4L824.9 833.1L830.5 834.2L832.3 839.5ZM823.1 842.8L820.5 845.8" fill="none" stroke="#4a6fa0" stroke-width="1.5" stroke-linejoin="round" opacity="0.85"/>
<path d="M876.0 908.1L874.0 902.9L877.6 898.4L883.2 899.3L885.2 904.6L881.6 909.0ZM877.6 898.4L876.1 894.8" fill="none" stroke="#4a6fa0" stroke-width="1.5" stroke-linejoin="round" opacity="0.85"/>
<path d="M881.8 882.4L875.7 881.4L873.5 875.6L877.4 870.8L883.5 871.8L885.7 877.6ZM885.7 877.6L890.0 878.3" fill="none" stroke="#3f8a7a" stroke-width="1.5" stroke-linejoin="round" opacity="0.85"/>
<path d="M953.6 861.8L955.1 856.5L960.4 855.1L964.3 859.0L962.8 864.4L957.5 865.8ZM957.5 865.8L956.5 869.5" fill="none" stroke="#4a6fa0" stroke-width="1.5" stroke-linejoin="round" opacity="0.85"/>
<path d="M940.9 858.0L938.8 852.7L942.4 848.3L948.0 849.1L950.1 854.4L946.6 858.8ZM940.9 858.0L938.5 861.1" fill="none" stroke="#4a6fa0" stroke-width="1.5" stroke-linejoin="round" opacity="0.85"/>
<path d="M931.8 876.2L928.5 872.3L930.2 867.4L935.2 866.5L938.6 870.4L936.8 875.3ZM931.8 876.2L930.6 879.6" fill="none" stroke="#4a6fa0" stroke-width="1.5" stroke-linejoin="round" opacity="0.85"/>
<path d="M919.9 884.8L918.6 878.8L923.2 874.8L929.0 876.7L930.3 882.7L925.7 886.8ZM919.9 884.8L916.7 887.7" fill="none" stroke="#4fa04f" stroke-width="1.5" stroke-linejoin="round" opacity="0.85"/>
<path d="M800.5 731.2L798.7 725.0L803.1 720.3L809.4 721.8L811.2 728.0L806.8 732.7ZM811.2 728.0L815.6 729.1" fill="none" stroke="#4a6fa0" stroke-width="1.5" stroke-linejoin="round" opacity="0.85"/>
<path d="M798.1 729.4L793.6 725.6L794.7 719.7L800.3 717.8L804.8 721.6L803.7 727.5ZM800.3 717.8L801.0 713.7" fill="none" stroke="#6fbf6a" stroke-width="1.5" stroke-linejoin="round" opacity="0.85"/>
<path d="M667.0 794.2L663.2 789.3L665.5 783.6L671.6 782.8L675.4 787.6L673.1 793.3ZM663.2 789.3L659.0 789.9" fill="none" stroke="#3f8a7a" stroke-width="1.5" stroke-linejoin="round" opacity="0.85"/>
<path d="M663.8 789.6L659.4 787.4L659.2 782.4L663.4 779.8L667.8 782.1L668.0 787.0ZM668.0 787.0L671.0 788.6" fill="none" stroke="#4fa04f" stroke-width="1.5" stroke-linejoin="round" opacity="0.85"/>
<path d="M641.8 878.8L636.5 880.2L632.7 876.3L634.1 871.0L639.4 869.6L643.2 873.5ZM632.7 876.3L629.0 877.3" fill="none" stroke="#4a6fa0" stroke-width="1.5" stroke-linejoin="round" opacity="0.85"/>
<path d="M639.5 874.5L635.3 876.8L631.2 874.4L631.3 869.6L635.5 867.3L639.6 869.7ZM639.6 869.7L642.5 868.1" fill="none" stroke="#4a6fa0" stroke-width="1.5" stroke-linejoin="round" opacity="0.85"/>
<path d="M718.0 897.5L714.3 900.2L710.1 898.3L709.7 893.8L713.4 891.2L717.5 893.0ZM717.5 893.0L720.1 891.2" fill="none" stroke="#3f8a7a" stroke-width="1.5" stroke-linejoin="round" opacity="0.85"/>
<path d="M710.5 899.7L705.5 897.9L704.6 892.6L708.7 889.2L713.7 891.1L714.6 896.3ZM705.5 897.9L702.6 900.2" fill="none" stroke="#4a6fa0" stroke-width="1.5" stroke-linejoin="round" opacity="0.85"/>
<path d="M1357.8 731.8L1359.5 725.6L1365.8 724.1L1370.2 728.7L1368.5 734.9L1362.2 736.5ZM1365.8 724.1L1367.0 719.8" fill="none" stroke="#3f8a7a" stroke-width="1.5" stroke-linejoin="round" opacity="0.85"/>
<path d="M1350.9 736.7L1348.8 732.5L1351.4 728.6L1356.1 728.9L1358.2 733.1L1355.6 737.0ZM1348.8 732.5L1345.6 732.3" fill="none" stroke="#4a6fa0" stroke-width="1.5" stroke-linejoin="round" opacity="0.85"/>
<path d="M1401.3 722.4L1399.7 717.8L1402.8 714.2L1407.6 715.1L1409.1 719.6L1406.0 723.3ZM1402.8 714.2L1401.7 711.0" fill="none" stroke="#6fbf6a" stroke-width="1.5" stroke-linejoin="round" opacity="0.85"/>
<path d="M1395.3 726.5L1390.0 727.2L1386.9 722.9L1388.9 718.1L1394.2 717.5L1397.4 721.7ZM1388.9 718.1L1386.7 715.1" fill="none" stroke="#4a6fa0" stroke-width="1.5" stroke-linejoin="round" opacity="0.85"/>
<path d="M1375.9 849.2L1371.3 846.9L1371.0 841.8L1375.2 838.9L1379.8 841.2L1380.2 846.3ZM1375.9 849.2L1376.1 852.7" fill="none" stroke="#6fbf6a" stroke-width="1.5" stroke-linejoin="round" opacity="0.85"/>
<path d="M1357.4 840.9L1354.0 837.2L1355.5 832.4L1360.4 831.3L1363.8 835.0L1362.3 839.8ZM1362.3 839.8L1364.7 842.3" fill="none" stroke="#4a6fa0" stroke-width="1.5" stroke-linejoin="round" opacity="0.85"/>
<path d="M1373.6 796.6L1369.0 795.8L1367.4 791.4L1370.4 787.9L1375.0 788.7L1376.6 793.1ZM1367.4 791.4L1364.2 790.8" fill="none" stroke="#4fa04f" stroke-width="1.5" stroke-linejoin="round" opacity="0.85"/>
<path d="M1361.1 800.3L1357.0 802.9L1352.7 800.7L1352.4 795.8L1356.6 793.1L1360.9 795.4ZM1352.4 795.8L1349.4 794.2" fill="none" stroke="#4a6fa0" stroke-width="1.5" stroke-linejoin="round" opacity="0.85"/>
<path d="M1385.4 825.7L1381.0 824.4L1379.9 819.9L1383.3 816.7L1387.7 818.0L1388.8 822.5ZM1387.7 818.0L1390.0 815.8" fill="none" stroke="#6fbf6a" stroke-width="1.5" stroke-linejoin="round" opacity="0.85"/>
<path d="M1377.9 803.5L1378.8 797.5L1384.5 795.2L1389.3 799.0L1388.4 805.1L1382.7 807.3ZM1377.9 803.5L1373.9 805.1" fill="none" stroke="#3f8a7a" stroke-width="1.5" stroke-linejoin="round" opacity="0.85"/>
<path d="M1459.4 789.9L1455.8 794.2L1450.2 793.2L1448.4 787.9L1452.0 783.6L1457.6 784.6ZM1448.4 787.9L1444.5 787.2" fill="none" stroke="#6fbf6a" stroke-width="1.5" stroke-linejoin="round" opacity="0.85"/>
<path d="M1454.4 771.3L1449.2 772.1L1445.8 768.0L1447.7 763.1L1452.9 762.3L1456.2 766.4ZM1456.2 766.4L1459.9 765.8" fill="none" stroke="#4a6fa0" stroke-width="1.5" stroke-linejoin="round" opacity="0.85"/>
<path d="M1413.7 846.8L1409.3 842.1L1411.3 835.9L1417.6 834.5L1421.9 839.3L1420.0 845.4ZM1413.7 846.8L1412.3 851.2" fill="none" stroke="#4a6fa0" stroke-width="1.5" stroke-linejoin="round" opacity="0.85"/>
<path d="M1423.9 822.4L1421.1 826.2L1416.4 825.6L1414.5 821.3L1417.4 817.5L1422.0 818.0ZM1421.1 826.2L1422.4 829.2" fill="none" stroke="#4a6fa0" stroke-width="1.5" stroke-linejoin="round" opacity="0.85"/>
<path d="M1411.5 869.7L1408.5 865.0L1411.1 860.0L1416.7 859.8L1419.7 864.6L1417.1 869.5ZM1419.7 864.6L1423.6 864.4" fill="none" stroke="#4fa04f" stroke-width="1.5" stroke-linejoin="round" opacity="0.85"/>
<path d="M1409.4 865.9L1405.3 863.5L1405.3 858.8L1409.3 856.5L1413.4 858.8L1413.5 863.5ZM1405.3 858.8L1402.4 857.2" fill="none" stroke="#6fbf6a" stroke-width="1.5" stroke-linejoin="round" opacity="0.85"/>
<path d="M1445.4 897.6L1442.0 900.8L1437.6 899.4L1436.6 894.9L1440.0 891.7L1444.4 893.1ZM1445.4 897.6L1448.5 898.6" fill="none" stroke="#4a6fa0" stroke-width="1.5" stroke-linejoin="round" opacity="0.85"/>
<path d="M1436.4 887.9L1432.0 890.5L1427.5 888.1L1427.4 882.9L1431.8 880.3L1436.3 882.7ZM1432.0 890.5L1432.1 894.1" fill="none" stroke="#4fa04f" stroke-width="1.5" stroke-linejoin="round" opacity="0.85"/>
<path d="M1405.8 866.7L1403.4 862.6L1405.7 858.6L1410.4 858.5L1412.8 862.6L1410.5 866.7ZM1403.4 862.6L1400.1 862.6" fill="none" stroke="#6fbf6a" stroke-width="1.5" stroke-linejoin="round" opacity="0.85"/>
<path d="M1411.0 873.3L1405.5 876.0L1400.4 872.6L1400.8 866.4L1406.3 863.7L1411.4 867.2ZM1411.4 867.2L1415.3 865.3" fill="none" stroke="#4a6fa0" stroke-width="1.5" stroke-linejoin="round" opacity="0.85"/>
<path d="M1478.5 854.7L1473.9 857.9L1468.9 855.5L1468.5 849.9L1473.1 846.8L1478.0 849.2ZM1468.9 855.5L1465.7 857.6" fill="none" stroke="#3f8a7a" stroke-width="1.5" stroke-linejoin="round" opacity="0.85"/>
<path d="M1467.5 855.3L1463.1 853.4L1462.5 848.6L1466.4 845.8L1470.8 847.7L1471.4 852.5ZM1471.4 852.5L1474.5 853.8" fill="none" stroke="#6fbf6a" stroke-width="1.5" stroke-linejoin="round" opacity="0.85"/>
<path d="M1473.9 867.4L1472.1 862.5L1475.5 858.5L1480.6 859.4L1482.3 864.3L1479.0 868.3ZM1480.6 859.4L1482.9 856.6" fill="none" stroke="#4a6fa0" stroke-width="1.5" stroke-linejoin="round" opacity="0.85"/>
<path d="M1472.2 847.5L1470.9 841.7L1475.2 837.8L1480.8 839.5L1482.1 845.2L1477.8 849.2ZM1472.2 847.5L1469.2 850.2" fill="none" stroke="#4a6fa0" stroke-width="1.5" stroke-linejoin="round" opacity="0.85"/>
<path d="M1491.6 864.5L1493.1 859.4L1498.2 858.0L1502.0 861.8L1500.5 867.0L1495.4 868.3ZM1493.1 859.4L1490.5 856.7" fill="none" stroke="#6fbf6a" stroke-width="1.5" stroke-linejoin="round" opacity="0.85"/>
<path d="M1498.9 845.2L1493.2 847.7L1488.2 843.9L1488.9 837.7L1494.6 835.2L1499.6 839.0ZM1493.2 847.7L1492.7 852.0" fill="none" stroke="#6fbf6a" stroke-width="1.5" stroke-linejoin="round" opacity="0.85"/>
<path d="M1509.0 875.4L1504.6 878.7L1499.5 876.4L1498.9 870.9L1503.3 867.6L1508.4 869.9ZM1498.9 870.9L1495.3 869.4" fill="none" stroke="#6fbf6a" stroke-width="1.5" stroke-linejoin="round" opacity="0.85"/>
<path d="M1498.4 879.9L1492.2 880.8L1488.4 875.8L1490.7 870.1L1496.9 869.2L1500.7 874.1ZM1490.7 870.1L1488.0 866.6" fill="none" stroke="#4fa04f" stroke-width="1.5" stroke-linejoin="round" opacity="0.85"/>
<path d="M1497.2 873.4L1492.2 871.9L1490.9 866.8L1494.8 863.1L1499.8 864.6L1501.0 869.8ZM1494.8 863.1L1493.9 859.5" fill="none" stroke="#3f8a7a" stroke-width="1.5" stroke-linejoin="round" opacity="0.85"/>
<path d="M1493.2 850.4L1487.9 847.0L1488.2 840.7L1493.8 837.8L1499.1 841.2L1498.8 847.5ZM1498.8 847.5L1502.5 849.9" fill="none" stroke="#3f8a7a" stroke-width="1.5" stroke-linejoin="round" opacity="0.85"/>
<path d="M1523.2 833.5L1522.3 827.5L1527.1 823.7L1532.8 826.0L1533.6 832.0L1528.8 835.8ZM1532.8 826.0L1536.2 823.4" fill="none" stroke="#3f8a7a" stroke-width="1.5" stroke-linejoin="round" opacity="0.85"/>
<path d="M1533.0 822.6L1527.3 822.6L1524.4 817.7L1527.2 812.8L1532.9 812.7L1535.8 817.6ZM1533.0 822.6L1535.0 826.0" fill="none" stroke="#6fbf6a" stroke-width="1.5" stroke-linejoin="round" opacity="0.85"/>
<path d="M1588.2 861.6L1583.6 862.5L1580.6 858.9L1582.1 854.5L1586.7 853.7L1589.8 857.2ZM1583.6 862.5L1582.5 865.6" fill="none" stroke="#4fa04f" stroke-width="1.5" stroke-linejoin="round" opacity="0.85"/>
<path d="M1587.6 846.0L1583.6 848.6L1579.4 846.4L1579.2 841.7L1583.1 839.1L1587.3 841.3ZM1579.4 846.4L1576.6 848.2" fill="none" stroke="#3f8a7a" stroke-width="1.5" stroke-linejoin="round" opacity="0.85"/>
<path d="M1625.5 827.5L1628.0 821.7L1634.3 820.9L1638.1 825.9L1635.7 831.8L1629.4 832.6ZM1634.3 820.9L1636.0 816.8" fill="none" stroke="#4fa04f" stroke-width="1.5" stroke-linejoin="round" opacity="0.85"/>
<path d="M1639.3 812.6L1636.4 817.5L1630.7 817.4L1627.9 812.4L1630.8 807.5L1636.5 807.6ZM1636.4 817.5L1638.3 821.0" fill="none" stroke="#4fa04f" stroke-width="1.5" stroke-linejoin="round" opacity="0.85"/>
<path d="M1619.3 863.6L1613.8 864.6L1610.3 860.3L1612.2 855.1L1617.6 854.2L1621.2 858.4ZM1613.8 864.6L1612.5 868.2" fill="none" stroke="#4a6fa0" stroke-width="1.5" stroke-linejoin="round" opacity="0.85"/>
<path d="M1608.2 864.8L1605.8 861.0L1607.9 856.9L1612.5 856.8L1614.9 860.6L1612.8 864.7ZM1612.5 856.8L1614.0 853.9" fill="none" stroke="#3f8a7a" stroke-width="1.5" stroke-linejoin="round" opacity="0.85"/>
<path d="M1516.4 890.4L1510.6 893.4L1505.1 890.0L1505.3 883.5L1511.1 880.4L1516.6 883.9ZM1516.4 890.4L1520.2 892.8" fill="none" stroke="#6fbf6a" stroke-width="1.5" stroke-linejoin="round" opacity="0.85"/>
<path d="M1505.3 893.9L1499.1 892.1L1497.5 885.8L1502.2 881.4L1508.4 883.2L1509.9 889.5ZM1508.4 883.2L1511.7 880.1" fill="none" stroke="#6fbf6a" stroke-width="1.5" stroke-linejoin="round" opacity="0.85"/>
<polyline points="424.8,1514.9 583.0,1431.8 741.2,1467.0 899.5,1487.4 1057.8,1511.5 1216.0,1480.6 1374.2,1479.6 1532.5,1483.6 1690.8,1395.5 1849.0,1359.7" fill="none" stroke="#7316a8" stroke-width="4.4" stroke-linejoin="round"/>
<path d="M410.4 1514.9H439.1M424.8 1500.6V1529.2" stroke="#7316a8" stroke-width="4.5"/>
<path d="M568.7 1431.8H597.3M583.0 1417.5V1446.1" stroke="#7316a8" stroke-width="4.5"/>
<path d="M727.0 1467.0H755.5M741.2 1452.7V1481.3" stroke="#7316a8" stroke-width="4.5"/>
<path d="M885.2 1487.4H913.8M899.5 1473.1V1501.7" stroke="#7316a8" stroke-width="4.5"/>
<path d="M1043.5 1511.5H1072.0M1057.8 1497.2V1525.8" stroke="#7316a8" stroke-width="4.5"/>
<path d="M1201.7 1480.6H1230.3M1216.0 1466.3V1494.9" stroke="#7316a8" stroke-width="4.5"/>
<path d="M1360.0 1479.6H1388.5M1374.2 1465.3V1493.9" stroke="#7316a8" stroke-width="4.5"/>
<path d="M1518.2 1483.6H1546.8M1532.5 1469.3V1497.9" stroke="#7316a8" stroke-width="4.5"/>
<path d="M1676.5 1395.5H1705.0M1690.8 1381.2V1409.8" stroke="#7316a8" stroke-width="4.5"/>
<path d="M1834.7 1359.7H1863.3M1849.0 1345.4V1374.0" stroke="#7316a8" stroke-width="4.5"/>
<polyline points="424.8,1747.4 583.0,1747.6 741.2,1566.3 899.5,1463.2 1057.8,1425.8 1216.0,1287.8 1374.2,1258.4 1532.5,1257.6 1690.8,1269.4 1849.0,1307.3" fill="none" stroke="#1a8f74" stroke-width="4.4" stroke-linejoin="round"/>
<path d="M409.9 1732.6L439.6 1762.2M409.9 1762.2L439.6 1732.6" stroke="#1a8f74" stroke-width="4.5"/>
<path d="M568.2 1732.8L597.8 1762.4M568.2 1762.4L597.8 1732.8" stroke="#1a8f74" stroke-width="4.5"/>
<path d="M726.5 1551.5L756.0 1581.1M726.5 1581.1L756.0 1551.5" stroke="#1a8f74" stroke-width="4.5"/>
<path d="M884.7 1448.4L914.3 1478.0M884.7 1478.0L914.3 1448.4" stroke="#1a8f74" stroke-width="4.5"/>
<path d="M1043.0 1411.0L1072.5 1440.6M1043.0 1440.6L1072.5 1411.0" stroke="#1a8f74" stroke-width="4.5"/>
<path d="M1201.2 1273.0L1230.8 1302.6M1201.2 1302.6L1230.8 1273.0" stroke="#1a8f74" stroke-width="4.5"/>
<path d="M1359.5 1243.6L1389.0 1273.2M1359.5 1273.2L1389.0 1243.6" stroke="#1a8f74" stroke-width="4.5"/>
<path d="M1517.7 1242.8L1547.3 1272.4M1517.7 1272.4L1547.3 1242.8" stroke="#1a8f74" stroke-width="4.5"/>
<path d="M1676.0 1254.6L1705.5 1284.2M1676.0 1284.2L1705.5 1254.6" stroke="#1a8f74" stroke-width="4.5"/>
<path d="M1834.2 1292.5L1863.8 1322.1M1834.2 1322.1L1863.8 1292.5" stroke="#1a8f74" stroke-width="4.5"/>
<path d="M1560.3 1302.7H1763.3" stroke="#7316a8" stroke-width="4.5"/>
<path d="M1646.5 1302.7H1675.1M1660.8 1288.4V1317.0" stroke="#7316a8" stroke-width="4.5"/>
<path d="M1560.3 1375.2H1765" stroke="#1a8f74" stroke-width="4.5"/>
<path d="M1646.0 1360.4L1675.6 1390.0M1646.0 1390.0L1675.6 1360.4" stroke="#1a8f74" stroke-width="4.5"/>
</g>
</svg></body></html>
